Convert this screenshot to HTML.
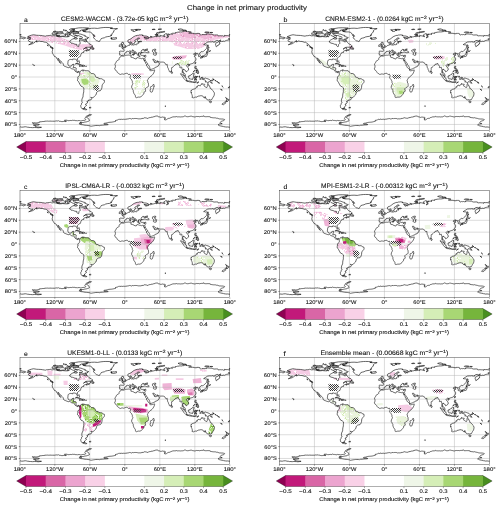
<!DOCTYPE html><html><head><meta charset="utf-8"><style>html,body{margin:0;padding:0;background:#fff;width:500px;height:507px;overflow:hidden}svg{display:block;will-change:transform}text{text-rendering:geometricPrecision;fill:#111;stroke:#111;stroke-width:0.1px}</style></head><body>
<svg width="500" height="507" viewBox="0 0 500 507" style="font-family:'Liberation Sans',sans-serif">
<defs><pattern id="pm" x="0" y="0" width="16" height="16" patternUnits="userSpaceOnUse"><rect width="16" height="16" fill="#f5cbe4"/><rect x="1" y="0" width="1" height="1" fill="#f9d8ea"/><rect x="2" y="0" width="1" height="1" fill="#f9d8ea"/><rect x="3" y="0" width="1" height="1" fill="#eeb2d4"/><rect x="4" y="0" width="1" height="1" fill="#ffffff"/><rect x="2" y="1" width="1" height="1" fill="#ffffff"/><rect x="3" y="1" width="1" height="1" fill="#f9d8ea"/><rect x="4" y="1" width="1" height="1" fill="#ffffff"/><rect x="5" y="2" width="1" height="1" fill="#f9d8ea"/><rect x="7" y="2" width="1" height="1" fill="#fbe3f0"/><rect x="6" y="3" width="1" height="1" fill="#ffffff"/><rect x="7" y="3" width="1" height="1" fill="#ffffff"/><rect x="8" y="3" width="1" height="1" fill="#f9d8ea"/><rect x="7" y="4" width="1" height="1" fill="#ffffff"/><rect x="8" y="4" width="1" height="1" fill="#eeb2d4"/><rect x="9" y="4" width="1" height="1" fill="#f9d8ea"/><rect x="0" y="5" width="1" height="1" fill="#fbe3f0"/><rect x="8" y="5" width="1" height="1" fill="#fbe3f0"/><rect x="9" y="5" width="1" height="1" fill="#f9d8ea"/><rect x="0" y="6" width="1" height="1" fill="#eeb2d4"/><rect x="1" y="6" width="1" height="1" fill="#ffffff"/><rect x="4" y="6" width="1" height="1" fill="#fbe3f0"/><rect x="0" y="7" width="1" height="1" fill="#eeb2d4"/><rect x="9" y="7" width="1" height="1" fill="#f9d8ea"/><rect x="14" y="7" width="1" height="1" fill="#fbe3f0"/><rect x="15" y="7" width="1" height="1" fill="#f9d8ea"/><rect x="1" y="8" width="1" height="1" fill="#ffffff"/><rect x="2" y="8" width="1" height="1" fill="#eeb2d4"/><rect x="8" y="8" width="1" height="1" fill="#f9d8ea"/><rect x="13" y="8" width="1" height="1" fill="#fbe3f0"/><rect x="14" y="8" width="1" height="1" fill="#eeb2d4"/><rect x="15" y="8" width="1" height="1" fill="#f9d8ea"/><rect x="2" y="9" width="1" height="1" fill="#ffffff"/><rect x="6" y="9" width="1" height="1" fill="#eeb2d4"/><rect x="7" y="9" width="1" height="1" fill="#ffffff"/><rect x="8" y="9" width="1" height="1" fill="#ffffff"/><rect x="10" y="9" width="1" height="1" fill="#f9d8ea"/><rect x="13" y="9" width="1" height="1" fill="#f9d8ea"/><rect x="14" y="9" width="1" height="1" fill="#fbe3f0"/><rect x="2" y="10" width="1" height="1" fill="#fbe3f0"/><rect x="4" y="10" width="1" height="1" fill="#eeb2d4"/><rect x="5" y="10" width="1" height="1" fill="#ffffff"/><rect x="6" y="10" width="1" height="1" fill="#ffffff"/><rect x="7" y="10" width="1" height="1" fill="#ffffff"/><rect x="9" y="10" width="1" height="1" fill="#ffffff"/><rect x="10" y="10" width="1" height="1" fill="#fbe3f0"/><rect x="11" y="10" width="1" height="1" fill="#f9d8ea"/><rect x="13" y="10" width="1" height="1" fill="#ffffff"/><rect x="14" y="10" width="1" height="1" fill="#ffffff"/><rect x="0" y="11" width="1" height="1" fill="#eeb2d4"/><rect x="1" y="11" width="1" height="1" fill="#fbe3f0"/><rect x="2" y="11" width="1" height="1" fill="#fbe3f0"/><rect x="6" y="11" width="1" height="1" fill="#ffffff"/><rect x="8" y="11" width="1" height="1" fill="#f9d8ea"/><rect x="9" y="11" width="1" height="1" fill="#fbe3f0"/><rect x="10" y="11" width="1" height="1" fill="#eeb2d4"/><rect x="1" y="12" width="1" height="1" fill="#fbe3f0"/><rect x="7" y="14" width="1" height="1" fill="#f9d8ea"/><rect x="8" y="14" width="1" height="1" fill="#f9d8ea"/><rect x="0" y="15" width="1" height="1" fill="#f9d8ea"/><rect x="1" y="15" width="1" height="1" fill="#f9d8ea"/><rect x="3" y="15" width="1" height="1" fill="#f9d8ea"/><rect x="8" y="15" width="1" height="1" fill="#f9d8ea"/><rect x="9" y="15" width="1" height="1" fill="#eeb2d4"/><rect x="11" y="15" width="1" height="1" fill="#ffffff"/></pattern><pattern id="p2m" x="0" y="0" width="16" height="16" patternUnits="userSpaceOnUse"><rect width="16" height="16" fill="#f0b8d8"/><rect x="1" y="0" width="1" height="1" fill="#f7d9ea"/><rect x="5" y="0" width="1" height="1" fill="#f5cbe4"/><rect x="13" y="0" width="1" height="1" fill="#e79ac6"/><rect x="1" y="1" width="1" height="1" fill="#e79ac6"/><rect x="5" y="1" width="1" height="1" fill="#f7d9ea"/><rect x="1" y="2" width="1" height="1" fill="#e79ac6"/><rect x="6" y="2" width="1" height="1" fill="#f5cbe4"/><rect x="3" y="3" width="1" height="1" fill="#f7d9ea"/><rect x="5" y="3" width="1" height="1" fill="#e79ac6"/><rect x="6" y="3" width="1" height="1" fill="#f7d9ea"/><rect x="7" y="3" width="1" height="1" fill="#e79ac6"/><rect x="4" y="4" width="1" height="1" fill="#f7d9ea"/><rect x="5" y="4" width="1" height="1" fill="#f7d9ea"/><rect x="6" y="4" width="1" height="1" fill="#e79ac6"/><rect x="7" y="4" width="1" height="1" fill="#e79ac6"/><rect x="14" y="4" width="1" height="1" fill="#f5cbe4"/><rect x="2" y="5" width="1" height="1" fill="#e79ac6"/><rect x="3" y="5" width="1" height="1" fill="#e79ac6"/><rect x="4" y="5" width="1" height="1" fill="#f7d9ea"/><rect x="5" y="5" width="1" height="1" fill="#f7d9ea"/><rect x="6" y="5" width="1" height="1" fill="#f5cbe4"/><rect x="7" y="5" width="1" height="1" fill="#f5cbe4"/><rect x="8" y="5" width="1" height="1" fill="#f5cbe4"/><rect x="6" y="6" width="1" height="1" fill="#f7d9ea"/><rect x="7" y="6" width="1" height="1" fill="#f7d9ea"/><rect x="8" y="6" width="1" height="1" fill="#f7d9ea"/><rect x="9" y="6" width="1" height="1" fill="#f7d9ea"/><rect x="10" y="6" width="1" height="1" fill="#f7d9ea"/><rect x="12" y="6" width="1" height="1" fill="#e79ac6"/><rect x="13" y="6" width="1" height="1" fill="#e79ac6"/><rect x="14" y="6" width="1" height="1" fill="#e79ac6"/><rect x="6" y="7" width="1" height="1" fill="#f5cbe4"/><rect x="8" y="7" width="1" height="1" fill="#f7d9ea"/><rect x="9" y="7" width="1" height="1" fill="#f7d9ea"/><rect x="10" y="7" width="1" height="1" fill="#f5cbe4"/><rect x="12" y="7" width="1" height="1" fill="#e79ac6"/><rect x="13" y="7" width="1" height="1" fill="#f7d9ea"/><rect x="14" y="7" width="1" height="1" fill="#e79ac6"/><rect x="9" y="8" width="1" height="1" fill="#f7d9ea"/><rect x="10" y="8" width="1" height="1" fill="#e79ac6"/><rect x="13" y="8" width="1" height="1" fill="#e79ac6"/><rect x="14" y="8" width="1" height="1" fill="#f7d9ea"/><rect x="15" y="8" width="1" height="1" fill="#f7d9ea"/><rect x="5" y="9" width="1" height="1" fill="#f5cbe4"/><rect x="6" y="9" width="1" height="1" fill="#f5cbe4"/><rect x="13" y="9" width="1" height="1" fill="#f7d9ea"/><rect x="14" y="9" width="1" height="1" fill="#f5cbe4"/><rect x="15" y="9" width="1" height="1" fill="#f7d9ea"/><rect x="0" y="10" width="1" height="1" fill="#e79ac6"/><rect x="5" y="10" width="1" height="1" fill="#f5cbe4"/><rect x="6" y="10" width="1" height="1" fill="#f5cbe4"/><rect x="7" y="10" width="1" height="1" fill="#f7d9ea"/><rect x="13" y="10" width="1" height="1" fill="#f5cbe4"/><rect x="14" y="10" width="1" height="1" fill="#f5cbe4"/><rect x="0" y="11" width="1" height="1" fill="#f7d9ea"/><rect x="1" y="11" width="1" height="1" fill="#e79ac6"/><rect x="5" y="11" width="1" height="1" fill="#e79ac6"/><rect x="6" y="11" width="1" height="1" fill="#e79ac6"/><rect x="7" y="11" width="1" height="1" fill="#f7d9ea"/><rect x="8" y="11" width="1" height="1" fill="#e79ac6"/><rect x="13" y="11" width="1" height="1" fill="#e79ac6"/><rect x="14" y="11" width="1" height="1" fill="#e79ac6"/><rect x="15" y="11" width="1" height="1" fill="#f7d9ea"/><rect x="4" y="12" width="1" height="1" fill="#e79ac6"/><rect x="5" y="12" width="1" height="1" fill="#f5cbe4"/><rect x="6" y="12" width="1" height="1" fill="#e79ac6"/><rect x="7" y="12" width="1" height="1" fill="#f7d9ea"/><rect x="8" y="12" width="1" height="1" fill="#e79ac6"/><rect x="12" y="12" width="1" height="1" fill="#f7d9ea"/><rect x="13" y="12" width="1" height="1" fill="#f5cbe4"/><rect x="14" y="12" width="1" height="1" fill="#f7d9ea"/><rect x="15" y="12" width="1" height="1" fill="#f5cbe4"/><rect x="3" y="13" width="1" height="1" fill="#e79ac6"/><rect x="7" y="13" width="1" height="1" fill="#e79ac6"/><rect x="8" y="13" width="1" height="1" fill="#f5cbe4"/><rect x="11" y="13" width="1" height="1" fill="#f7d9ea"/><rect x="12" y="13" width="1" height="1" fill="#f7d9ea"/><rect x="13" y="13" width="1" height="1" fill="#f7d9ea"/><rect x="14" y="13" width="1" height="1" fill="#e79ac6"/><rect x="1" y="14" width="1" height="1" fill="#f5cbe4"/><rect x="2" y="14" width="1" height="1" fill="#f7d9ea"/><rect x="10" y="14" width="1" height="1" fill="#f7d9ea"/><rect x="13" y="14" width="1" height="1" fill="#f7d9ea"/><rect x="14" y="14" width="1" height="1" fill="#f7d9ea"/><rect x="0" y="15" width="1" height="1" fill="#f5cbe4"/><rect x="1" y="15" width="1" height="1" fill="#f7d9ea"/><rect x="2" y="15" width="1" height="1" fill="#e79ac6"/><rect x="5" y="15" width="1" height="1" fill="#f5cbe4"/><rect x="9" y="15" width="1" height="1" fill="#e79ac6"/><rect x="10" y="15" width="1" height="1" fill="#e79ac6"/></pattern><pattern id="gm" x="0" y="0" width="16" height="16" patternUnits="userSpaceOnUse"><rect width="16" height="16" fill="#eaf4dc"/><rect x="7" y="0" width="1" height="1" fill="#ffffff"/><rect x="8" y="0" width="1" height="1" fill="#f6faf0"/><rect x="9" y="0" width="1" height="1" fill="#f6faf0"/><rect x="5" y="1" width="1" height="1" fill="#d2ecb2"/><rect x="6" y="1" width="1" height="1" fill="#f6faf0"/><rect x="7" y="1" width="1" height="1" fill="#f6faf0"/><rect x="8" y="1" width="1" height="1" fill="#ffffff"/><rect x="9" y="1" width="1" height="1" fill="#d2ecb2"/><rect x="10" y="1" width="1" height="1" fill="#f6faf0"/><rect x="9" y="2" width="1" height="1" fill="#d2ecb2"/><rect x="10" y="2" width="1" height="1" fill="#f6faf0"/><rect x="11" y="2" width="1" height="1" fill="#f6faf0"/><rect x="12" y="2" width="1" height="1" fill="#ffffff"/><rect x="8" y="3" width="1" height="1" fill="#f6faf0"/><rect x="9" y="3" width="1" height="1" fill="#ffffff"/><rect x="10" y="3" width="1" height="1" fill="#d2ecb2"/><rect x="9" y="4" width="1" height="1" fill="#d2ecb2"/><rect x="10" y="4" width="1" height="1" fill="#ffffff"/><rect x="0" y="5" width="1" height="1" fill="#d2ecb2"/><rect x="8" y="5" width="1" height="1" fill="#f6faf0"/><rect x="9" y="5" width="1" height="1" fill="#d2ecb2"/><rect x="10" y="5" width="1" height="1" fill="#f6faf0"/><rect x="9" y="6" width="1" height="1" fill="#f6faf0"/><rect x="10" y="6" width="1" height="1" fill="#d2ecb2"/><rect x="8" y="7" width="1" height="1" fill="#ffffff"/><rect x="9" y="7" width="1" height="1" fill="#f6faf0"/><rect x="10" y="7" width="1" height="1" fill="#f6faf0"/><rect x="8" y="8" width="1" height="1" fill="#f6faf0"/><rect x="9" y="8" width="1" height="1" fill="#d2ecb2"/><rect x="10" y="8" width="1" height="1" fill="#f6faf0"/><rect x="1" y="9" width="1" height="1" fill="#d2ecb2"/><rect x="2" y="9" width="1" height="1" fill="#f6faf0"/><rect x="7" y="9" width="1" height="1" fill="#ffffff"/><rect x="8" y="9" width="1" height="1" fill="#d2ecb2"/><rect x="9" y="9" width="1" height="1" fill="#d2ecb2"/><rect x="10" y="9" width="1" height="1" fill="#f6faf0"/><rect x="0" y="10" width="1" height="1" fill="#f6faf0"/><rect x="1" y="10" width="1" height="1" fill="#d2ecb2"/><rect x="2" y="10" width="1" height="1" fill="#ffffff"/><rect x="3" y="10" width="1" height="1" fill="#ffffff"/><rect x="4" y="10" width="1" height="1" fill="#ffffff"/><rect x="5" y="10" width="1" height="1" fill="#f6faf0"/><rect x="8" y="10" width="1" height="1" fill="#d2ecb2"/><rect x="9" y="10" width="1" height="1" fill="#f6faf0"/><rect x="10" y="10" width="1" height="1" fill="#f6faf0"/><rect x="2" y="11" width="1" height="1" fill="#ffffff"/><rect x="3" y="11" width="1" height="1" fill="#d2ecb2"/><rect x="4" y="11" width="1" height="1" fill="#d2ecb2"/><rect x="9" y="11" width="1" height="1" fill="#d2ecb2"/><rect x="4" y="12" width="1" height="1" fill="#d2ecb2"/><rect x="8" y="12" width="1" height="1" fill="#d2ecb2"/><rect x="10" y="12" width="1" height="1" fill="#ffffff"/><rect x="6" y="13" width="1" height="1" fill="#ffffff"/><rect x="7" y="13" width="1" height="1" fill="#d2ecb2"/><rect x="8" y="13" width="1" height="1" fill="#f6faf0"/><rect x="14" y="13" width="1" height="1" fill="#ffffff"/><rect x="0" y="14" width="1" height="1" fill="#f6faf0"/><rect x="6" y="14" width="1" height="1" fill="#d2ecb2"/><rect x="7" y="14" width="1" height="1" fill="#f6faf0"/><rect x="8" y="14" width="1" height="1" fill="#ffffff"/><rect x="14" y="14" width="1" height="1" fill="#f6faf0"/><rect x="15" y="14" width="1" height="1" fill="#ffffff"/><rect x="7" y="15" width="1" height="1" fill="#d2ecb2"/><rect x="8" y="15" width="1" height="1" fill="#f6faf0"/></pattern><pattern id="ps" x="0" y="0" width="16" height="16" patternUnits="userSpaceOnUse"><rect x="9" y="0" width="1" height="1" fill="#f9dcec"/><rect x="11" y="0" width="1" height="1" fill="#efb3d6"/><rect x="12" y="0" width="1" height="1" fill="#efb3d6"/><rect x="13" y="0" width="1" height="1" fill="#f5cbe4"/><rect x="2" y="1" width="1" height="1" fill="#f5cbe4"/><rect x="9" y="1" width="1" height="1" fill="#f9dcec"/><rect x="10" y="1" width="1" height="1" fill="#f5cbe4"/><rect x="11" y="1" width="1" height="1" fill="#f9dcec"/><rect x="12" y="1" width="1" height="1" fill="#f9dcec"/><rect x="2" y="2" width="1" height="1" fill="#efb3d6"/><rect x="8" y="2" width="1" height="1" fill="#f5cbe4"/><rect x="9" y="2" width="1" height="1" fill="#f5cbe4"/><rect x="10" y="2" width="1" height="1" fill="#f5cbe4"/><rect x="11" y="2" width="1" height="1" fill="#f9dcec"/><rect x="12" y="2" width="1" height="1" fill="#f5cbe4"/><rect x="13" y="2" width="1" height="1" fill="#f5cbe4"/><rect x="14" y="2" width="1" height="1" fill="#f5cbe4"/><rect x="0" y="3" width="1" height="1" fill="#f5cbe4"/><rect x="10" y="3" width="1" height="1" fill="#f5cbe4"/><rect x="11" y="3" width="1" height="1" fill="#f9dcec"/><rect x="12" y="3" width="1" height="1" fill="#f5cbe4"/><rect x="13" y="3" width="1" height="1" fill="#f9dcec"/><rect x="14" y="3" width="1" height="1" fill="#f9dcec"/><rect x="15" y="3" width="1" height="1" fill="#f5cbe4"/><rect x="0" y="4" width="1" height="1" fill="#efb3d6"/><rect x="1" y="4" width="1" height="1" fill="#f5cbe4"/><rect x="7" y="4" width="1" height="1" fill="#f5cbe4"/><rect x="8" y="4" width="1" height="1" fill="#f5cbe4"/><rect x="9" y="4" width="1" height="1" fill="#f5cbe4"/><rect x="10" y="4" width="1" height="1" fill="#efb3d6"/><rect x="11" y="4" width="1" height="1" fill="#f9dcec"/><rect x="12" y="4" width="1" height="1" fill="#efb3d6"/><rect x="13" y="4" width="1" height="1" fill="#f5cbe4"/><rect x="14" y="4" width="1" height="1" fill="#f5cbe4"/><rect x="15" y="4" width="1" height="1" fill="#efb3d6"/><rect x="0" y="5" width="1" height="1" fill="#f9dcec"/><rect x="1" y="5" width="1" height="1" fill="#f5cbe4"/><rect x="4" y="5" width="1" height="1" fill="#efb3d6"/><rect x="5" y="5" width="1" height="1" fill="#f5cbe4"/><rect x="6" y="5" width="1" height="1" fill="#f5cbe4"/><rect x="7" y="5" width="1" height="1" fill="#f9dcec"/><rect x="8" y="5" width="1" height="1" fill="#f5cbe4"/><rect x="9" y="5" width="1" height="1" fill="#f9dcec"/><rect x="10" y="5" width="1" height="1" fill="#f5cbe4"/><rect x="12" y="5" width="1" height="1" fill="#f5cbe4"/><rect x="15" y="5" width="1" height="1" fill="#f5cbe4"/><rect x="0" y="6" width="1" height="1" fill="#f5cbe4"/><rect x="1" y="6" width="1" height="1" fill="#f5cbe4"/><rect x="2" y="6" width="1" height="1" fill="#f9dcec"/><rect x="3" y="6" width="1" height="1" fill="#f9dcec"/><rect x="5" y="6" width="1" height="1" fill="#f9dcec"/><rect x="6" y="6" width="1" height="1" fill="#f9dcec"/><rect x="7" y="6" width="1" height="1" fill="#efb3d6"/><rect x="8" y="6" width="1" height="1" fill="#f5cbe4"/><rect x="9" y="6" width="1" height="1" fill="#f5cbe4"/><rect x="10" y="6" width="1" height="1" fill="#f9dcec"/><rect x="11" y="6" width="1" height="1" fill="#f5cbe4"/><rect x="0" y="7" width="1" height="1" fill="#f5cbe4"/><rect x="1" y="7" width="1" height="1" fill="#f9dcec"/><rect x="3" y="7" width="1" height="1" fill="#f5cbe4"/><rect x="4" y="7" width="1" height="1" fill="#f5cbe4"/><rect x="5" y="7" width="1" height="1" fill="#efb3d6"/><rect x="8" y="7" width="1" height="1" fill="#f5cbe4"/><rect x="9" y="7" width="1" height="1" fill="#f5cbe4"/><rect x="10" y="7" width="1" height="1" fill="#efb3d6"/><rect x="4" y="8" width="1" height="1" fill="#f5cbe4"/><rect x="5" y="8" width="1" height="1" fill="#f5cbe4"/><rect x="7" y="8" width="1" height="1" fill="#f5cbe4"/><rect x="8" y="8" width="1" height="1" fill="#f9dcec"/><rect x="9" y="8" width="1" height="1" fill="#f5cbe4"/><rect x="10" y="8" width="1" height="1" fill="#f5cbe4"/><rect x="2" y="9" width="1" height="1" fill="#f9dcec"/><rect x="4" y="9" width="1" height="1" fill="#f5cbe4"/><rect x="7" y="9" width="1" height="1" fill="#efb3d6"/><rect x="8" y="9" width="1" height="1" fill="#f5cbe4"/><rect x="9" y="9" width="1" height="1" fill="#f9dcec"/><rect x="12" y="9" width="1" height="1" fill="#f9dcec"/><rect x="2" y="10" width="1" height="1" fill="#f5cbe4"/><rect x="3" y="10" width="1" height="1" fill="#f5cbe4"/><rect x="4" y="10" width="1" height="1" fill="#f9dcec"/><rect x="8" y="10" width="1" height="1" fill="#f5cbe4"/><rect x="9" y="10" width="1" height="1" fill="#f5cbe4"/><rect x="11" y="10" width="1" height="1" fill="#f5cbe4"/><rect x="12" y="10" width="1" height="1" fill="#f9dcec"/><rect x="2" y="11" width="1" height="1" fill="#f9dcec"/><rect x="3" y="11" width="1" height="1" fill="#f5cbe4"/><rect x="4" y="11" width="1" height="1" fill="#f9dcec"/><rect x="9" y="11" width="1" height="1" fill="#f5cbe4"/><rect x="10" y="11" width="1" height="1" fill="#efb3d6"/><rect x="11" y="11" width="1" height="1" fill="#f9dcec"/><rect x="12" y="11" width="1" height="1" fill="#f5cbe4"/><rect x="2" y="12" width="1" height="1" fill="#efb3d6"/><rect x="3" y="12" width="1" height="1" fill="#f5cbe4"/><rect x="5" y="12" width="1" height="1" fill="#f5cbe4"/><rect x="6" y="12" width="1" height="1" fill="#f9dcec"/><rect x="9" y="12" width="1" height="1" fill="#f9dcec"/><rect x="10" y="12" width="1" height="1" fill="#f9dcec"/><rect x="11" y="12" width="1" height="1" fill="#f5cbe4"/><rect x="14" y="12" width="1" height="1" fill="#f5cbe4"/><rect x="1" y="13" width="1" height="1" fill="#efb3d6"/><rect x="2" y="13" width="1" height="1" fill="#efb3d6"/><rect x="3" y="13" width="1" height="1" fill="#f5cbe4"/><rect x="4" y="13" width="1" height="1" fill="#f5cbe4"/><rect x="5" y="13" width="1" height="1" fill="#f5cbe4"/><rect x="6" y="13" width="1" height="1" fill="#efb3d6"/><rect x="10" y="13" width="1" height="1" fill="#f5cbe4"/><rect x="11" y="13" width="1" height="1" fill="#f9dcec"/><rect x="12" y="13" width="1" height="1" fill="#efb3d6"/><rect x="13" y="13" width="1" height="1" fill="#f5cbe4"/><rect x="14" y="13" width="1" height="1" fill="#efb3d6"/><rect x="15" y="13" width="1" height="1" fill="#f5cbe4"/><rect x="0" y="14" width="1" height="1" fill="#f5cbe4"/><rect x="2" y="14" width="1" height="1" fill="#f5cbe4"/><rect x="3" y="14" width="1" height="1" fill="#f9dcec"/><rect x="4" y="14" width="1" height="1" fill="#f5cbe4"/><rect x="5" y="14" width="1" height="1" fill="#f5cbe4"/><rect x="6" y="14" width="1" height="1" fill="#f9dcec"/><rect x="11" y="14" width="1" height="1" fill="#efb3d6"/><rect x="12" y="14" width="1" height="1" fill="#f5cbe4"/><rect x="13" y="14" width="1" height="1" fill="#f9dcec"/><rect x="14" y="14" width="1" height="1" fill="#f5cbe4"/><rect x="15" y="14" width="1" height="1" fill="#efb3d6"/><rect x="5" y="15" width="1" height="1" fill="#f5cbe4"/><rect x="11" y="15" width="1" height="1" fill="#f5cbe4"/><rect x="12" y="15" width="1" height="1" fill="#efb3d6"/><rect x="13" y="15" width="1" height="1" fill="#f9dcec"/><rect x="14" y="15" width="1" height="1" fill="#efb3d6"/><rect x="15" y="15" width="1" height="1" fill="#f9dcec"/></pattern><pattern id="gs" x="0" y="0" width="16" height="16" patternUnits="userSpaceOnUse"><rect x="0" y="0" width="1" height="1" fill="#eaf4dc"/><rect x="1" y="0" width="1" height="1" fill="#eaf4dc"/><rect x="2" y="0" width="1" height="1" fill="#d5eeb7"/><rect x="3" y="0" width="1" height="1" fill="#d5eeb7"/><rect x="5" y="0" width="1" height="1" fill="#d5eeb7"/><rect x="6" y="0" width="1" height="1" fill="#eaf4dc"/><rect x="7" y="0" width="1" height="1" fill="#eaf4dc"/><rect x="8" y="0" width="1" height="1" fill="#d5eeb7"/><rect x="9" y="0" width="1" height="1" fill="#d5eeb7"/><rect x="10" y="0" width="1" height="1" fill="#eaf4dc"/><rect x="11" y="0" width="1" height="1" fill="#eaf4dc"/><rect x="12" y="0" width="1" height="1" fill="#eaf4dc"/><rect x="15" y="0" width="1" height="1" fill="#eaf4dc"/><rect x="3" y="1" width="1" height="1" fill="#eaf4dc"/><rect x="4" y="1" width="1" height="1" fill="#eaf4dc"/><rect x="5" y="1" width="1" height="1" fill="#eaf4dc"/><rect x="6" y="1" width="1" height="1" fill="#d5eeb7"/><rect x="7" y="1" width="1" height="1" fill="#d5eeb7"/><rect x="8" y="1" width="1" height="1" fill="#d5eeb7"/><rect x="9" y="1" width="1" height="1" fill="#d5eeb7"/><rect x="10" y="1" width="1" height="1" fill="#eaf4dc"/><rect x="11" y="1" width="1" height="1" fill="#d5eeb7"/><rect x="15" y="1" width="1" height="1" fill="#d5eeb7"/><rect x="0" y="2" width="1" height="1" fill="#d5eeb7"/><rect x="4" y="2" width="1" height="1" fill="#eaf4dc"/><rect x="5" y="2" width="1" height="1" fill="#d5eeb7"/><rect x="6" y="2" width="1" height="1" fill="#eaf4dc"/><rect x="7" y="2" width="1" height="1" fill="#eaf4dc"/><rect x="8" y="2" width="1" height="1" fill="#d5eeb7"/><rect x="9" y="2" width="1" height="1" fill="#eaf4dc"/><rect x="10" y="2" width="1" height="1" fill="#eaf4dc"/><rect x="11" y="2" width="1" height="1" fill="#d5eeb7"/><rect x="14" y="2" width="1" height="1" fill="#eaf4dc"/><rect x="15" y="2" width="1" height="1" fill="#eaf4dc"/><rect x="0" y="3" width="1" height="1" fill="#eaf4dc"/><rect x="1" y="3" width="1" height="1" fill="#eaf4dc"/><rect x="4" y="3" width="1" height="1" fill="#eaf4dc"/><rect x="5" y="3" width="1" height="1" fill="#eaf4dc"/><rect x="6" y="3" width="1" height="1" fill="#d5eeb7"/><rect x="7" y="3" width="1" height="1" fill="#d5eeb7"/><rect x="8" y="3" width="1" height="1" fill="#eaf4dc"/><rect x="9" y="3" width="1" height="1" fill="#eaf4dc"/><rect x="14" y="3" width="1" height="1" fill="#eaf4dc"/><rect x="15" y="3" width="1" height="1" fill="#d5eeb7"/><rect x="0" y="4" width="1" height="1" fill="#d5eeb7"/><rect x="4" y="4" width="1" height="1" fill="#eaf4dc"/><rect x="5" y="4" width="1" height="1" fill="#eaf4dc"/><rect x="7" y="4" width="1" height="1" fill="#eaf4dc"/><rect x="8" y="4" width="1" height="1" fill="#eaf4dc"/><rect x="9" y="4" width="1" height="1" fill="#eaf4dc"/><rect x="14" y="4" width="1" height="1" fill="#d5eeb7"/><rect x="15" y="4" width="1" height="1" fill="#eaf4dc"/><rect x="0" y="5" width="1" height="1" fill="#eaf4dc"/><rect x="4" y="5" width="1" height="1" fill="#eaf4dc"/><rect x="7" y="5" width="1" height="1" fill="#eaf4dc"/><rect x="8" y="5" width="1" height="1" fill="#eaf4dc"/><rect x="14" y="5" width="1" height="1" fill="#eaf4dc"/><rect x="15" y="5" width="1" height="1" fill="#eaf4dc"/><rect x="0" y="6" width="1" height="1" fill="#eaf4dc"/><rect x="8" y="6" width="1" height="1" fill="#eaf4dc"/><rect x="9" y="6" width="1" height="1" fill="#d5eeb7"/><rect x="14" y="6" width="1" height="1" fill="#eaf4dc"/><rect x="0" y="7" width="1" height="1" fill="#d5eeb7"/><rect x="6" y="7" width="1" height="1" fill="#d5eeb7"/><rect x="7" y="7" width="1" height="1" fill="#d5eeb7"/><rect x="8" y="7" width="1" height="1" fill="#eaf4dc"/><rect x="15" y="7" width="1" height="1" fill="#eaf4dc"/><rect x="5" y="8" width="1" height="1" fill="#eaf4dc"/><rect x="6" y="8" width="1" height="1" fill="#d5eeb7"/><rect x="7" y="8" width="1" height="1" fill="#d5eeb7"/><rect x="4" y="9" width="1" height="1" fill="#d5eeb7"/><rect x="5" y="9" width="1" height="1" fill="#d5eeb7"/><rect x="6" y="9" width="1" height="1" fill="#eaf4dc"/><rect x="7" y="9" width="1" height="1" fill="#eaf4dc"/><rect x="14" y="9" width="1" height="1" fill="#eaf4dc"/><rect x="15" y="9" width="1" height="1" fill="#eaf4dc"/><rect x="3" y="10" width="1" height="1" fill="#d5eeb7"/><rect x="4" y="10" width="1" height="1" fill="#eaf4dc"/><rect x="5" y="10" width="1" height="1" fill="#eaf4dc"/><rect x="6" y="10" width="1" height="1" fill="#eaf4dc"/><rect x="13" y="10" width="1" height="1" fill="#eaf4dc"/><rect x="14" y="10" width="1" height="1" fill="#eaf4dc"/><rect x="15" y="10" width="1" height="1" fill="#eaf4dc"/><rect x="3" y="11" width="1" height="1" fill="#d5eeb7"/><rect x="4" y="11" width="1" height="1" fill="#eaf4dc"/><rect x="5" y="11" width="1" height="1" fill="#d5eeb7"/><rect x="6" y="11" width="1" height="1" fill="#eaf4dc"/><rect x="10" y="11" width="1" height="1" fill="#eaf4dc"/><rect x="13" y="11" width="1" height="1" fill="#eaf4dc"/><rect x="14" y="11" width="1" height="1" fill="#eaf4dc"/><rect x="15" y="11" width="1" height="1" fill="#eaf4dc"/><rect x="4" y="12" width="1" height="1" fill="#eaf4dc"/><rect x="5" y="12" width="1" height="1" fill="#d5eeb7"/><rect x="6" y="12" width="1" height="1" fill="#eaf4dc"/><rect x="10" y="12" width="1" height="1" fill="#eaf4dc"/><rect x="12" y="12" width="1" height="1" fill="#eaf4dc"/><rect x="13" y="12" width="1" height="1" fill="#eaf4dc"/><rect x="14" y="12" width="1" height="1" fill="#eaf4dc"/><rect x="4" y="13" width="1" height="1" fill="#eaf4dc"/><rect x="5" y="13" width="1" height="1" fill="#eaf4dc"/><rect x="6" y="13" width="1" height="1" fill="#eaf4dc"/><rect x="7" y="13" width="1" height="1" fill="#d5eeb7"/><rect x="9" y="13" width="1" height="1" fill="#d5eeb7"/><rect x="10" y="13" width="1" height="1" fill="#eaf4dc"/><rect x="11" y="13" width="1" height="1" fill="#eaf4dc"/><rect x="12" y="13" width="1" height="1" fill="#eaf4dc"/><rect x="3" y="14" width="1" height="1" fill="#d5eeb7"/><rect x="4" y="14" width="1" height="1" fill="#d5eeb7"/><rect x="5" y="14" width="1" height="1" fill="#eaf4dc"/><rect x="6" y="14" width="1" height="1" fill="#eaf4dc"/><rect x="7" y="14" width="1" height="1" fill="#eaf4dc"/><rect x="8" y="14" width="1" height="1" fill="#eaf4dc"/><rect x="9" y="14" width="1" height="1" fill="#d5eeb7"/><rect x="10" y="14" width="1" height="1" fill="#eaf4dc"/><rect x="11" y="14" width="1" height="1" fill="#eaf4dc"/><rect x="12" y="14" width="1" height="1" fill="#eaf4dc"/><rect x="1" y="15" width="1" height="1" fill="#d5eeb7"/><rect x="2" y="15" width="1" height="1" fill="#eaf4dc"/><rect x="3" y="15" width="1" height="1" fill="#d5eeb7"/><rect x="4" y="15" width="1" height="1" fill="#eaf4dc"/><rect x="5" y="15" width="1" height="1" fill="#eaf4dc"/><rect x="6" y="15" width="1" height="1" fill="#d5eeb7"/><rect x="7" y="15" width="1" height="1" fill="#eaf4dc"/><rect x="8" y="15" width="1" height="1" fill="#eaf4dc"/><rect x="9" y="15" width="1" height="1" fill="#d5eeb7"/><rect x="10" y="15" width="1" height="1" fill="#eaf4dc"/><rect x="11" y="15" width="1" height="1" fill="#d5eeb7"/><rect x="12" y="15" width="1" height="1" fill="#eaf4dc"/></pattern><pattern id="g3m" x="0" y="0" width="16" height="16" patternUnits="userSpaceOnUse"><rect width="16" height="16" fill="#a8d774"/><rect x="1" y="0" width="1" height="1" fill="#76b53c"/><rect x="2" y="0" width="1" height="1" fill="#eaf4dc"/><rect x="3" y="0" width="1" height="1" fill="#8cc653"/><rect x="14" y="0" width="1" height="1" fill="#8cc653"/><rect x="2" y="1" width="1" height="1" fill="#eaf4dc"/><rect x="3" y="1" width="1" height="1" fill="#8cc653"/><rect x="4" y="1" width="1" height="1" fill="#d5eeb7"/><rect x="11" y="1" width="1" height="1" fill="#d5eeb7"/><rect x="13" y="1" width="1" height="1" fill="#8cc653"/><rect x="3" y="2" width="1" height="1" fill="#8cc653"/><rect x="9" y="2" width="1" height="1" fill="#eaf4dc"/><rect x="10" y="2" width="1" height="1" fill="#eaf4dc"/><rect x="11" y="2" width="1" height="1" fill="#eaf4dc"/><rect x="14" y="2" width="1" height="1" fill="#8cc653"/><rect x="15" y="2" width="1" height="1" fill="#76b53c"/><rect x="2" y="3" width="1" height="1" fill="#eaf4dc"/><rect x="5" y="3" width="1" height="1" fill="#76b53c"/><rect x="10" y="3" width="1" height="1" fill="#76b53c"/><rect x="11" y="3" width="1" height="1" fill="#76b53c"/><rect x="14" y="3" width="1" height="1" fill="#76b53c"/><rect x="15" y="3" width="1" height="1" fill="#76b53c"/><rect x="2" y="4" width="1" height="1" fill="#8cc653"/><rect x="3" y="4" width="1" height="1" fill="#eaf4dc"/><rect x="4" y="4" width="1" height="1" fill="#76b53c"/><rect x="5" y="4" width="1" height="1" fill="#8cc653"/><rect x="6" y="4" width="1" height="1" fill="#d5eeb7"/><rect x="7" y="4" width="1" height="1" fill="#eaf4dc"/><rect x="10" y="4" width="1" height="1" fill="#eaf4dc"/><rect x="11" y="4" width="1" height="1" fill="#d5eeb7"/><rect x="2" y="5" width="1" height="1" fill="#8cc653"/><rect x="3" y="5" width="1" height="1" fill="#8cc653"/><rect x="4" y="5" width="1" height="1" fill="#d5eeb7"/><rect x="5" y="5" width="1" height="1" fill="#d5eeb7"/><rect x="6" y="5" width="1" height="1" fill="#d5eeb7"/><rect x="7" y="5" width="1" height="1" fill="#76b53c"/><rect x="10" y="5" width="1" height="1" fill="#76b53c"/><rect x="11" y="5" width="1" height="1" fill="#76b53c"/><rect x="12" y="5" width="1" height="1" fill="#eaf4dc"/><rect x="0" y="6" width="1" height="1" fill="#d5eeb7"/><rect x="3" y="6" width="1" height="1" fill="#eaf4dc"/><rect x="4" y="6" width="1" height="1" fill="#d5eeb7"/><rect x="5" y="6" width="1" height="1" fill="#8cc653"/><rect x="6" y="6" width="1" height="1" fill="#eaf4dc"/><rect x="9" y="6" width="1" height="1" fill="#76b53c"/><rect x="10" y="6" width="1" height="1" fill="#8cc653"/><rect x="14" y="6" width="1" height="1" fill="#d5eeb7"/><rect x="15" y="6" width="1" height="1" fill="#8cc653"/><rect x="3" y="7" width="1" height="1" fill="#eaf4dc"/><rect x="4" y="7" width="1" height="1" fill="#eaf4dc"/><rect x="5" y="7" width="1" height="1" fill="#76b53c"/><rect x="8" y="7" width="1" height="1" fill="#d5eeb7"/><rect x="9" y="7" width="1" height="1" fill="#8cc653"/><rect x="10" y="7" width="1" height="1" fill="#eaf4dc"/><rect x="13" y="7" width="1" height="1" fill="#76b53c"/><rect x="14" y="7" width="1" height="1" fill="#76b53c"/><rect x="15" y="7" width="1" height="1" fill="#eaf4dc"/><rect x="4" y="8" width="1" height="1" fill="#eaf4dc"/><rect x="5" y="8" width="1" height="1" fill="#76b53c"/><rect x="8" y="8" width="1" height="1" fill="#d5eeb7"/><rect x="9" y="8" width="1" height="1" fill="#d5eeb7"/><rect x="10" y="8" width="1" height="1" fill="#d5eeb7"/><rect x="13" y="8" width="1" height="1" fill="#76b53c"/><rect x="14" y="8" width="1" height="1" fill="#eaf4dc"/><rect x="4" y="9" width="1" height="1" fill="#eaf4dc"/><rect x="5" y="9" width="1" height="1" fill="#d5eeb7"/><rect x="3" y="10" width="1" height="1" fill="#76b53c"/><rect x="4" y="10" width="1" height="1" fill="#76b53c"/><rect x="5" y="10" width="1" height="1" fill="#76b53c"/><rect x="2" y="11" width="1" height="1" fill="#8cc653"/><rect x="3" y="11" width="1" height="1" fill="#eaf4dc"/><rect x="4" y="11" width="1" height="1" fill="#8cc653"/><rect x="5" y="11" width="1" height="1" fill="#eaf4dc"/><rect x="10" y="11" width="1" height="1" fill="#8cc653"/><rect x="11" y="11" width="1" height="1" fill="#8cc653"/><rect x="1" y="12" width="1" height="1" fill="#8cc653"/><rect x="2" y="12" width="1" height="1" fill="#d5eeb7"/><rect x="9" y="12" width="1" height="1" fill="#d5eeb7"/><rect x="10" y="12" width="1" height="1" fill="#d5eeb7"/><rect x="11" y="12" width="1" height="1" fill="#eaf4dc"/><rect x="14" y="12" width="1" height="1" fill="#d5eeb7"/><rect x="8" y="13" width="1" height="1" fill="#eaf4dc"/><rect x="9" y="13" width="1" height="1" fill="#8cc653"/><rect x="10" y="13" width="1" height="1" fill="#8cc653"/><rect x="14" y="13" width="1" height="1" fill="#8cc653"/><rect x="15" y="13" width="1" height="1" fill="#d5eeb7"/><rect x="0" y="14" width="1" height="1" fill="#eaf4dc"/><rect x="1" y="14" width="1" height="1" fill="#d5eeb7"/><rect x="7" y="14" width="1" height="1" fill="#76b53c"/><rect x="8" y="14" width="1" height="1" fill="#8cc653"/><rect x="9" y="14" width="1" height="1" fill="#76b53c"/><rect x="10" y="14" width="1" height="1" fill="#eaf4dc"/><rect x="11" y="14" width="1" height="1" fill="#d5eeb7"/><rect x="12" y="14" width="1" height="1" fill="#d5eeb7"/><rect x="13" y="14" width="1" height="1" fill="#eaf4dc"/><rect x="14" y="14" width="1" height="1" fill="#8cc653"/><rect x="15" y="14" width="1" height="1" fill="#8cc653"/><rect x="0" y="15" width="1" height="1" fill="#76b53c"/><rect x="1" y="15" width="1" height="1" fill="#eaf4dc"/><rect x="2" y="15" width="1" height="1" fill="#eaf4dc"/><rect x="5" y="15" width="1" height="1" fill="#76b53c"/><rect x="6" y="15" width="1" height="1" fill="#d5eeb7"/><rect x="11" y="15" width="1" height="1" fill="#8cc653"/><rect x="12" y="15" width="1" height="1" fill="#eaf4dc"/></pattern><pattern id="hx" x="0" y="0" width="2" height="2" patternUnits="userSpaceOnUse"><rect x="0" y="0" width="1" height="1" fill="#333" shape-rendering="crispEdges"/><rect x="1" y="1" width="1" height="1" fill="#333" shape-rendering="crispEdges"/></pattern>
<path id="landpath" clip-rule="evenodd" d="M12 24.4L14 23.7L16.3 23.4L18 24L18.5 23.1L16.2 22.8L13.5 21.7L15.5 21.1L17 20.3L20 19.4L23.2 18.7L26 19.1L29 19.6L32 19.7L36 19.9L39 20.3L42 20.8L44 21.1L45.5 20.4L48 20.3L50.5 20L52 19.5L54 20.4L55.6 20.6L58 20.2L61 20.6L64 21.3L66 21.8L68 22.2L71 22.1L73.5 21.7L76 22L78.5 22.2L81.5 22.2L83 21.5L84 22L85 21.2L86 20L84.5 18.2L86.5 18L88 19.5L90 20.7L92 21.4L93.5 22L94.5 20.2L97.5 20.4L98.7 21.4L97.5 22.5L96 23.4L94.4 23.5L93.2 24.1L92.5 25.4L90.5 26L89.2 26.8L87.5 27.8L85.8 29.2L85.4 31L86.8 31.2L87.8 32.9L90 33L92 33.6L94.5 34.7L97.7 34.9L97.8 37L98.5 37.8L100 38.7L101 38.4L101.2 37L101 35.5L102.5 34.4L103.4 33.5L103.5 32L102.6 31L102.7 29.2L101.8 27.6L104.5 27.7L107 27.9L108.5 28.9L110.5 29L110.6 30L112 30.6L113.5 30.4L115.3 29.7L117 32L118.5 33.7L120.5 34.8L122.4 35.4L124 37L124.3 38L122.7 39.3L120 39.8L116.5 39.7L113.5 40L111 41.7L109 43.1L111.5 41.4L113.5 40.8L115.5 41.2L115 42.1L115.2 43L116.2 43.8L118.5 44.2L119.5 43.6L120 44.3L118.5 44.8L116.5 45.4L114.2 46.4L113.8 45.5L115.5 44.7L114 44.8L112.7 45.4L111.2 45.8L109.8 46.5L109.3 47.4L110 48L110 48.4L108.7 48.6L107.5 48.8L106 49.4L105.8 50.2L105.1 51.1L104.9 51.6L104.3 52.5L104 53.2L104.5 54.4L103.8 55.2L102.5 55.6L101.2 56.4L100.4 57.3L99.2 58.2L98.6 59.5L99 60.8L99.6 62.6L99.9 64L99.5 64.8L98.7 64.5L98.2 63.4L97.3 62L97.1 60.7L96 60L94.7 60.3L93.5 59.6L91.9 59.6L90.6 59.8L90.9 60.8L89.8 60.9L88.2 60.4L86.5 60.3L85.2 60.7L83.5 61.7L82.7 62.7L82.6 64.1L82.4 66L82.2 67.7L82.8 69.3L83.6 70.7L85 71.5L86 71.8L87.8 71.4L89 71L89.6 69.2L91 68.7L92.8 68.5L92.6 70.2L92.2 71.7L91.7 73.2L91.4 74.3L92.5 74.2L95 74.1L96.7 75L96.4 76.7L96.2 78.5L96.6 79.4L97.5 80.5L98.5 81.2L100 80.7L101 80.5L102.6 81.4L103.2 82L103.7 80.7L104.4 79.5L105.1 79L106.7 78.7L107.8 78.1L108.6 77.7L108.4 78.6L108.2 79.2L108.4 80.4L109 79.2L109.8 78.5L110.5 78.5L111.6 79.3L113.8 79.4L115.7 79.4L117.8 79.4L118.2 80L119.3 81.5L120.6 82.1L121.6 83L122.8 84.2L124.2 84.1L126 84.3L127.5 85.1L128.5 85.8L129.1 87.2L130 88.3L130 89.5L131.4 90.7L132.2 90.6L134 91.1L135.2 91.6L135.7 92.8L138 92.8L140 92.9L141.5 93.7L143 94.9L144.7 95.2L145.1 97.5L144.8 99L143.4 100.4L142.4 102L141.2 103.2L141 105L140.8 107.4L140.2 109.6L139.1 111.8L138.1 113L135.4 113.4L133.5 114.1L132 115.5L131.4 117L131.2 118.6L129.8 120.8L128.6 121.8L127 123.4L126 124.6L124.5 124.8L123.2 124.8L121.6 124L122.5 125.5L123.3 126.4L122.3 128.2L120.5 128.7L118.5 129L117.7 128.8L117.6 130.5L115 131L115.5 132.3L116.5 132.6L115.4 133.3L114.7 135L112.7 135.6L112.5 136.4L114 137.1L114.2 138L112.3 139.5L111.3 140.3L110.8 141.8L111.6 142.3L109.5 142.8L108.8 143.8L107.5 143.5L106 142.5L104.8 141.5L104.5 139.5L104.5 137.5L105.5 136.5L105.7 134.5L106.7 134L107.2 132.5L106.5 131.8L106.3 129.5L106.5 127.2L107.3 125.5L108.3 123.5L108.5 120.5L108.7 118.5L109.1 117L109.6 115L109.5 113.2L109.8 111L109.7 108.3L108.5 107.3L107.5 106.5L104.8 105.3L103.7 103.5L102.8 102L101.5 99.5L100.5 97.5L98.8 96.1L99 94.3L99.7 93.4L100.1 92.5L99.1 92.2L99.4 90.9L99.9 89.4L100.5 89L101.1 88.2L102.2 87.3L102.7 86.3L102.5 83.3L101.8 82.5L101.6 81.7L100.4 81.1L99.6 81.7L99.6 82.7L98.7 82.4L97.7 81.7L96.4 81.5L94.8 80.1L94.2 79.2L94.3 78.5L93 77.4L92.3 76.7L91.2 76.7L89.9 76.2L88.3 75.8L87.5 75.2L86.1 74L85.3 73.8L84 74.3L82.2 73.9L80.5 73.3L78.5 72.5L76.5 71.7L75.1 70.7L74.4 69.6L74.7 68.5L74.3 67.5L73.6 66.8L72.5 65.5L71.4 64.5L70.6 64L69.5 62.5L68.7 62L67.8 61L66.9 59.3L65.2 58.2L65.5 60L66.8 61.2L67.5 62.3L68.3 63.5L69.2 65.1L69.7 65.9L70.6 66.8L70 67.1L69 65.8L67.8 65.2L67.6 63.9L66.5 63.2L65.6 62.2L65.8 61.4L64.6 60.6L63.3 58.8L62.9 57.5L62.1 56.4L61.5 56L59.4 55.4L59 54.4L58 53.1L57.5 52.2L57 51.8L56.2 50.3L55.6 49.6L55.8 48L55.5 47L56 45.4L56.1 44L55.9 43L55.3 41.8L56.9 42L57.5 41.3L57 41L56.5 40.5L55.1 40L54.4 39.5L52.6 39L52.1 37.7L51.5 36.5L49.7 35.7L49.5 34.8L48.1 34.4L47.7 33.1L46.5 32.7L45.9 31.9L44.5 31.2L43.5 31.6L42 31.1L40.2 30.5L38.5 30L36.2 30L34.1 29.5L32.9 29.1L31.8 29.4L31.4 30.1L30.3 30.4L28.3 30.8L28.6 29.3L29.7 28.7L27.2 29.7L26.1 30.8L26 31.3L24 32.5L22.4 33.6L20.5 34.2L18.8 34.6L17.1 35.1L15.2 35.6L17 34.8L18.2 34L19.7 33.4L21.2 32.2L22.5 31.4L21.8 31.2L20.1 31.5L18.7 31.3L17.7 30.5L15.7 29.8L14.7 28.9L14.8 27.7L15.5 26.9L17.7 26.4L19 25.7L18.7 25.3L17.1 25.5L15.6 25.4L13.6 25.3L13.2 24.9L12 24.4ZM147.5 6.4L153 6.5L159 7.4L155 8L160 8.5L164.2 8.2L167.5 8.4L163.5 9.6L162 11.5L160.3 12.5L161.5 13.8L159.5 15L158.5 15.9L158 17.5L157.6 19L155.5 19.5L157.5 19.9L154 21.4L150 21.9L147 22.6L145 23.8L142 24.4L139.5 25.2L138.8 26.5L137.5 28.2L137 29.7L135.1 30L133.5 29.1L131.7 29.1L130.8 28.1L129.4 26.7L128.4 25.9L127.5 24.7L126.3 23.9L126.5 22.8L127 21.6L129 21.2L128.5 20.2L126.5 20.6L125.3 19.8L127.5 19L125 18.6L124.4 17.5L123.4 15.7L121.4 14.5L118.7 13.9L116 13.9L113 13.9L108.6 13L113.2 12.6L107 11.8L110.6 11.1L114.3 10.6L116 10L113 9.5L117 8.8L122.8 7.8L128 7.6L133.4 8L135.5 7.6L139 7L144 6.5L147.5 6.4ZM115.1 28.1L113.5 27.4L111.2 26.3L112.5 25.7L114.5 26L116 25.2L115 24.5L116.8 24.6L118.1 23.4L116 23L114.8 22.4L113 21.8L111.4 21.3L112.2 19.9L110 19.6L108.4 19.1L107 18.5L104.7 17.7L102.5 17.4L99.7 16.3L96.5 16.2L93.5 16.7L91 16.7L91.6 17.7L93.3 19L95 19.1L97.7 20L99.4 19.9L101.8 20.6L103.1 21.4L105 21.7L106.5 22.3L107.5 23.2L106.1 24.6L104.4 24.8L102.7 24.6L101.5 25.5L102.2 25.8L104.2 25.7L106.3 25.5L108.4 26.4L109.2 27L111.2 27.7L113.7 28.1L115.1 28.1ZM94 26L96.8 26L98.4 25.6L98.8 24.9L96.5 24.2L94.9 23.6L93 24.8L94 26ZM76 21L78.5 20.7L77.8 20L79.2 19.4L77.6 18.6L75.5 17L72.5 16.7L70 17.1L67.7 17.2L65.5 16.9L62.3 17.4L61.4 18.7L63.8 19.2L62.5 19.7L65.5 19.9L67.2 19.7L68.4 20.2L66.2 20.7L63.5 20.7L66.5 21.4L70.5 21.3L73.7 20.9L76 21ZM58.5 18.3L56.5 18.6L54.7 17.6L55.6 16.6L55.1 15.7L58.6 15.5L62.5 15.8L64.5 16.5L61 17.3L58.5 18.3ZM63.5 15L68 15.4L71 15.1L74.2 14.5L73.8 13.8L70.5 13.3L66.5 13.5L62.5 13.6L63.5 15ZM58.5 14.1L62.3 13.2L60.8 12.5L57.3 13.3L58.5 14.1ZM82.7 18.5L80.7 18.6L77.5 17.5L78.5 17.1L79.7 16.2L83 16.5L83.5 17.4L82.7 18.5ZM85.8 18L86.8 17.2L88.1 16.3L85.6 15.9L84.4 16.5L84.4 17.8L85.8 18ZM84 21.2L82.5 21L80.7 21.3L81.6 20.5L83.5 20.4L84 21.2ZM99.7 15.5L94 15.4L87.6 15.2L88.5 14.2L86.5 13.2L91 13.5L95 12.6L99.4 13.8L101.5 14.6L99.7 15.5ZM83.5 14.5L80.5 14.2L81.5 13.6L83 13.9L83.5 14.5ZM86.5 15L83.2 15L85 14.4L86.5 15ZM100 13.7L95.8 13.4L91 13.5L90.2 12.8L92.8 12.1L93.9 11L92.9 10.3L94.2 9.8L90 9.4L88.6 9L91.1 8.5L95.2 8.1L101 7.1L107.5 6.9L115 7.1L118 7.5L115 8.3L111 9.5L109 10.2L105.5 10.8L104 11.5L104.7 12L102.2 12.8L101.5 13.4L100 13.7ZM93 11.5L90 11.7L86.2 11L85 10L86 9L88.5 8.8L90.5 9.5L92.5 10.2L93 11.5ZM79.5 12.1L77 11.8L78.5 11.1L80.5 11.5L79.5 12.1ZM76.5 10.8L74 11L75.5 10.2L76.5 10.8ZM174.4 54L173.7 53.2L172.6 52.8L171.1 53L171.2 51.7L170.5 51.2L171 50.1L171.2 48.8L171.1 47.5L170.7 47L172 46.3L174 46.4L176 46.6L178.1 46.6L178.7 45.5L178.8 44.2L177.8 42.9L175.5 42.1L175.4 41.4L177 41.2L178.4 41.3L178.1 40.3L179 40.6L180.3 40.5L181.5 39.7L182.5 38.9L183.6 38.6L184 38.1L184.7 37.1L185.5 36.7L187 36.5L188.1 36.5L188.8 36L188.6 35.1L188.1 34.5L188.1 33.4L188.6 32.9L190.6 32.3L190.5 32.8L190.3 33.5L190.9 33.7L190.2 34.4L189.6 34.5L189.9 35.2L190.9 35.6L191.6 35.9L192.5 35.6L193.6 35.9L194.1 36.2L195.5 35.9L196.5 35.5L198.4 35.2L198.6 35.6L199.8 35.6L201.2 34.8L201.1 34L201 33.2L201.6 32.6L202.5 32.3L203.3 33L204.1 33L204.4 31.6L203.4 31.4L203.4 30.8L204.6 30.5L206 30.4L208 30.5L209.1 30L208.1 29.5L206.3 29.6L204.5 30L202.9 30.2L202.3 29.6L201.4 29.3L201.5 28.3L201.1 27.4L201.5 26.8L202.4 26.2L204.7 25.1L205.4 24.9L205.3 24.5L204.6 24.2L202.2 24.3L201.2 25L201.5 25.6L200 26.4L198.8 27L197.8 27.3L197.1 28.7L197.8 29.4L198.8 29.9L198.5 30.6L197.6 31.1L196.8 31.3L196.4 33L195.9 33.9L194.7 33.8L194.1 34.6L192.9 34.6L192.6 33.7L191.8 32.6L191 31.1L190.4 30.5L189.6 31L188.4 31.7L187 31.9L185.7 31.4L185.3 30.3L185 29L185.9 27.4L188.6 26.5L190.5 25.5L192.4 24.1L194.8 22.2L196.4 21.4L199.2 20.2L201.4 19.7L203 19.8L204.5 19L206.4 19.1L208.2 18.8L211.3 19.5L210 20L213.8 20.7L216.5 20.9L220.3 22.1L221.1 23.2L220 23.7L218.4 24L213.9 23.2L212.6 23L214.8 24.1L214.9 25.6L217 26.2L217.1 24.9L219.6 25.5L220.4 25.2L219.8 24.5L222.1 23.5L223.9 23.9L224.5 23.2L223.7 22.6L224.2 22L223.5 21.4L226.3 21.7L226.8 22.3L225.6 23L226.4 23.3L227.9 22.4L229 22.3L230.2 22L233.7 21.1L234.5 21.2L233.5 21.8L234.7 21.9L235.4 21.6L237.3 21.5L238.8 21.1L239.9 21.7L241.1 21.1L240 20.5L240.6 20.1L243.5 20.5L244.9 20.8L248.5 21.9L249.2 21.4L248.1 20.9L248.1 20.6L246.9 20.5L246.7 19.3L246.7 19L248.5 18.1L249.2 17.2L249.9 17L252.6 17.2L252.8 17.8L251.8 18.6L252.5 18.9L252.8 19.6L252.6 21L253.7 21.6L253.2 22.3L251.3 23.7L252.4 23.8L252.8 23.5L253.9 23.2L254.2 22.7L255.1 22.2L254.5 21.7L254.9 21L253.8 20.9L253.6 20.4L254.4 19.4L253.1 18.6L254.9 17.9L254.7 17.2L255.2 17.1L255.7 17.7L255.3 18.7L256.4 18.8L256.1 18.1L257.6 17.7L259.7 17.7L261.5 18.2L260.6 17.4L260.5 16.4L262.3 16.1L264.7 16.2L266.8 16.1L266 15.5L267.2 14.9L268.3 14.9L270.3 14.4L272.9 14.2L273.2 14L275.9 13.9L276.7 14.1L278.9 13.6L280.8 13.6L281 13.1L282 12.7L284.4 12.3L286.1 12.6L284.7 12.9L286.9 13L287.2 13.5L288.2 13.3L291.1 13.3L293.3 13.8L294.1 14.2L293.9 14.7L292.8 15L290.2 15.5L289.4 15.8L290.6 16L292.1 16.2L293 16L293.5 16.7L294 16.4L295.6 16.2L298.8 16.4L299 16.9L303.2 17L303.3 16.3L305.4 16.4L306.98 16.4L308.6 17L309.1 17.6L308.5 18L309.7 18.8L311.3 19.2L312.3 18.2L313.9 18.6L315.6 18.3L317.5 18.7L318.2 18.4L319.9 18.5L319.1 17.6L320.5 17.2L329.5 17.8L330.4 18.4L332.97 19.2L337 19L339 19.1L339.8 19.5L339.7 20.3L340.9 20.6L342.3 20.4L344.1 20.3L345.9 20.5L347.8 20.4L349.6 21.3L350.8 21L350 20.3L350.5 19.9L353.6 20.2L355.7 20.1L358.6 20.6L360 21L360 25L358.7 25.5L357.4 25.4L358.3 25.9L358.9 26.7L359.4 27.1L359.2 27.7L357.4 27.5L354.6 28.2L353.7 28.3L352.2 29L350.7 29.7L350.3 30.1L348.9 29.4L346.3 30.2L345.8 29.8L344.9 30.3L343.5 30.1L343.2 30.8L342 31.8L342.1 32.2L343.2 32.4L343.1 33.8L342.1 33.9L341.7 34.7L342.1 35.1L340.4 35.7L340 36.8L338.5 37.04L338.2 38.1L336.8 39L336.4 38.3L335.99 36.8L335.4 34.6L335.9 33.2L336.8 32.6L336.8 32.2L338.4 31.9L340.2 30.7L341.9 29.7L343.7 28.9L344.5 27.4L343.3 27.5L342.7 28.4L340.1 29.5L339.3 28.2L336.7 28.6L334.2 30.2L335 30.9L332.8 31.1L331.3 31.2L331.3 30.5L329.8 30.3L328.5 30.8L325.5 30.7L322.2 31L318.96 32.9L315.1 35.3L316.7 35.4L317.2 36.02L318.2 36.2L318.8 35.7L319.9 35.8L321.3 36.9L321.4 37.8L320.6 38.8L320.5 40L320.1 41.6L318.6 43L318.2 43.7L316.9 44.9L315.5 46.01L314.9 46.6L313.5 47.2L312.9 47.2L312.3 46.7L310.9 47.4L310.8 47.8L310.4 47.7L309.7 48.4L309.7 49.1L309.2 49.3L308.6 49.8L307.97 50L307.5 50.2L307.5 50.7L307.4 50.8L308.3 51.4L309.2 52.6L309.5 53.2L309.5 54.4L309.1 54.9L308.2 55.1L307.4 55.5L306.5 55.6L306.4 55.1L306.6 54.3L306.1 53.3L306.9 53.1L306.2 52.3L305.7 52.1L305.6 51.8L304.99 51.5L305.2 51.3L305.1 50.4L304.3 50.1L302.9 50.4L302.1 50.8L301.1 51.1L301.6 50.6L301.4 50.2L302.2 49.6L301.6 49.1L300.8 49.4L299.6 50.1L299 50.7L298 50.8L297.5 51.3L298.1 51.9L298.9 52.1L298.9 52.6L299.7 52.8L300.8 52.1L301.7 52.5L302.4 52.5L302.5 53.1L301.1 53.3L300.6 53.9L299.7 54.4L299.2 55.1L300.2 55.6L300.6 56.6L301.2 57.5L301.9 58.3L301.9 59.1L301.3 59.3L301.5 59.9L302.1 60.2L301.7 61.8L301.1 61.9L299.6 64.3L298.7 65.5L297.3 66.4L295.9 67.2L294.8 67.3L294.2 67.8L293.8 67.5L293.2 67.9L291.8 68.4L290.8 68.6L290.4 69.7L289.9 69.7L289.6 69L289.9 68.6L288.5 68.3L288.1 68.4L286.7 69.3L285.9 70.2L285.7 70.9L286.4 72L287.4 73.3L288.3 73.9L288.9 74.7L289.3 76.6L289.2 78.3L288.4 79L287.2 79.6L286.4 80.5L285.2 81.4L284.8 80.8L285.1 80.1L284.3 79.5L283.5 79.4L283.1 78.8L282.6 77.8L281.7 77.4L280.8 77.4L280.98 76.6L280.1 76.6L280 77.7L279.2 79.04L279.2 80.8L279.9 80.8L280.5 82.6L281 83.1L281.6 83.3L282.1 83.8L282.96 84.5L283.4 85.1L283.4 86.3L283.5 87.2L283.9 87.5L284.2 88.4L283.5 88.8L282.6 88.03L281.4 87.2L281.3 86.7L280.7 86.1L280.6 85.2L280.2 84.7L280.3 84L280.1 83.5L279.7 83.2L279.5 82.7L278.99 82.1L278.5 81.6L278.3 82.2L278.2 81.6L278.3 81L278.6 80.1L278.5 79.3L278.8 78.6L278.4 78L278.5 76.9L278.1 76.4L277.8 75.2L277.6 73.9L277.2 73.1L276.5 73.6L275.4 74.3L274.8 74.2L274.2 74L274.5 72.7L274.3 71.8L273.5 70.6L273.7 70.3L273.1 70.1L272.4 69.3L272.1 68.8L272 68.3L271.8 67.8L271.4 67.2L270.5 67.2L270.6 67.6L270.3 68.2L269.8 68L269.7 68.1L269.4 68.03L269 67.9L268.9 68.3L268.2 68.3L266.98 68.5L267 69.3L266.5 69.8L265.1 70.5L263.9 71.7L263.2 72.3L262.2 73L262.2 73.4L261.7 73.7L260.8 74.05L260.3 74.1L260 74.9L260.2 76.2L260.3 77L259.9 77.9L259.9 79.6L259.3 79.7L258.9 80.5L259.2 80.8L258.3 81.1L257.9 81.7L257.5 82L256.6 81.1L256.1 79.7L255.7 78.7L255.4 78.2L254.9 77.3L254.6 76L254.4 75.4L253.5 74L253.1 72.1L252.8 70.8L252.8 69.6L252.6 68.6L251.2 69.2L250.5 69.1L249.2 67.9L249.6 67.5L249.3 67.2L248.2 66.3L247.4 66.1L247.1 65.3L246.4 64.6L244.5 64.8L242.9 64.8L241.5 64.9L239.6 64.6L238.5 64.4L237.4 64.3L236.97 63.03L236.5 62.9L235.7 63.04L234.7 63.5L233.5 63.2L232.5 62.4L231.5 62.1L230.9 61.2L230.1 59.9L229.6 60L228.9 59.7L228.6 60.1L227.97 60.02L228.2 60.5L228.1 60.7L228.4 61.4L228.8 62.3L229.3 62.5L229.5 62.9L230.2 63.3L230.1 64.1L230.2 64.4L230.5 64.7L230.7 65.1L230.8 65.2L231.1 63.9L231.6 64.2L231.6 64.8L231.4 65.4L231.8 66L232.6 65.8L234 65.9L234.7 65.2L235.4 64.6L236.1 63.9L236.4 63.6L236.5 63.7L236.4 64.1L236.3 64.3L236.4 65.1L237.4 66.1L238.7 66.4L239.5 67.3L239.8 67.5L239.3 68.6L238.9 68.9L238.5 69.6L238 69.5L237.7 70.3L237.8 70.9L237.7 71.1L237.2 71.1L236.6 71.4L236.5 71.9L236.3 72.1L235.7 72.1L235.3 72.4L235.3 72.8L234.8 73.05L234.2 73L233.6 73.3L233.1 73.3L232.4 73.6L232.2 74.1L232.2 74.4L231.2 74.8L229.6 75.3L228.7 76L228.2 76.05L227.9 76L227.4 76.4L226.7 76.6L225.9 76.7L225.6 76.7L225.4 77L225.1 77.05L224.99 77.3L224.5 77.3L224.2 77.4L223.5 77.4L223.2 76.8L223.3 76.2L223.1 75.9L222.9 75.2L222.6 74.8L222.8 74.7L222.7 74.3L222.8 74.1L222.8 73.7L222.6 73.2L222.3 72.9L222.3 72.5L221.8 72.2L221.2 71.3L220.9 70.5L220.2 69.8L219.8 69.7L219.1 68.7L219 68.01L219.1 67.4L218.5 66.3L218 65.9L217.5 65.7L217.2 65.1L217.2 64.9L216.9 64.4L216.6 64.2L216.2 63.4L215.6 62.6L215.1 61.9L214.6 61.9L214.8 61.4L214.8 61L214.96 60.6L214.6 61.4L214.4 61.7L214.2 62.2L213.9 62.4L213.1 61.6L212.4 60.1L212.3 60.2L212.7 61.3L213.3 62.3L214.1 63.9L214.5 64.4L215.7 66.1L215.5 66.2L215.5 66.9L216.7 67.8L216.9 68L217.2 69L217.1 70.2L217.5 71.4L217.9 71.6L218.4 72L218.99 73.2L219.3 74.1L219.8 74.6L221.2 75.5L221.7 76.1L222.3 76.7L222.6 77.1L223.1 77.3L223.3 77.6L223.3 78.03L222.7 78.3L223.1 78.5L223.5 78.7L223.7 79.1L224.1 79.6L224.6 79.6L225.6 79.3L226.6 79.2L227.5 78.9L228 78.8L228.4 78.6L228.9 78.6L229.3 78.6L229.7 78.4L230.3 78.3L230.7 78L231.1 78L231.1 78.3L231 79L231 79.4L230.8 79.7L230.6 80.8L230.1 81.9L229.5 83.2L228.6 84.7L227.7 85.8L226.6 87.1L225.6 88L224.1 88.9L223.1 89.7L222 90.9L221.8 91.4L221.6 91.7L220.9 92.1L220.6 92.5L220.3 92.6L220.1 93.3L219.8 93.7L219.6 94.3L219.2 94.7L218.7 95.9L218.8 96.5L219.4 96.8L219.5 97.1L219.2 97.7L219.3 98L219.2 98.5L219.5 99.1L219.9 100.1L220.3 100.3L220.5 100.8L220.4 101.8L220.6 102.6L220.6 104.2L220.8 104.7L220.5 105.4L220.1 106.1L219.5 106.7L218.5 107.1L217.4 107.6L216.3 108.7L215.9 108.8L215.2 109.6L214.8 109.8L214.7 110.5L215.2 111.3L215.4 111.8L215.4 112.1L215.6 112.1L215.5 113.1L215.4 113.5L215.6 113.7L215.5 114.1L215 114.5L214.2 114.8L213 115.4L212.6 115.7L212.7 116.1L212.9 116.2L212.6 117.5L212.5 118.3L212.2 118.8L211.5 119.3L211.3 119.4L210.9 119.9L210.6 120.4L210.1 121.1L208.9 122.2L208.2 122.8L207.5 123.2L206.4 123.6L205.9 123.7L205.8 123.9L205.2 123.8L204.7 124L203.6 123.8L202.99 123.9L202.6 123.9L201.5 124.3L200.7 124.4L200.1 124.8L199.6 124.8L199.2 124.5L198.9 124.4L198.4 124L198.4 124.1L198.2 123.9L198.3 123.3L197.9 122.6L198.2 122.4L198.2 121.7L197.6 120.7L197.1 119.9L197.1 119.9L196.3 118.6L195.6 117.8L195.2 117.1L194.99 116.1L194.7 115.4L194.4 113.9L194.4 112.7L194.3 112.1L193.9 111.7L193.4 110.9L192.8 109.7L192.6 109L191.8 108.1L191.7 107.3L191.6 106.7L192.2 104.4L192.5 103.5L192.7 103.1L193.3 102.5L193.6 102L193.7 101.3L193.7 100.7L193.4 100.4L193.1 99.8L192.9 99.2L192.9 98.96L193.2 98.6L192.9 97.6L192.7 96.9L192.2 96.3L192.3 96.1L192.2 95.8L191.9 95L191.1 93.98L190.1 92.97L189.4 92.1L188.8 91.1L188.8 90.8L189 90.5L189.3 89.7L189.5 89L189.3 88.8L189.6 87.7L189.8 86.9L189.4 86.3L188.9 86.1L188.7 85.6L188.5 85.5L188.5 85.2L187.5 85.6L187.1 85.5L186.7 85.8L185.9 85.7L185.4 85.1L185 84.4L184.3 83.7L183.6 83.7L182.7 83.7L181.9 83.9L181.1 84.1L179.5 84.7L178.9 85L178 85.3L177.1 85L176.7 85.02L176 84.8L175.4 84.8L174.2 85L173.5 85.3L172.5 85.7L172.3 85.6L172.03 85.6L171 85.2L170.1 84.4L169.2 83.9L168.6 83.2L168.3 83.1L167.6 82.7L167.1 82.2L166.9 81.8L166.8 81.1L166.3 80.5L165.9 80.1L165.4 79.8L165.3 79.3L165.2 79.1L164.9 79L164.3 78.5L163.9 78.5L163.7 78.2L163.7 78.04L163.4 77.8L163.3 77.6L163.2 76.8L163.3 76.4L162.9 75.6L162.4 75.3L162.8 75.1L163.3 74.4L163.5 73.9L163.9 73.5L163.9 72.8L163.7 72.04L163.9 71.9L163.7 70.9L163.6 70.4L163.7 69.9L163.5 69.4L162.9 69.01L163 68.6L163.03 68.1L163.4 67.8L163.7 67.3L163.7 67L164.02 66.3L164.6 65.6L164.9 65.5L165.2 64.9L165.2 64.4L165.6 63.7L166.2 63.4L166.9 62.3L167.4 62L168.3 61.9L169.1 61.2L169.6 60.9L170.4 60.1L170.2 58.8L170.6 58L170.7 57.4L171.3 56.8L172.3 56.3L173.1 55.9L173.8 54.9L174.1 54.2L174.8 54.2L175.4 54.7L176.4 54.6L177.4 54.8L177.8 54.8L178.8 54.3L179.9 54.1L180.5 53.7L181.5 53.4L183.2 53.2L184.8 53.1L185.3 53.3L186.3 52.9L187.3 52.9L187.7 53.1L188.4 53.1L189.5 52.7L190.2 52.8L190.2 53.3L191 52.9L191.1 53.1L190.6 53.6L190.6 54.1L190.9 54.3L190.8 55.2L190.1 55.7L190.3 56.2L190.9 56.2L191.1 56.7L191.5 56.9L192.7 57.2L193.1 57.1L193.9 57.3L195.2 57.7L195.7 58.6L196.6 58.8L198 59.2L199.1 59.7L199.6 59.5L200.1 59L199.8 58.2L200.1 57.8L200.9 57.3L201.5 57.2L202.9 57.4L203.2 57.8L203.6 57.8L203.9 58L204.9 58.1L205.2 58.4L206.5 58.4L207.5 58.7L208.5 59L208.9 59.1L209.7 58.8L210.1 58.5L211 58.4L211.7 58.6L211.96 59.1L212.2 58.7L213 59L213.8 59L214.3 58.8L214.6 58.5L214.8 57.9L214.96 57.2L215.1 56.9L215.5 56.1L215.99 55.4L216 55.01L215.9 54.6L216.1 54.2L215.8 53.7L216.2 53.3L215.6 53.4L214.7 53.2L214 53.8L212.5 53.9L211.7 53.4L210.6 53.3L210.4 53.7L209.7 53.9L208.7 53.3L207.6 53.3L207 52.3L206.3 51.8L206.8 51.01L206.2 50.5L207.3 49.6L208.8 49.5L209.2 48.8L211.1 48.9L212.3 48.3L213.5 48L215.2 48L216.9 48.7L218.3 49.1L219.5 48.9L220.4 49L221.6 48.5L221.7 48.04L221.5 47.4L220.9 47L220.3 46.9L219.96 46.6L218.7 45.7L217.5 45.3L216.7 44.8L217.4 44.6L218.2 43.8L217.7 43.4L219.1 43L219.1 42.7L218.2 42.9L217.4 43L216.8 43.3L215.8 43.4L214.96 43.7L215 44.3L215.5 44.5L216.5 44.5L216.3 44.9L215.2 45.1L213.9 45.6L213.3 45.4L213.5 45L212.5 44.7L212.6 44.5L213.6 44.1L213.3 43.9L211.7 43.7L211.7 43.3L210.7 43.4L210.4 44L209.6 44.7L209.6 45L209.1 45.2L208.8 45.1L208.6 46.3L208 46.7L207.7 47.4L208 48L208.1 48.4L208.99 48.7L208.8 49.04L207.6 49L207.2 49.3L206.4 49.8L206 49.2L205.4 49.1L204.9 49.1L203.7 49.3L204.4 49.9L203.9 50.04L203.3 50.04L202.8 49.5L202.6 49.7L202.8 50.3L203.4 50.8L202.97 51.03L203.5 51.5L204 51.8L204 52.3L203.1 52.1L203.4 52.6L202.8 52.7L203.2 53.6L202.5 53.6L201.7 53.2L201.3 52.4L201.1 51.7L200.7 51.2L200.2 50.7L200.2 50.4L199.98 50.3L199.96 50L199.4 49.7L199.3 49.3L199.4 48.6L199.5 48.3L199.4 48.1L199 47.9L198.5 47.5L197.5 47.2L196.9 46.8L196 46.5L195.2 45.8L195.4 45.7L194.9 45.3L194.9 44.9L194.3 44.8L193.95 45.2L193.7 44.9L193.7 44.5L193.9 44.4L193.1 44.3L192.3 44.6L192.4 45.1L192.3 45.4L192.6 45.9L193.5 46.4L194 47.2L195.1 48L195.9 48.04L196.2 48.3L195.9 48.5L196.8 48.8L197.5 49.1L198.4 49.6L198.5 49.8L198.3 50.2L197.7 49.7L196.9 49.6L196.4 50.2L197.2 50.6L197.1 51.1L196.6 51.2L196.1 52L195.7 52.1L195.7 51.8L195.9 51.2L196.1 51L195.7 50.5L195.4 50L195 49.8L194.7 49.4L194.1 49.2L193.6 48.8L192.9 48.7L192.1 48.3L191.2 47.6L190.5 47.1L190.2 46.1L189.7 46L188.9 45.6L188.4 45.8L187.9 46.2L187.4 46.3L186.5 46.9L184.6 46.6L183.1 46.9L182.99 47.5L183 48.1L182.1 48.8L180.8 49L180.7 49.3L180.1 49.9L179.7 50.7L180.1 51.3L179.5 51.7L179.3 52.4L178.6 52.6L177.9 53.3L175.6 53.3L175 53.7L174.6 54.1L174.4 54ZM0 21L2.4 21.8L5.1 22.8L8.1 23.1L10.1 24L9.1 24.5L7.5 24.6L7.4 25.5L6.1 25.7L5 25.2L3.8 24.6L2.8 24.5L1.6 24.6L1.1 24.3L1.3 23.9L0.1 24.1L0 25ZM226.5 45.3L227.7 44.4L228.6 44.2L229.1 43.6L230 43.4L231.2 43L232 43.2L233 43.1L233 44L233.2 44.7L231.3 44.8L231 45.5L230.3 45.7L230.3 45.4L231.3 46.9L232.5 47.2L232.7 47.6L232.5 48.2L232.8 48.9L233.1 49.4L233.5 49.2L234.7 49.05L234 50L233.4 50.04L233.1 50.7L233.9 51.05L233.7 52.1L233.9 52.8L233 53.1L231.9 53.4L231.1 53.3L230.2 52.6L229.2 52.4L228.9 51.7L228.9 51.2L229.2 50.95L229.4 50.6L229.5 49.8L230.1 49.5L230.4 49.7L229.6 49.4L229.1 48.7L228.6 48.2L227.5 47L227.5 46.3L227.5 45.8L226.5 45.3ZM174.3 39.9L175.7 39.7L176.6 39.4L178.1 39.4L180 39.2L181.4 38.8L180.7 38.5L181.7 37.3L180.3 37L179.6 36L178.8 35.4L178.4 34.4L177.3 33.9L178 33L178.2 32.4L176.9 32.3L177 31.4L175 31.4L174.7 32.2L174.2 33.1L174.4 33.8L173.8 34L175 34.4L174.9 35.2L176.4 35.4L177 36.1L176.9 36.6L175.4 36.7L175.8 37.7L174.7 38.2L176.6 38.6L175.2 39L174.3 39.9ZM173.8 36.1L174 36.8L173.6 37.8L172.4 38L170.6 38.5L170 38.2L170.8 37.1L170.1 36.6L170.4 36L171.7 35.3L172.4 34.8L173.3 34.8L174.4 35.4L173.8 36.1ZM165.5 23.5L165.3 24.2L166.4 24.9L165.1 25.6L161.3 26.5L157.2 26.04L158.2 25.6L156 25.1L157.8 24.9L155.7 24.4L156.3 23.7L157.9 23.6L159.4 24.3L160.9 23.7L162.2 24.01L163.8 23.5L165.5 23.5ZM195.1 10.3L195.5 10L197 9.9L198.3 10.3L201.5 11.04L199 11.4L198.5 12.2L197.6 12.4L197.1 13.2L195.9 13.2L193.8 12.6L194.7 12.3L193.2 12L191.2 11.1L190.4 10.3L193.2 10L193.7 10.3L195.1 10.3ZM199.9 10.7L198 10.2L198.6 9.7L201 9.7L203 9.5L207.4 9.9L205.4 10.7L203 10.6L199.9 10.7ZM231.5 18.5L233.5 19.2L235.6 19.2L237.5 19.3L236.9 19.4L233.7 18.9L234.3 16.4L233.5 16.3L235.9 15.4L235.6 14.9L238.5 14.7L241.2 13.7L244.5 13.6L246.2 13.2L248.2 13.1L248.9 13.5L248 14L241.2 15L238.6 15.4L237 17L235.4 17.6L235.6 18.5L236.9 19.4L233.7 19.2L231.5 18.5ZM230 9.1L231.5 9.3L232 9.9L227.6 10L226.5 9.8L230 9.1ZM237 9.5L240 9L243 9.2L239 9.7L237 9.5ZM279.9 11.1L277.8 11.2L274.97 10.9L273.3 10.6L272.5 9.9L271.2 9.7L273.8 9L275.9 8.7L277.9 9.3L280.2 10.2L279.9 11.1ZM282.1 10.7L282.8 10.7L285.4 11.3L285.1 11.7L279.4 12.1L281.3 10.8L282.1 10.7ZM318.8 13.9L321.5 13.9L325.1 14.4L324.3 15.2L320.6 15.2L318.96 15.4L316.97 14.7L317.5 14.1L318.8 13.9ZM328.2 14.7L330.7 14.9L329.6 15.3L327.98 15.2L326.1 14.8L328.2 14.7ZM358.7 18.9L360 18.5L360 19.2L358.9 19.2L358.7 18.9ZM0 18.5L2.4 18.7L2.3 18.9L0.1 19.2L0 19.2ZM323.6 39.3L324.7 41.02L323.2 40.7L322.6 42.1L323.5 43.2L323.5 43.9L322.7 43.3L322.1 44.03L321.9 43.2L322 42.2L321.9 41.1L322.1 40.4L322.2 39L321.6 38.1L321.7 36.7L322.6 36.2L322.2 35.8L322.7 35.6L323.3 37.3L323.2 38.2L323.6 39.3ZM321.4 48.6L319.96 48.4L320.3 46.7L321.4 46.6L321.7 45.2L321.97 44.45L323.1 45.5L324.6 46.04L325.5 46.7L324.1 47.01L323.2 48.01L321.6 47.3L321.1 48.2L321.4 48.6ZM321.9 50.8L320.96 52.9L320.6 53.7L320.8 54.2L320.3 54.9L318.98 55.3L317.2 55.4L315.8 56.5L315.1 55.4L310.99 56L312 56.9L310.4 58.9L309.8 57.4L309.4 56.7L310.4 56.4L310.9 56.1L312.6 54.6L314.6 54.3L315.7 54.5L316.7 52.7L317.4 53.2L318.9 52.2L319.4 51.8L319.9 49.4L320.3 48.8L321.4 48.6L321.4 50L321.9 50.8ZM314.6 55.9L314.8 56.2L314.2 56.8L313.1 57.3L312.6 57L312.4 56.5L313.5 56L314.6 55.9ZM301.8 65.6L301.2 67.2L300.7 68.03L300.2 67L300.1 66.4L300.7 65.5L301.5 64.7L301.95 65L301.8 65.6ZM290.3 71.3L289.5 71.8L288.7 71.5L288.6 70.6L289.1 70.2L290.2 69.9L290.8 69.9L291 70.3L290.6 70.7L290.3 71.3ZM261.8 82.5L261.6 83.5L260.3 84.03L259.9 83.2L259.7 81.8L260.1 80.2L260.8 80.7L261.3 81.4L261.8 82.5ZM300.8 71.5L301.9 71.8L302.3 71.8L302.2 73.7L301.7 74.1L301.5 74.9L301.7 75.7L302.2 75.8L302.7 75.7L303.95 76.2L303.9 76.8L304.2 77.4L303.3 77L302.9 76.4L301.1 76.4L300.6 75.6L300.1 75.03L299.9 74.6L299.9 73.6L300.3 74L300.4 72.4L300.8 71.5ZM306.4 81.6L306.5 82.2L306.2 83.7L305.8 82.7L305.4 83.2L305.7 84L305.4 84.4L304.2 83.8L303.9 83.1L304.2 82.6L303.6 82.2L303.3 82.6L302.8 82.5L302.1 83.1L301.9 82.8L302.3 82L302.9 81.8L303.5 81.3L304.6 81.5L305 81L305.4 80.2L306.2 80.7L306.4 81.6ZM305.4 77.9L305.5 78.8L305 80L304.3 79.1L304.3 78.5L304.9 78.2L305.4 77.9ZM303.9 79.7L303 81L302.4 80.3L302.9 79.1L303.5 79.1L303.9 79.7ZM301.9 78.1L303.1 78.8L302.8 79.3L301.9 79.6L301.9 78.1ZM297.2 81.6L297.7 80.9L299.5 78.6L299.7 79.4L299 80L298.5 80.7L297.2 81.6ZM297.9 85.9L297.3 86.8L298 87.7L297.9 88.2L298.99 89.1L297.8 89.2L297.5 90.8L296.6 91.5L296.5 92.5L296.1 94L295 93.7L294.9 94.1L294.5 93.5L293.3 93.1L292.1 93.5L291.7 92.99L291 93L290.2 92.9L290.1 91.6L289.6 90.99L289.1 90.5L289 89.6L288.95 88.7L289.7 88L289.8 88.7L290.5 88.3L291.2 88.2L291.4 87.3L292.99 86.9L294.2 85.5L294.7 86L295.5 84.6L296.2 83.9L296.7 83.1L297.1 83.1L297.6 83.6L297.7 84.01L299.2 84.6L298.4 85.03L298.6 85.5L297.9 85.9ZM275.3 84.5L277.5 84.8L278.4 85.7L279.1 86.4L280.6 87.9L281.7 87.9L282.5 88.6L283.1 89.4L283.8 89.9L283.4 90.7L284 91.1L284.4 91.1L284.5 91.8L284.9 92.3L285.6 92.4L286.1 93.1L285.9 94.3L285.8 95.9L284.7 95.9L283.9 95L282.6 94.2L282.2 93.6L281.4 92.8L280.9 92.05L280.1 90.65L279.3 89.8L279 89L278.6 88.2L277.7 87.5L277.2 86.7L276.4 86.1L275.4 85.03L275.3 84.5ZM286.1 95.9L287.3 95.96L288.5 96.4L288.6 96.8L290.5 96.9L290.8 96.5L292.6 96.9L292.98 97.6L294.5 97.8L295.7 98.4L294.6 98.75L293.5 98.3L292.6 98.4L291.5 98.3L290.6 98.1L289.4 97.7L288.7 97.6L288.3 97.8L286.5 97.4L286.3 96.9L285.4 96.9L286.1 95.9ZM296 98.4L296.7 98.9L298.3 98.4L299.1 98.7L300.7 98.2L302.9 98.1L302.8 98.6L300.6 98.8L298.3 98.9L296 98.4ZM304.4 100.1L303.5 100.2L303.6 100.4L304 100.4L305.1 99.4L306.9 98.3L305.1 98.6L304.4 100.1ZM300.9 88.7L301.5 89L303.2 89.1L304.1 89.1L305.1 88.4L305.2 88.6L304.4 89.6L302.7 89.6L301.1 89.6L300.2 89.8L300.1 90.5L300.9 91.4L301.5 90.96L303.3 90.6L303.3 91.1L302.5 91.4L301.5 91.9L302.5 93.2L302.3 93.5L303.2 94.7L303.2 95.3L302.6 95.6L302.2 95.3L302.7 94.5L301.7 94.9L301.5 94.6L301.6 94.2L300.9 93.6L301 92.6L300.3 92.9L300.4 95.5L299.8 95.7L299.4 95.4L299.7 94.5L299.5 93.5L299.1 93.5L298.8 92.8L299.2 92.1L299.3 91.4L299.8 89.8L300 89.4L300.9 88.7ZM308.7 88.9L308 88.7L307.9 89.6L308.4 90.3L308 90.9L307.7 90.3L307.4 89L307.6 88.2L308.7 88.9ZM309.4 92.8L310.5 93.1L310.8 93.9L308.7 93.4L308.2 93.4L309.4 92.8ZM314.1 91.2L314.4 92.8L315.5 93.4L316.3 92.3L317.4 91.7L318.3 91.7L319.2 92.1L319.9 92.4L321 92.6L322.7 93.3L324.6 93.9L325.3 94.4L325.8 95L325.98 95.5L327.6 96.1L327.9 96.6L326.97 96.7L327.2 97.4L328.1 98L328.7 99.1L329.3 99.1L329.3 99.5L330.04 100.7L329.8 100.4L328.9 100.3L327.9 100.1L327.1 99.5L326.6 98.9L326 98.1L324.7 97.6L323.9 97.9L323.3 98.2L323.4 99L322.6 99.3L322.1 99.2L321 99.1L320.1 98.3L319.1 98.1L318.9 98.4L317.6 98.4L318 97.6L318.7 97.3L318.4 96.2L317.9 95.4L315.99 94.5L315.2 94.5L313.7 93.5L313.4 94L312.98 94.1L312.8 93.7L312 92.8L313.1 92.5L311.8 91.6L310.9 91.4L310.5 90.9L311.9 90.7L312.4 90.4L313.99 90.8L314.1 91.2ZM330 95L331.6 94.2L332.3 94.3L331 95.8L330 96.3L328.3 95.6L330 95ZM323.6 103.8L323.9 104.5L324.6 104.2L325.4 105L325.3 105.4L325.6 106.8L325.9 106.9L326.2 107.8L326.1 108.9L327.5 109.5L328.8 110.4L329.3 111.3L330.1 112.1L330.9 112.8L331.6 114.1L332.9 115.3L333.1 116.1L333.6 118.1L333.5 119L333.1 120.4L332.9 121.6L332.5 122.6L331.7 123L331.3 123.8L331 124.3L330.7 125.2L330.3 125.7L330.1 126.4L329.9 127.1L329.4 127.8L328.3 127.8L327.4 128.2L326.9 128.6L326.3 129L325.5 128.6L324.9 128.4L325 127.9L324.5 128.1L323.6 128.8L322.7 128.5L322.2 128.4L321.6 128.3L320.6 128L319.99 127.4L319.8 126.6L319.6 126.1L318.1 125.6L318.4 125.1L318.2 124.4L317.7 125.1L316.8 125.3L317.4 124.7L317.5 124.1L317.9 123.6L317.8 122.9L316.99 123.8L316.4 124.1L315.99 124.9L315.2 124.5L315.2 123.9L314.6 123.2L314.1 122.8L314.3 122.6L312.99 122L312.3 121.98L311.3 121.5L309.5 121.6L308.2 121.9L307.1 122.3L306.1 122.2L305.1 122.7L304.2 123L304 123.5L303.7 123.9L302.8 123.9L302.2 124L301.3 123.8L300.6 123.9L299.9 123.98L299.3 124.5L299 124.5L298.5 124.7L298 125.1L297.3 125L296.6 125L295.6 124.4L295 124.2L295 123.6L295.5 123.5L295.7 123.3L295.8 122.2L295.7 121.6L295.2 120.6L295 120L295 119.5L294.6 118.8L294.6 118.5L294.2 118.1L294 117.3L293.5 116.5L293.3 116.1L293.8 116.5L293.4 115.6L293.9 115.9L294.2 116.3L294.2 115.8L293.7 115L293.6 114.7L293.4 114.4L293.5 113.8L293.7 113.6L293.8 113.1L293.7 112.5L294.1 111.8L294.2 112.5L294.6 111.8L295.5 111.5L295.9 111.1L296.7 110.7L297.2 110.6L297.4 110.7L298.2 110.4L298.8 110.3L299.3 109.98L299.8 109.98L300.9 109.7L301.4 109.2L301.7 108.7L302.2 108.2L302.3 107.3L303 106.4L303.4 107.3L303.9 107.1L303.5 106.6L303.8 106.1L304.3 106.3L304.4 105.6L305.2 105L305.1 104.7L305.9 104.4L306.1 104.1L306.1 104.3L307.1 103.8L307.8 104.3L308.4 104.9L309 104.9L309.6 105L309.4 104.4L310 103.7L310.3 103.4L310.2 103.1L310.6 102.5L311.2 102.2L311.7 102.3L312.6 102.1L312.6 101.6L311.8 101.3L312.4 101.1L313 101.4L313.6 101.8L314.4 102L314.7 101.9L315.3 102.2L315.9 101.96L316.3 102L316.5 101.9L316.95 102.4L316.7 102.9L316.3 103.3L315.96 103.3L316.1 103.7L315.8 104.2L315.4 104.7L315.5 105L316.3 105.6L317.1 105.9L317.6 106.2L318.3 106.8L318.6 106.8L319.1 107.1L319.3 107.4L320.2 107.7L320.9 107.4L321.1 106.8L321.3 106.4L321.4 105.8L321.7 105L321.6 104.6L321.5 103.7L321.7 102.9L321.8 102.7L321.7 102.4L321.9 101.9L322.1 101.3L322.1 101L322.5 100.7L322.8 101.2L322.9 101.8L323.1 101.9L323.2 102.3L323.5 102.8L323.6 103.4L323.6 103.8ZM327.7 130.8L328.3 130.9L328.4 132.1L328 132.4L327.9 133.2L327.6 132.9L326.9 133.6L326.7 133.6L326 133.5L325.4 132.7L325.3 132L324.7 131.2L324.7 130.7L325.4 130.8L326.4 131.1L326.9 131L327.7 130.8ZM353 124.5L354.3 125.3L354.6 126.2L355.3 127.2L355.4 126.5L355.8 126.8L356 127.6L357.4 128L358 127.6L358.5 127.7L358.3 128.6L357.97 129.2L357.2 129.1L356.9 129.4L357 129.9L356 131.3L355.2 131.7L355.1 131.4L354.7 131.3L355.2 130.5L354.9 129.9L353.8 129.5L353.9 129.1L354.6 128.8L354.7 128L354.7 127.4L354.3 126.7L354.3 126.5L353.8 126.1L353.1 125.2L352.6 124.5L353 124.5ZM354.3 131.3L354.2 131.8L353.9 132.2L353.2 132.97L352.7 133.4L353.1 133.9L352.3 133.9L351.5 134.2L351.2 134.9L350.6 135.9L349.8 136.4L349.3 136.6L348.4 136.6L347.8 136.3L346.7 136.2L346.5 135.9L347 135.1L348.3 134.1L348.9 133.9L349.7 133.6L350.5 133L351.1 132.5L351.6 131.8L351.9 131.5L352.1 130.96L352.8 130.5L353.2 131.3L353.96 130.9L354.3 131.3ZM229.5 102.5L229.8 102.9L230.1 104L230.5 105.2L230.4 105.7L230.2 106L229.9 105.4L229.7 105.7L229.9 106.5L229.8 106.9L229.5 107.1L229.4 107.95L228.5 110.5L227.9 112.4L227.5 114L227.1 114.9L226.3 115.2L225.4 115.6L224.8 115.3L224 115L223.8 114.5L223.7 113.6L223.3 112.8L223.3 112.1L223.4 111.3L223.9 111.2L223.9 110.8L224.4 110.1L224.5 109.4L224.2 108.96L224 108.3L223.96 107.4L224.3 106.9L224.4 106.2L224.9 106.2L225.5 105.97L225.9 105.8L226.3 105.8L226.9 105.2L227.7 104.6L228 104.1L227.9 103.7L228.3 103.8L228.8 103.1L228.9 102.5L229.2 102L229.5 102.5ZM97.7 66.8L99.4 66.9L100.3 67.2L100.7 67.6L101.7 67.5L102.9 68.3L103.5 68.8L104.4 69L104.3 69.3L105.1 69.3L105.8 69.7L105.7 69.9L105.04 70.1L104.4 70.1L102.2 70.1L102.9 69.6L102.5 69.3L101.9 69.3L101.5 69L101.3 68.4L100.7 68.4L99.8 68.2L99.5 68L98.2 67.8L97.8 67.6L98.2 67.4L97.2 67.3L96.5 67.8L96.1 67.8L95.9 68.1L95.5 68.2L95.03 68.1L95.6 67.8L95.8 67.4L96.2 67.2L96.7 67.02L97.5 66.9L97.7 66.8ZM108.3 70.3L109.2 70.1L110.05 70.4L110.2 70.7L110.8 70.7L110.7 71L111.2 71.02L111.7 71.4L111.3 71.8L110.8 71.6L110.05 71.6L109.5 71.8L109 71.7L108.6 72.4L108.3 72.2L108.3 71.7L107.6 71.8L107.2 71.9L106.5 71.8L105.5 71.7L105.6 71.3L106.5 71.5L107.3 71.6L107.7 71.3L107.2 70.9L107.2 70.5L106.6 70.4L106.8 70.1L107.4 70.1L108.3 70.3ZM102.4 71.5L103.1 71.6L103.6 71.8L103.8 72.1L103.1 72.1L102.8 72.3L102.2 72.1L101.7 71.8L102.2 71.5L102.4 71.5ZM113.7 71.5L114.4 71.8L114.2 72.02L113.4 72.02L112.8 72.1L112.9 71.5L113.7 71.5ZM124.1 38.4L124.6 38.4L124 39.8L123.8 39.8L124.5 40.1L124.2 40.4L125.1 40.7L125.5 40.4L126.5 40.8L126.2 41.5L126.9 41.3L127.3 42.5L126.9 43.3L125.8 43.2L126.04 42.4L125.8 42.2L124.6 43.1L124 43L124.7 42.6L123.7 42.4L120.7 42.4L120.6 42.1L121.2 41.7L120.8 41.5L121.6 40.9L122.6 39.3L123.3 38.7L124.1 38.4ZM52.5 39.2L51.6 39.2L52.7 39.9L53.3 40.1L54.2 40.9L55.1 41.1L56.5 41.5L56 40.8L54.5 40L53.1 39.2L52.5 39.2ZM47.8 36L46.9 35.8L48 37.5L48.8 37.8L48.4 37L47.8 36ZM195.5 51.8L195.2 52.6L195.1 53.4L194.3 53L193 52.4L192.4 52L193.7 52L195.5 51.8ZM189.2 48.8L189.8 49.5L189.7 50.8L189.2 50.8L188.8 51.1L188.4 50.8L188.4 49.6L188.2 49L189.2 48.8ZM189.6 47.8L189.2 48.6L188.8 48.4L188.5 47.7L189.4 47L189.6 47.8ZM203.7 54.3L204.2 54.6L205 54.6L205.8 54.6L206.3 54.7L206.2 55L204.7 55.1L204.7 54.9L203.5 54.7L203.7 54.3ZM212.7 54.9L213 54.8L213.97 54.9L214.6 54.3L213.9 54.8L213.97 55.02L213.4 55.2L212.3 55.2L212.5 54.9L212.7 54.9ZM327.2 45.5L326 46.5L325.6 46.3L327.2 45.5ZM118.8 141.85L120.2 141.3L121.5 141.1L122.25 141.55L121.4 142.1L118.8 141.85ZM111.4 142.3L111.7 143.1L112.25 143.85L113.55 144.45L114.95 144.7L114.5 145.2L113.55 145.25L112.7 145.3L111.4 145L110 144.9L109 144.1L107.7 143.5L108.9 143.8L110.65 142.5L111.4 142.3ZM24.5 70.9L24.1 70.9L24 70.3L24.1 69.8L24.8 70.01L25.2 70.5L24.5 70.9ZM23.9 69.4L23.3 69.1L23.6 69.4L23.9 69.4ZM22.3 68.7L21.9 68.7L21.7 68.4L22.3 68.7ZM344 110.1L345.5 111.7L347.1 112.2L346.7 112.4L344.5 110.8L344 110.1ZM358.4 107.3L358.7 108.2L357.4 108.2L357.3 107.7L358.4 107.3ZM347.8 106.5L347.2 105.9L347 105.6L347.8 106.5ZM102.5 63.2L102.2 63.4L101.1 63.2L102.5 63.2ZM102.2 65.8L102 64.8L102.5 65.7L102.2 65.8ZM249 138.7L250.5 139.1L249.6 139.7L248.7 139.2L249 138.7ZM334.6 95L335.9 96.5L335.2 96.8L334.6 95ZM339.6 99.2L340.8 99.6L340.4 99.9L339.6 99.6L339.6 99.2ZM340.8 98.5L341.4 99.3L341 99.3L340.8 98.5ZM338.2 97.6L339.6 98.2L339.4 98.4L338.2 97.6ZM336.5 96.8L337.5 97.4L337.3 97.5L336.5 96.8ZM341.3 100.2L342.2 100.6L341.6 100.7L341.3 100.2ZM330.7 92.6L332 93.3L333 94.6L332.6 94.8L331.8 93.6L330.7 92.6ZM346.6 104.6L347.2 105.5L346.8 105.6L346.6 104.6ZM348.2 107.5L348.6 107.8L348.2 107.8L348.2 107.5ZM358.5 106.2L360 106.5L359.3 106.8L358.5 106.2Z"/>
<g id="coast"><path d="M12 24.4L14 23.7L16.3 23.4L18 24L18.5 23.1L16.2 22.8L13.5 21.7L15.5 21.1L17 20.3L20 19.4L23.2 18.7L26 19.1L29 19.6L32 19.7L36 19.9L39 20.3L42 20.8L44 21.1L45.5 20.4L48 20.3L50.5 20L52 19.5L54 20.4L55.6 20.6L58 20.2L61 20.6L64 21.3L66 21.8L68 22.2L71 22.1L73.5 21.7L76 22L78.5 22.2L81.5 22.2L83 21.5L84 22L85 21.2L86 20L84.5 18.2L86.5 18L88 19.5L90 20.7L92 21.4L93.5 22L94.5 20.2L97.5 20.4L98.7 21.4L97.5 22.5L96 23.4L94.4 23.5L93.2 24.1L92.5 25.4L90.5 26L89.2 26.8L87.5 27.8L85.8 29.2L85.4 31L86.8 31.2L87.8 32.9L90 33L92 33.6L94.5 34.7L97.7 34.9L97.8 37L98.5 37.8L100 38.7L101 38.4L101.2 37L101 35.5L102.5 34.4L103.4 33.5L103.5 32L102.6 31L102.7 29.2L101.8 27.6L104.5 27.7L107 27.9L108.5 28.9L110.5 29L110.6 30L112 30.6L113.5 30.4L115.3 29.7L117 32L118.5 33.7L120.5 34.8L122.4 35.4L124 37L124.3 38L122.7 39.3L120 39.8L116.5 39.7L113.5 40L111 41.7L109 43.1L111.5 41.4L113.5 40.8L115.5 41.2L115 42.1L115.2 43L116.2 43.8L118.5 44.2L119.5 43.6L120 44.3L118.5 44.8L116.5 45.4L114.2 46.4L113.8 45.5L115.5 44.7L114 44.8L112.7 45.4L111.2 45.8L109.8 46.5L109.3 47.4L110 48L110 48.4L108.7 48.6L107.5 48.8L106 49.4L105.8 50.2L105.1 51.1L104.9 51.6L104.3 52.5L104 53.2L104.5 54.4L103.8 55.2L102.5 55.6L101.2 56.4L100.4 57.3L99.2 58.2L98.6 59.5L99 60.8L99.6 62.6L99.9 64L99.5 64.8L98.7 64.5L98.2 63.4L97.3 62L97.1 60.7L96 60L94.7 60.3L93.5 59.6L91.9 59.6L90.6 59.8L90.9 60.8L89.8 60.9L88.2 60.4L86.5 60.3L85.2 60.7L83.5 61.7L82.7 62.7L82.6 64.1L82.4 66L82.2 67.7L82.8 69.3L83.6 70.7L85 71.5L86 71.8L87.8 71.4L89 71L89.6 69.2L91 68.7L92.8 68.5L92.6 70.2L92.2 71.7L91.7 73.2L91.4 74.3L92.5 74.2L95 74.1L96.7 75L96.4 76.7L96.2 78.5L96.6 79.4L97.5 80.5L98.5 81.2L100 80.7L101 80.5L102.6 81.4L103.2 82L103.7 80.7L104.4 79.5L105.1 79L106.7 78.7L107.8 78.1L108.6 77.7L108.4 78.6L108.2 79.2L108.4 80.4L109 79.2L109.8 78.5L110.5 78.5L111.6 79.3L113.8 79.4L115.7 79.4L117.8 79.4L118.2 80L119.3 81.5L120.6 82.1L121.6 83L122.8 84.2L124.2 84.1L126 84.3L127.5 85.1L128.5 85.8L129.1 87.2L130 88.3L130 89.5L131.4 90.7L132.2 90.6L134 91.1L135.2 91.6L135.7 92.8L138 92.8L140 92.9L141.5 93.7L143 94.9L144.7 95.2L145.1 97.5L144.8 99L143.4 100.4L142.4 102L141.2 103.2L141 105L140.8 107.4L140.2 109.6L139.1 111.8L138.1 113L135.4 113.4L133.5 114.1L132 115.5L131.4 117L131.2 118.6L129.8 120.8L128.6 121.8L127 123.4L126 124.6L124.5 124.8L123.2 124.8L121.6 124L122.5 125.5L123.3 126.4L122.3 128.2L120.5 128.7L118.5 129L117.7 128.8L117.6 130.5L115 131L115.5 132.3L116.5 132.6L115.4 133.3L114.7 135L112.7 135.6L112.5 136.4L114 137.1L114.2 138L112.3 139.5L111.3 140.3L110.8 141.8L111.6 142.3L109.5 142.8L108.8 143.8L107.5 143.5L106 142.5L104.8 141.5L104.5 139.5L104.5 137.5L105.5 136.5L105.7 134.5L106.7 134L107.2 132.5L106.5 131.8L106.3 129.5L106.5 127.2L107.3 125.5L108.3 123.5L108.5 120.5L108.7 118.5L109.1 117L109.6 115L109.5 113.2L109.8 111L109.7 108.3L108.5 107.3L107.5 106.5L104.8 105.3L103.7 103.5L102.8 102L101.5 99.5L100.5 97.5L98.8 96.1L99 94.3L99.7 93.4L100.1 92.5L99.1 92.2L99.4 90.9L99.9 89.4L100.5 89L101.1 88.2L102.2 87.3L102.7 86.3L102.5 83.3L101.8 82.5L101.6 81.7L100.4 81.1L99.6 81.7L99.6 82.7L98.7 82.4L97.7 81.7L96.4 81.5L94.8 80.1L94.2 79.2L94.3 78.5L93 77.4L92.3 76.7L91.2 76.7L89.9 76.2L88.3 75.8L87.5 75.2L86.1 74L85.3 73.8L84 74.3L82.2 73.9L80.5 73.3L78.5 72.5L76.5 71.7L75.1 70.7L74.4 69.6L74.7 68.5L74.3 67.5L73.6 66.8L72.5 65.5L71.4 64.5L70.6 64L69.5 62.5L68.7 62L67.8 61L66.9 59.3L65.2 58.2L65.5 60L66.8 61.2L67.5 62.3L68.3 63.5L69.2 65.1L69.7 65.9L70.6 66.8L70 67.1L69 65.8L67.8 65.2L67.6 63.9L66.5 63.2L65.6 62.2L65.8 61.4L64.6 60.6L63.3 58.8L62.9 57.5L62.1 56.4L61.5 56L59.4 55.4L59 54.4L58 53.1L57.5 52.2L57 51.8L56.2 50.3L55.6 49.6L55.8 48L55.5 47L56 45.4L56.1 44L55.9 43L55.3 41.8L56.9 42L57.5 41.3L57 41L56.5 40.5L55.1 40L54.4 39.5L52.6 39L52.1 37.7L51.5 36.5L49.7 35.7L49.5 34.8L48.1 34.4L47.7 33.1L46.5 32.7L45.9 31.9L44.5 31.2L43.5 31.6L42 31.1L40.2 30.5L38.5 30L36.2 30L34.1 29.5L32.9 29.1L31.8 29.4L31.4 30.1L30.3 30.4L28.3 30.8L28.6 29.3L29.7 28.7L27.2 29.7L26.1 30.8L26 31.3L24 32.5L22.4 33.6L20.5 34.2L18.8 34.6L17.1 35.1L15.2 35.6L17 34.8L18.2 34L19.7 33.4L21.2 32.2L22.5 31.4L21.8 31.2L20.1 31.5L18.7 31.3L17.7 30.5L15.7 29.8L14.7 28.9L14.8 27.7L15.5 26.9L17.7 26.4L19 25.7L18.7 25.3L17.1 25.5L15.6 25.4L13.6 25.3L13.2 24.9L12 24.4M147.5 6.4L153 6.5L159 7.4L155 8L160 8.5L164.2 8.2L167.5 8.4L163.5 9.6L162 11.5L160.3 12.5L161.5 13.8L159.5 15L158.5 15.9L158 17.5L157.6 19L155.5 19.5L157.5 19.9L154 21.4L150 21.9L147 22.6L145 23.8L142 24.4L139.5 25.2L138.8 26.5L137.5 28.2L137 29.7L135.1 30L133.5 29.1L131.7 29.1L130.8 28.1L129.4 26.7L128.4 25.9L127.5 24.7L126.3 23.9L126.5 22.8L127 21.6L129 21.2L128.5 20.2L126.5 20.6L125.3 19.8L127.5 19L125 18.6L124.4 17.5L123.4 15.7L121.4 14.5L118.7 13.9L116 13.9L113 13.9L108.6 13L113.2 12.6L107 11.8L110.6 11.1L114.3 10.6L116 10L113 9.5L117 8.8L122.8 7.8L128 7.6L133.4 8L135.5 7.6L139 7L144 6.5L147.5 6.4M115.1 28.1L113.5 27.4L111.2 26.3L112.5 25.7L114.5 26L116 25.2L115 24.5L116.8 24.6L118.1 23.4L116 23L114.8 22.4L113 21.8L111.4 21.3L112.2 19.9L110 19.6L108.4 19.1L107 18.5L104.7 17.7L102.5 17.4L99.7 16.3L96.5 16.2L93.5 16.7L91 16.7L91.6 17.7L93.3 19L95 19.1L97.7 20L99.4 19.9L101.8 20.6L103.1 21.4L105 21.7L106.5 22.3L107.5 23.2L106.1 24.6L104.4 24.8L102.7 24.6L101.5 25.5L102.2 25.8L104.2 25.7L106.3 25.5L108.4 26.4L109.2 27L111.2 27.7L113.7 28.1L115.1 28.1ZM94 26L96.8 26L98.4 25.6L98.8 24.9L96.5 24.2L94.9 23.6L93 24.8L94 26ZM76 21L78.5 20.7L77.8 20L79.2 19.4L77.6 18.6L75.5 17L72.5 16.7L70 17.1L67.7 17.2L65.5 16.9L62.3 17.4L61.4 18.7L63.8 19.2L62.5 19.7L65.5 19.9L67.2 19.7L68.4 20.2L66.2 20.7L63.5 20.7L66.5 21.4L70.5 21.3L73.7 20.9L76 21ZM58.5 18.3L56.5 18.6L54.7 17.6L55.6 16.6L55.1 15.7L58.6 15.5L62.5 15.8L64.5 16.5L61 17.3L58.5 18.3ZM63.5 15L68 15.4L71 15.1L74.2 14.5L73.8 13.8L70.5 13.3L66.5 13.5L62.5 13.6L63.5 15ZM58.5 14.1L62.3 13.2L60.8 12.5L57.3 13.3L58.5 14.1ZM82.7 18.5L80.7 18.6L77.5 17.5L78.5 17.1L79.7 16.2L83 16.5L83.5 17.4L82.7 18.5ZM85.8 18L86.8 17.2L88.1 16.3L85.6 15.9L84.4 16.5L84.4 17.8L85.8 18ZM84 21.2L82.5 21L80.7 21.3L81.6 20.5L83.5 20.4L84 21.2ZM99.7 15.5L94 15.4L87.6 15.2L88.5 14.2L86.5 13.2L91 13.5L95 12.6L99.4 13.8L101.5 14.6L99.7 15.5ZM83.5 14.5L80.5 14.2L81.5 13.6L83 13.9L83.5 14.5ZM86.5 15L83.2 15L85 14.4L86.5 15ZM100 13.7L95.8 13.4L91 13.5L90.2 12.8L92.8 12.1L93.9 11L92.9 10.3L94.2 9.8L90 9.4L88.6 9L91.1 8.5L95.2 8.1L101 7.1L107.5 6.9L115 7.1L118 7.5L115 8.3L111 9.5L109 10.2L105.5 10.8L104 11.5L104.7 12L102.2 12.8L101.5 13.4L100 13.7ZM93 11.5L90 11.7L86.2 11L85 10L86 9L88.5 8.8L90.5 9.5L92.5 10.2L93 11.5ZM79.5 12.1L77 11.8L78.5 11.1L80.5 11.5L79.5 12.1ZM76.5 10.8L74 11L75.5 10.2L76.5 10.8ZM174.4 54L173.7 53.2L172.6 52.8L171.1 53L171.2 51.7L170.5 51.2L171 50.1L171.2 48.8L171.1 47.5L170.7 47L172 46.3L174 46.4L176 46.6L178.1 46.6L178.7 45.5L178.8 44.2L177.8 42.9L175.5 42.1L175.4 41.4L177 41.2L178.4 41.3L178.1 40.3L179 40.6L180.3 40.5L181.5 39.7L182.5 38.9L183.6 38.6L184 38.1L184.7 37.1L185.5 36.7L187 36.5L188.1 36.5L188.8 36L188.6 35.1L188.1 34.5L188.1 33.4L188.6 32.9L190.6 32.3L190.5 32.8L190.3 33.5L190.9 33.7L190.2 34.4L189.6 34.5L189.9 35.2L190.9 35.6L191.6 35.9L192.5 35.6L193.6 35.9L194.1 36.2L195.5 35.9L196.5 35.5L198.4 35.2L198.6 35.6L199.8 35.6L201.2 34.8L201.1 34L201 33.2L201.6 32.6L202.5 32.3L203.3 33L204.1 33L204.4 31.6L203.4 31.4L203.4 30.8L204.6 30.5L206 30.4L208 30.5L209.1 30L208.1 29.5L206.3 29.6L204.5 30L202.9 30.2L202.3 29.6L201.4 29.3L201.5 28.3L201.1 27.4L201.5 26.8L202.4 26.2L204.7 25.1L205.4 24.9L205.3 24.5L204.6 24.2L202.2 24.3L201.2 25L201.5 25.6L200 26.4L198.8 27L197.8 27.3L197.1 28.7L197.8 29.4L198.8 29.9L198.5 30.6L197.6 31.1L196.8 31.3L196.4 33L195.9 33.9L194.7 33.8L194.1 34.6L192.9 34.6L192.6 33.7L191.8 32.6L191 31.1L190.4 30.5L189.6 31L188.4 31.7L187 31.9L185.7 31.4L185.3 30.3L185 29L185.9 27.4L188.6 26.5L190.5 25.5L192.4 24.1L194.8 22.2L196.4 21.4L199.2 20.2L201.4 19.7L203 19.8L204.5 19L206.4 19.1L208.2 18.8L211.3 19.5L210 20L213.8 20.7L216.5 20.9L220.3 22.1L221.1 23.2L220 23.7L218.4 24L213.9 23.2L212.6 23L214.8 24.1L214.9 25.6L217 26.2L217.1 24.9L219.6 25.5L220.4 25.2L219.8 24.5L222.1 23.5L223.9 23.9L224.5 23.2L223.7 22.6L224.2 22L223.5 21.4L226.3 21.7L226.8 22.3L225.6 23L226.4 23.3L227.9 22.4L229 22.3L230.2 22L233.7 21.1L234.5 21.2L233.5 21.8L234.7 21.9L235.4 21.6L237.3 21.5L238.8 21.1L239.9 21.7L241.1 21.1L240 20.5L240.6 20.1L243.5 20.5L244.9 20.8L248.5 21.9L249.2 21.4L248.1 20.9L248.1 20.6L246.9 20.5L246.7 19.3L246.7 19L248.5 18.1L249.2 17.2L249.9 17L252.6 17.2L252.8 17.8L251.8 18.6L252.5 18.9L252.8 19.6L252.6 21L253.7 21.6L253.2 22.3L251.3 23.7L252.4 23.8L252.8 23.5L253.9 23.2L254.2 22.7L255.1 22.2L254.5 21.7L254.9 21L253.8 20.9L253.6 20.4L254.4 19.4L253.1 18.6L254.9 17.9L254.7 17.2L255.2 17.1L255.7 17.7L255.3 18.7L256.4 18.8L256.1 18.1L257.6 17.7L259.7 17.7L261.5 18.2L260.6 17.4L260.5 16.4L262.3 16.1L264.7 16.2L266.8 16.1L266 15.5L267.2 14.9L268.3 14.9L270.3 14.4L272.9 14.2L273.2 14L275.9 13.9L276.7 14.1L278.9 13.6L280.8 13.6L281 13.1L282 12.7L284.4 12.3L286.1 12.6L284.7 12.9L286.9 13L287.2 13.5L288.2 13.3L291.1 13.3L293.3 13.8L294.1 14.2L293.9 14.7L292.8 15L290.2 15.5L289.4 15.8L290.6 16L292.1 16.2L293 16L293.5 16.7L294 16.4L295.6 16.2L298.8 16.4L299 16.9L303.2 17L303.3 16.3L305.4 16.4L306.98 16.4L308.6 17L309.1 17.6L308.5 18L309.7 18.8L311.3 19.2L312.3 18.2L313.9 18.6L315.6 18.3L317.5 18.7L318.2 18.4L319.9 18.5L319.1 17.6L320.5 17.2L329.5 17.8L330.4 18.4L332.97 19.2L337 19L339 19.1L339.8 19.5L339.7 20.3L340.9 20.6L342.3 20.4L344.1 20.3L345.9 20.5L347.8 20.4L349.6 21.3L350.8 21L350 20.3L350.5 19.9L353.6 20.2L355.7 20.1L358.6 20.6L360 21M0 21L2.4 21.8L5.1 22.8L8.1 23.1L10.1 24L9.1 24.5L7.5 24.6L7.4 25.5L6.1 25.7L5 25.2L3.8 24.6L2.8 24.5L1.6 24.6L1.1 24.3L1.3 23.9L0.1 24.1L0 25M360 25L358.7 25.5L357.4 25.4L358.3 25.9L358.9 26.7L359.4 27.1L359.2 27.7L357.4 27.5L354.6 28.2L353.7 28.3L352.2 29L350.7 29.7L350.3 30.1L348.9 29.4L346.3 30.2L345.8 29.8L344.9 30.3L343.5 30.1L343.2 30.8L342 31.8L342.1 32.2L343.2 32.4L343.1 33.8L342.1 33.9L341.7 34.7L342.1 35.1L340.4 35.7L340 36.8L338.5 37.04L338.2 38.1L336.8 39L336.4 38.3L335.99 36.8L335.4 34.6L335.9 33.2L336.8 32.6L336.8 32.2L338.4 31.9L340.2 30.7L341.9 29.7L343.7 28.9L344.5 27.4L343.3 27.5L342.7 28.4L340.1 29.5L339.3 28.2L336.7 28.6L334.2 30.2L335 30.9L332.8 31.1L331.3 31.2L331.3 30.5L329.8 30.3L328.5 30.8L325.5 30.7L322.2 31L318.96 32.9L315.1 35.3L316.7 35.4L317.2 36.02L318.2 36.2L318.8 35.7L319.9 35.8L321.3 36.9L321.4 37.8L320.6 38.8L320.5 40L320.1 41.6L318.6 43L318.2 43.7L316.9 44.9L315.5 46.01L314.9 46.6L313.5 47.2L312.9 47.2L312.3 46.7L310.9 47.4L310.8 47.8L310.4 47.7L309.7 48.4L309.7 49.1L309.2 49.3L308.6 49.8L307.97 50L307.5 50.2L307.5 50.7L307.4 50.8L308.3 51.4L309.2 52.6L309.5 53.2L309.5 54.4L309.1 54.9L308.2 55.1L307.4 55.5L306.5 55.6L306.4 55.1L306.6 54.3L306.1 53.3L306.9 53.1L306.2 52.3L305.7 52.1L305.6 51.8L304.99 51.5L305.2 51.3L305.1 50.4L304.3 50.1L302.9 50.4L302.1 50.8L301.1 51.1L301.6 50.6L301.4 50.2L302.2 49.6L301.6 49.1L300.8 49.4L299.6 50.1L299 50.7L298 50.8L297.5 51.3L298.1 51.9L298.9 52.1L298.9 52.6L299.7 52.8L300.8 52.1L301.7 52.5L302.4 52.5L302.5 53.1L301.1 53.3L300.6 53.9L299.7 54.4L299.2 55.1L300.2 55.6L300.6 56.6L301.2 57.5L301.9 58.3L301.9 59.1L301.3 59.3L301.5 59.9L302.1 60.2L301.7 61.8L301.1 61.9L299.6 64.3L298.7 65.5L297.3 66.4L295.9 67.2L294.8 67.3L294.2 67.8L293.8 67.5L293.2 67.9L291.8 68.4L290.8 68.6L290.4 69.7L289.9 69.7L289.6 69L289.9 68.6L288.5 68.3L288.1 68.4L286.7 69.3L285.9 70.2L285.7 70.9L286.4 72L287.4 73.3L288.3 73.9L288.9 74.7L289.3 76.6L289.2 78.3L288.4 79L287.2 79.6L286.4 80.5L285.2 81.4L284.8 80.8L285.1 80.1L284.3 79.5L283.5 79.4L283.1 78.8L282.6 77.8L281.7 77.4L280.8 77.4L280.98 76.6L280.1 76.6L280 77.7L279.2 79.04L279.2 80.8L279.9 80.8L280.5 82.6L281 83.1L281.6 83.3L282.1 83.8L282.96 84.5L283.4 85.1L283.4 86.3L283.5 87.2L283.9 87.5L284.2 88.4L283.5 88.8L282.6 88.03L281.4 87.2L281.3 86.7L280.7 86.1L280.6 85.2L280.2 84.7L280.3 84L280.1 83.5L279.7 83.2L279.5 82.7L278.99 82.1L278.5 81.6L278.3 82.2L278.2 81.6L278.3 81L278.6 80.1L278.5 79.3L278.8 78.6L278.4 78L278.5 76.9L278.1 76.4L277.8 75.2L277.6 73.9L277.2 73.1L276.5 73.6L275.4 74.3L274.8 74.2L274.2 74L274.5 72.7L274.3 71.8L273.5 70.6L273.7 70.3L273.1 70.1L272.4 69.3L272.1 68.8L272 68.3L271.8 67.8L271.4 67.2L270.5 67.2L270.6 67.6L270.3 68.2L269.8 68L269.7 68.1L269.4 68.03L269 67.9L268.9 68.3L268.2 68.3L266.98 68.5L267 69.3L266.5 69.8L265.1 70.5L263.9 71.7L263.2 72.3L262.2 73L262.2 73.4L261.7 73.7L260.8 74.05L260.3 74.1L260 74.9L260.2 76.2L260.3 77L259.9 77.9L259.9 79.6L259.3 79.7L258.9 80.5L259.2 80.8L258.3 81.1L257.9 81.7L257.5 82L256.6 81.1L256.1 79.7L255.7 78.7L255.4 78.2L254.9 77.3L254.6 76L254.4 75.4L253.5 74L253.1 72.1L252.8 70.8L252.8 69.6L252.6 68.6L251.2 69.2L250.5 69.1L249.2 67.9L249.6 67.5L249.3 67.2L248.2 66.3L247.4 66.1L247.1 65.3L246.4 64.6L244.5 64.8L242.9 64.8L241.5 64.9L239.6 64.6L238.5 64.4L237.4 64.3L236.97 63.03L236.5 62.9L235.7 63.04L234.7 63.5L233.5 63.2L232.5 62.4L231.5 62.1L230.9 61.2L230.1 59.9L229.6 60L228.9 59.7L228.6 60.1L227.97 60.02L228.2 60.5L228.1 60.7L228.4 61.4L228.8 62.3L229.3 62.5L229.5 62.9L230.2 63.3L230.1 64.1L230.2 64.4L230.5 64.7L230.7 65.1L230.8 65.2L231.1 63.9L231.6 64.2L231.6 64.8L231.4 65.4L231.8 66L232.6 65.8L234 65.9L234.7 65.2L235.4 64.6L236.1 63.9L236.4 63.6L236.5 63.7L236.4 64.1L236.3 64.3L236.4 65.1L237.4 66.1L238.7 66.4L239.5 67.3L239.8 67.5L239.3 68.6L238.9 68.9L238.5 69.6L238 69.5L237.7 70.3L237.8 70.9L237.7 71.1L237.2 71.1L236.6 71.4L236.5 71.9L236.3 72.1L235.7 72.1L235.3 72.4L235.3 72.8L234.8 73.05L234.2 73L233.6 73.3L233.1 73.3L232.4 73.6L232.2 74.1L232.2 74.4L231.2 74.8L229.6 75.3L228.7 76L228.2 76.05L227.9 76L227.4 76.4L226.7 76.6L225.9 76.7L225.6 76.7L225.4 77L225.1 77.05L224.99 77.3L224.5 77.3L224.2 77.4L223.5 77.4L223.2 76.8L223.3 76.2L223.1 75.9L222.9 75.2L222.6 74.8L222.8 74.7L222.7 74.3L222.8 74.1L222.8 73.7L222.6 73.2L222.3 72.9L222.3 72.5L221.8 72.2L221.2 71.3L220.9 70.5L220.2 69.8L219.8 69.7L219.1 68.7L219 68.01L219.1 67.4L218.5 66.3L218 65.9L217.5 65.7L217.2 65.1L217.2 64.9L216.9 64.4L216.6 64.2L216.2 63.4L215.6 62.6L215.1 61.9L214.6 61.9L214.8 61.4L214.8 61L214.96 60.6L214.6 61.4L214.4 61.7L214.2 62.2L213.9 62.4L213.1 61.6L212.4 60.1L212.3 60.2L212.7 61.3L213.3 62.3L214.1 63.9L214.5 64.4L215.7 66.1L215.5 66.2L215.5 66.9L216.7 67.8L216.9 68L217.2 69L217.1 70.2L217.5 71.4L217.9 71.6L218.4 72L218.99 73.2L219.3 74.1L219.8 74.6L221.2 75.5L221.7 76.1L222.3 76.7L222.6 77.1L223.1 77.3L223.3 77.6L223.3 78.03L222.7 78.3L223.1 78.5L223.5 78.7L223.7 79.1L224.1 79.6L224.6 79.6L225.6 79.3L226.6 79.2L227.5 78.9L228 78.8L228.4 78.6L228.9 78.6L229.3 78.6L229.7 78.4L230.3 78.3L230.7 78L231.1 78L231.1 78.3L231 79L231 79.4L230.8 79.7L230.6 80.8L230.1 81.9L229.5 83.2L228.6 84.7L227.7 85.8L226.6 87.1L225.6 88L224.1 88.9L223.1 89.7L222 90.9L221.8 91.4L221.6 91.7L220.9 92.1L220.6 92.5L220.3 92.6L220.1 93.3L219.8 93.7L219.6 94.3L219.2 94.7L218.7 95.9L218.8 96.5L219.4 96.8L219.5 97.1L219.2 97.7L219.3 98L219.2 98.5L219.5 99.1L219.9 100.1L220.3 100.3L220.5 100.8L220.4 101.8L220.6 102.6L220.6 104.2L220.8 104.7L220.5 105.4L220.1 106.1L219.5 106.7L218.5 107.1L217.4 107.6L216.3 108.7L215.9 108.8L215.2 109.6L214.8 109.8L214.7 110.5L215.2 111.3L215.4 111.8L215.4 112.1L215.6 112.1L215.5 113.1L215.4 113.5L215.6 113.7L215.5 114.1L215 114.5L214.2 114.8L213 115.4L212.6 115.7L212.7 116.1L212.9 116.2L212.6 117.5L212.5 118.3L212.2 118.8L211.5 119.3L211.3 119.4L210.9 119.9L210.6 120.4L210.1 121.1L208.9 122.2L208.2 122.8L207.5 123.2L206.4 123.6L205.9 123.7L205.8 123.9L205.2 123.8L204.7 124L203.6 123.8L202.99 123.9L202.6 123.9L201.5 124.3L200.7 124.4L200.1 124.8L199.6 124.8L199.2 124.5L198.9 124.4L198.4 124L198.4 124.1L198.2 123.9L198.3 123.3L197.9 122.6L198.2 122.4L198.2 121.7L197.6 120.7L197.1 119.9L197.1 119.9L196.3 118.6L195.6 117.8L195.2 117.1L194.99 116.1L194.7 115.4L194.4 113.9L194.4 112.7L194.3 112.1L193.9 111.7L193.4 110.9L192.8 109.7L192.6 109L191.8 108.1L191.7 107.3L191.6 106.7L192.2 104.4L192.5 103.5L192.7 103.1L193.3 102.5L193.6 102L193.7 101.3L193.7 100.7L193.4 100.4L193.1 99.8L192.9 99.2L192.9 98.96L193.2 98.6L192.9 97.6L192.7 96.9L192.2 96.3L192.3 96.1L192.2 95.8L191.9 95L191.1 93.98L190.1 92.97L189.4 92.1L188.8 91.1L188.8 90.8L189 90.5L189.3 89.7L189.5 89L189.3 88.8L189.6 87.7L189.8 86.9L189.4 86.3L188.9 86.1L188.7 85.6L188.5 85.5L188.5 85.2L187.5 85.6L187.1 85.5L186.7 85.8L185.9 85.7L185.4 85.1L185 84.4L184.3 83.7L183.6 83.7L182.7 83.7L181.9 83.9L181.1 84.1L179.5 84.7L178.9 85L178 85.3L177.1 85L176.7 85.02L176 84.8L175.4 84.8L174.2 85L173.5 85.3L172.5 85.7L172.3 85.6L172.03 85.6L171 85.2L170.1 84.4L169.2 83.9L168.6 83.2L168.3 83.1L167.6 82.7L167.1 82.2L166.9 81.8L166.8 81.1L166.3 80.5L165.9 80.1L165.4 79.8L165.3 79.3L165.2 79.1L164.9 79L164.3 78.5L163.9 78.5L163.7 78.2L163.7 78.04L163.4 77.8L163.3 77.6L163.2 76.8L163.3 76.4L162.9 75.6L162.4 75.3L162.8 75.1L163.3 74.4L163.5 73.9L163.9 73.5L163.9 72.8L163.7 72.04L163.9 71.9L163.7 70.9L163.6 70.4L163.7 69.9L163.5 69.4L162.9 69.01L163 68.6L163.03 68.1L163.4 67.8L163.7 67.3L163.7 67L164.02 66.3L164.6 65.6L164.9 65.5L165.2 64.9L165.2 64.4L165.6 63.7L166.2 63.4L166.9 62.3L167.4 62L168.3 61.9L169.1 61.2L169.6 60.9L170.4 60.1L170.2 58.8L170.6 58L170.7 57.4L171.3 56.8L172.3 56.3L173.1 55.9L173.8 54.9L174.1 54.2L174.8 54.2L175.4 54.7L176.4 54.6L177.4 54.8L177.8 54.8L178.8 54.3L179.9 54.1L180.5 53.7L181.5 53.4L183.2 53.2L184.8 53.1L185.3 53.3L186.3 52.9L187.3 52.9L187.7 53.1L188.4 53.1L189.5 52.7L190.2 52.8L190.2 53.3L191 52.9L191.1 53.1L190.6 53.6L190.6 54.1L190.9 54.3L190.8 55.2L190.1 55.7L190.3 56.2L190.9 56.2L191.1 56.7L191.5 56.9L192.7 57.2L193.1 57.1L193.9 57.3L195.2 57.7L195.7 58.6L196.6 58.8L198 59.2L199.1 59.7L199.6 59.5L200.1 59L199.8 58.2L200.1 57.8L200.9 57.3L201.5 57.2L202.9 57.4L203.2 57.8L203.6 57.8L203.9 58L204.9 58.1L205.2 58.4L206.5 58.4L207.5 58.7L208.5 59L208.9 59.1L209.7 58.8L210.1 58.5L211 58.4L211.7 58.6L211.96 59.1L212.2 58.7L213 59L213.8 59L214.3 58.8L214.6 58.5L214.8 57.9L214.96 57.2L215.1 56.9L215.5 56.1L215.99 55.4L216 55.01L215.9 54.6L216.1 54.2L215.8 53.7L216.2 53.3L215.6 53.4L214.7 53.2L214 53.8L212.5 53.9L211.7 53.4L210.6 53.3L210.4 53.7L209.7 53.9L208.7 53.3L207.6 53.3L207 52.3L206.3 51.8L206.8 51.01L206.2 50.5L207.3 49.6L208.8 49.5L209.2 48.8L211.1 48.9L212.3 48.3L213.5 48L215.2 48L216.9 48.7L218.3 49.1L219.5 48.9L220.4 49L221.6 48.5L221.7 48.04L221.5 47.4L220.9 47L220.3 46.9L219.96 46.6L218.7 45.7L217.5 45.3L216.7 44.8L217.4 44.6L218.2 43.8L217.7 43.4L219.1 43L219.1 42.7L218.2 42.9L217.4 43L216.8 43.3L215.8 43.4L214.96 43.7L215 44.3L215.5 44.5L216.5 44.5L216.3 44.9L215.2 45.1L213.9 45.6L213.3 45.4L213.5 45L212.5 44.7L212.6 44.5L213.6 44.1L213.3 43.9L211.7 43.7L211.7 43.3L210.7 43.4L210.4 44L209.6 44.7L209.6 45L209.1 45.2L208.8 45.1L208.6 46.3L208 46.7L207.7 47.4L208 48L208.1 48.4L208.99 48.7L208.8 49.04L207.6 49L207.2 49.3L206.4 49.8L206 49.2L205.4 49.1L204.9 49.1L203.7 49.3L204.4 49.9L203.9 50.04L203.3 50.04L202.8 49.5L202.6 49.7L202.8 50.3L203.4 50.8L202.97 51.03L203.5 51.5L204 51.8L204 52.3L203.1 52.1L203.4 52.6L202.8 52.7L203.2 53.6L202.5 53.6L201.7 53.2L201.3 52.4L201.1 51.7L200.7 51.2L200.2 50.7L200.2 50.4L199.98 50.3L199.96 50L199.4 49.7L199.3 49.3L199.4 48.6L199.5 48.3L199.4 48.1L199 47.9L198.5 47.5L197.5 47.2L196.9 46.8L196 46.5L195.2 45.8L195.4 45.7L194.9 45.3L194.9 44.9L194.3 44.8L193.95 45.2L193.7 44.9L193.7 44.5L193.9 44.4L193.1 44.3L192.3 44.6L192.4 45.1L192.3 45.4L192.6 45.9L193.5 46.4L194 47.2L195.1 48L195.9 48.04L196.2 48.3L195.9 48.5L196.8 48.8L197.5 49.1L198.4 49.6L198.5 49.8L198.3 50.2L197.7 49.7L196.9 49.6L196.4 50.2L197.2 50.6L197.1 51.1L196.6 51.2L196.1 52L195.7 52.1L195.7 51.8L195.9 51.2L196.1 51L195.7 50.5L195.4 50L195 49.8L194.7 49.4L194.1 49.2L193.6 48.8L192.9 48.7L192.1 48.3L191.2 47.6L190.5 47.1L190.2 46.1L189.7 46L188.9 45.6L188.4 45.8L187.9 46.2L187.4 46.3L186.5 46.9L184.6 46.6L183.1 46.9L182.99 47.5L183 48.1L182.1 48.8L180.8 49L180.7 49.3L180.1 49.9L179.7 50.7L180.1 51.3L179.5 51.7L179.3 52.4L178.6 52.6L177.9 53.3L175.6 53.3L175 53.7L174.6 54.1L174.4 54M226.5 45.3L227.7 44.4L228.6 44.2L229.1 43.6L230 43.4L231.2 43L232 43.2L233 43.1L233 44L233.2 44.7L231.3 44.8L231 45.5L230.3 45.7L230.3 45.4L231.3 46.9L232.5 47.2L232.7 47.6L232.5 48.2L232.8 48.9L233.1 49.4L233.5 49.2L234.7 49.05L234 50L233.4 50.04L233.1 50.7L233.9 51.05L233.7 52.1L233.9 52.8L233 53.1L231.9 53.4L231.1 53.3L230.2 52.6L229.2 52.4L228.9 51.7L228.9 51.2L229.2 50.95L229.4 50.6L229.5 49.8L230.1 49.5L230.4 49.7L229.6 49.4L229.1 48.7L228.6 48.2L227.5 47L227.5 46.3L227.5 45.8L226.5 45.3ZM174.3 39.9L175.7 39.7L176.6 39.4L178.1 39.4L180 39.2L181.4 38.8L180.7 38.5L181.7 37.3L180.3 37L179.6 36L178.8 35.4L178.4 34.4L177.3 33.9L178 33L178.2 32.4L176.9 32.3L177 31.4L175 31.4L174.7 32.2L174.2 33.1L174.4 33.8L173.8 34L175 34.4L174.9 35.2L176.4 35.4L177 36.1L176.9 36.6L175.4 36.7L175.8 37.7L174.7 38.2L176.6 38.6L175.2 39L174.3 39.9ZM173.8 36.1L174 36.8L173.6 37.8L172.4 38L170.6 38.5L170 38.2L170.8 37.1L170.1 36.6L170.4 36L171.7 35.3L172.4 34.8L173.3 34.8L174.4 35.4L173.8 36.1ZM165.5 23.5L165.3 24.2L166.4 24.9L165.1 25.6L161.3 26.5L157.2 26.04L158.2 25.6L156 25.1L157.8 24.9L155.7 24.4L156.3 23.7L157.9 23.6L159.4 24.3L160.9 23.7L162.2 24.01L163.8 23.5L165.5 23.5ZM195.1 10.3L195.5 10L197 9.9L198.3 10.3L201.5 11.04L199 11.4L198.5 12.2L197.6 12.4L197.1 13.2L195.9 13.2L193.8 12.6L194.7 12.3L193.2 12L191.2 11.1L190.4 10.3L193.2 10L193.7 10.3L195.1 10.3ZM199.9 10.7L198 10.2L198.6 9.7L201 9.7L203 9.5L207.4 9.9L205.4 10.7L203 10.6L199.9 10.7ZM231.5 18.5L233.5 19.2L235.6 19.2L237.5 19.3L236.9 19.4L233.7 18.9L234.3 16.4L233.5 16.3L235.9 15.4L235.6 14.9L238.5 14.7L241.2 13.7L244.5 13.6L246.2 13.2L248.2 13.1L248.9 13.5L248 14L241.2 15L238.6 15.4L237 17L235.4 17.6L235.6 18.5L236.9 19.4L233.7 19.2L231.5 18.5ZM230 9.1L231.5 9.3L232 9.9L227.6 10L226.5 9.8L230 9.1ZM237 9.5L240 9L243 9.2L239 9.7L237 9.5ZM279.9 11.1L277.8 11.2L274.97 10.9L273.3 10.6L272.5 9.9L271.2 9.7L273.8 9L275.9 8.7L277.9 9.3L280.2 10.2L279.9 11.1ZM282.1 10.7L282.8 10.7L285.4 11.3L285.1 11.7L279.4 12.1L281.3 10.8L282.1 10.7ZM318.8 13.9L321.5 13.9L325.1 14.4L324.3 15.2L320.6 15.2L318.96 15.4L316.97 14.7L317.5 14.1L318.8 13.9ZM328.2 14.7L330.7 14.9L329.6 15.3L327.98 15.2L326.1 14.8L328.2 14.7ZM358.7 18.9L360 18.5L360 19.2L358.9 19.2L358.7 18.9ZM0 18.5L2.4 18.7L2.3 18.9L0.1 19.2L0 19.2ZM323.6 39.3L324.7 41.02L323.2 40.7L322.6 42.1L323.5 43.2L323.5 43.9L322.7 43.3L322.1 44.03L321.9 43.2L322 42.2L321.9 41.1L322.1 40.4L322.2 39L321.6 38.1L321.7 36.7L322.6 36.2L322.2 35.8L322.7 35.6L323.3 37.3L323.2 38.2L323.6 39.3ZM321.4 48.6L319.96 48.4L320.3 46.7L321.4 46.6L321.7 45.2L321.97 44.45L323.1 45.5L324.6 46.04L325.5 46.7L324.1 47.01L323.2 48.01L321.6 47.3L321.1 48.2L321.4 48.6ZM321.9 50.8L320.96 52.9L320.6 53.7L320.8 54.2L320.3 54.9L318.98 55.3L317.2 55.4L315.8 56.5L315.1 55.4L310.99 56L312 56.9L310.4 58.9L309.8 57.4L309.4 56.7L310.4 56.4L310.9 56.1L312.6 54.6L314.6 54.3L315.7 54.5L316.7 52.7L317.4 53.2L318.9 52.2L319.4 51.8L319.9 49.4L320.3 48.8L321.4 48.6L321.4 50L321.9 50.8ZM314.6 55.9L314.8 56.2L314.2 56.8L313.1 57.3L312.6 57L312.4 56.5L313.5 56L314.6 55.9ZM301.8 65.6L301.2 67.2L300.7 68.03L300.2 67L300.1 66.4L300.7 65.5L301.5 64.7L301.95 65L301.8 65.6ZM290.3 71.3L289.5 71.8L288.7 71.5L288.6 70.6L289.1 70.2L290.2 69.9L290.8 69.9L291 70.3L290.6 70.7L290.3 71.3ZM261.8 82.5L261.6 83.5L260.3 84.03L259.9 83.2L259.7 81.8L260.1 80.2L260.8 80.7L261.3 81.4L261.8 82.5ZM300.8 71.5L301.9 71.8L302.3 71.8L302.2 73.7L301.7 74.1L301.5 74.9L301.7 75.7L302.2 75.8L302.7 75.7L303.95 76.2L303.9 76.8L304.2 77.4L303.3 77L302.9 76.4L301.1 76.4L300.6 75.6L300.1 75.03L299.9 74.6L299.9 73.6L300.3 74L300.4 72.4L300.8 71.5ZM306.4 81.6L306.5 82.2L306.2 83.7L305.8 82.7L305.4 83.2L305.7 84L305.4 84.4L304.2 83.8L303.9 83.1L304.2 82.6L303.6 82.2L303.3 82.6L302.8 82.5L302.1 83.1L301.9 82.8L302.3 82L302.9 81.8L303.5 81.3L304.6 81.5L305 81L305.4 80.2L306.2 80.7L306.4 81.6ZM305.4 77.9L305.5 78.8L305 80L304.3 79.1L304.3 78.5L304.9 78.2L305.4 77.9ZM303.9 79.7L303 81L302.4 80.3L302.9 79.1L303.5 79.1L303.9 79.7ZM301.9 78.1L303.1 78.8L302.8 79.3L301.9 79.6L301.9 78.1ZM297.2 81.6L297.7 80.9L299.5 78.6L299.7 79.4L299 80L298.5 80.7L297.2 81.6ZM297.9 85.9L297.3 86.8L298 87.7L297.9 88.2L298.99 89.1L297.8 89.2L297.5 90.8L296.6 91.5L296.5 92.5L296.1 94L295 93.7L294.9 94.1L294.5 93.5L293.3 93.1L292.1 93.5L291.7 92.99L291 93L290.2 92.9L290.1 91.6L289.6 90.99L289.1 90.5L289 89.6L288.95 88.7L289.7 88L289.8 88.7L290.5 88.3L291.2 88.2L291.4 87.3L292.99 86.9L294.2 85.5L294.7 86L295.5 84.6L296.2 83.9L296.7 83.1L297.1 83.1L297.6 83.6L297.7 84.01L299.2 84.6L298.4 85.03L298.6 85.5L297.9 85.9ZM275.3 84.5L277.5 84.8L278.4 85.7L279.1 86.4L280.6 87.9L281.7 87.9L282.5 88.6L283.1 89.4L283.8 89.9L283.4 90.7L284 91.1L284.4 91.1L284.5 91.8L284.9 92.3L285.6 92.4L286.1 93.1L285.9 94.3L285.8 95.9L284.7 95.9L283.9 95L282.6 94.2L282.2 93.6L281.4 92.8L280.9 92.05L280.1 90.65L279.3 89.8L279 89L278.6 88.2L277.7 87.5L277.2 86.7L276.4 86.1L275.4 85.03L275.3 84.5ZM286.1 95.9L287.3 95.96L288.5 96.4L288.6 96.8L290.5 96.9L290.8 96.5L292.6 96.9L292.98 97.6L294.5 97.8L295.7 98.4L294.6 98.75L293.5 98.3L292.6 98.4L291.5 98.3L290.6 98.1L289.4 97.7L288.7 97.6L288.3 97.8L286.5 97.4L286.3 96.9L285.4 96.9L286.1 95.9ZM296 98.4L296.7 98.9L298.3 98.4L299.1 98.7L300.7 98.2L302.9 98.1L302.8 98.6L300.6 98.8L298.3 98.9L296 98.4ZM304.4 100.1L303.5 100.2L303.6 100.4L304 100.4L305.1 99.4L306.9 98.3L305.1 98.6L304.4 100.1ZM300.9 88.7L301.5 89L303.2 89.1L304.1 89.1L305.1 88.4L305.2 88.6L304.4 89.6L302.7 89.6L301.1 89.6L300.2 89.8L300.1 90.5L300.9 91.4L301.5 90.96L303.3 90.6L303.3 91.1L302.5 91.4L301.5 91.9L302.5 93.2L302.3 93.5L303.2 94.7L303.2 95.3L302.6 95.6L302.2 95.3L302.7 94.5L301.7 94.9L301.5 94.6L301.6 94.2L300.9 93.6L301 92.6L300.3 92.9L300.4 95.5L299.8 95.7L299.4 95.4L299.7 94.5L299.5 93.5L299.1 93.5L298.8 92.8L299.2 92.1L299.3 91.4L299.8 89.8L300 89.4L300.9 88.7ZM308.7 88.9L308 88.7L307.9 89.6L308.4 90.3L308 90.9L307.7 90.3L307.4 89L307.6 88.2L308.7 88.9ZM309.4 92.8L310.5 93.1L310.8 93.9L308.7 93.4L308.2 93.4L309.4 92.8ZM314.1 91.2L314.4 92.8L315.5 93.4L316.3 92.3L317.4 91.7L318.3 91.7L319.2 92.1L319.9 92.4L321 92.6L322.7 93.3L324.6 93.9L325.3 94.4L325.8 95L325.98 95.5L327.6 96.1L327.9 96.6L326.97 96.7L327.2 97.4L328.1 98L328.7 99.1L329.3 99.1L329.3 99.5L330.04 100.7L329.8 100.4L328.9 100.3L327.9 100.1L327.1 99.5L326.6 98.9L326 98.1L324.7 97.6L323.9 97.9L323.3 98.2L323.4 99L322.6 99.3L322.1 99.2L321 99.1L320.1 98.3L319.1 98.1L318.9 98.4L317.6 98.4L318 97.6L318.7 97.3L318.4 96.2L317.9 95.4L315.99 94.5L315.2 94.5L313.7 93.5L313.4 94L312.98 94.1L312.8 93.7L312 92.8L313.1 92.5L311.8 91.6L310.9 91.4L310.5 90.9L311.9 90.7L312.4 90.4L313.99 90.8L314.1 91.2ZM330 95L331.6 94.2L332.3 94.3L331 95.8L330 96.3L328.3 95.6L330 95ZM323.6 103.8L323.9 104.5L324.6 104.2L325.4 105L325.3 105.4L325.6 106.8L325.9 106.9L326.2 107.8L326.1 108.9L327.5 109.5L328.8 110.4L329.3 111.3L330.1 112.1L330.9 112.8L331.6 114.1L332.9 115.3L333.1 116.1L333.6 118.1L333.5 119L333.1 120.4L332.9 121.6L332.5 122.6L331.7 123L331.3 123.8L331 124.3L330.7 125.2L330.3 125.7L330.1 126.4L329.9 127.1L329.4 127.8L328.3 127.8L327.4 128.2L326.9 128.6L326.3 129L325.5 128.6L324.9 128.4L325 127.9L324.5 128.1L323.6 128.8L322.7 128.5L322.2 128.4L321.6 128.3L320.6 128L319.99 127.4L319.8 126.6L319.6 126.1L318.1 125.6L318.4 125.1L318.2 124.4L317.7 125.1L316.8 125.3L317.4 124.7L317.5 124.1L317.9 123.6L317.8 122.9L316.99 123.8L316.4 124.1L315.99 124.9L315.2 124.5L315.2 123.9L314.6 123.2L314.1 122.8L314.3 122.6L312.99 122L312.3 121.98L311.3 121.5L309.5 121.6L308.2 121.9L307.1 122.3L306.1 122.2L305.1 122.7L304.2 123L304 123.5L303.7 123.9L302.8 123.9L302.2 124L301.3 123.8L300.6 123.9L299.9 123.98L299.3 124.5L299 124.5L298.5 124.7L298 125.1L297.3 125L296.6 125L295.6 124.4L295 124.2L295 123.6L295.5 123.5L295.7 123.3L295.8 122.2L295.7 121.6L295.2 120.6L295 120L295 119.5L294.6 118.8L294.6 118.5L294.2 118.1L294 117.3L293.5 116.5L293.3 116.1L293.8 116.5L293.4 115.6L293.9 115.9L294.2 116.3L294.2 115.8L293.7 115L293.6 114.7L293.4 114.4L293.5 113.8L293.7 113.6L293.8 113.1L293.7 112.5L294.1 111.8L294.2 112.5L294.6 111.8L295.5 111.5L295.9 111.1L296.7 110.7L297.2 110.6L297.4 110.7L298.2 110.4L298.8 110.3L299.3 109.98L299.8 109.98L300.9 109.7L301.4 109.2L301.7 108.7L302.2 108.2L302.3 107.3L303 106.4L303.4 107.3L303.9 107.1L303.5 106.6L303.8 106.1L304.3 106.3L304.4 105.6L305.2 105L305.1 104.7L305.9 104.4L306.1 104.1L306.1 104.3L307.1 103.8L307.8 104.3L308.4 104.9L309 104.9L309.6 105L309.4 104.4L310 103.7L310.3 103.4L310.2 103.1L310.6 102.5L311.2 102.2L311.7 102.3L312.6 102.1L312.6 101.6L311.8 101.3L312.4 101.1L313 101.4L313.6 101.8L314.4 102L314.7 101.9L315.3 102.2L315.9 101.96L316.3 102L316.5 101.9L316.95 102.4L316.7 102.9L316.3 103.3L315.96 103.3L316.1 103.7L315.8 104.2L315.4 104.7L315.5 105L316.3 105.6L317.1 105.9L317.6 106.2L318.3 106.8L318.6 106.8L319.1 107.1L319.3 107.4L320.2 107.7L320.9 107.4L321.1 106.8L321.3 106.4L321.4 105.8L321.7 105L321.6 104.6L321.5 103.7L321.7 102.9L321.8 102.7L321.7 102.4L321.9 101.9L322.1 101.3L322.1 101L322.5 100.7L322.8 101.2L322.9 101.8L323.1 101.9L323.2 102.3L323.5 102.8L323.6 103.4L323.6 103.8ZM327.7 130.8L328.3 130.9L328.4 132.1L328 132.4L327.9 133.2L327.6 132.9L326.9 133.6L326.7 133.6L326 133.5L325.4 132.7L325.3 132L324.7 131.2L324.7 130.7L325.4 130.8L326.4 131.1L326.9 131L327.7 130.8ZM353 124.5L354.3 125.3L354.6 126.2L355.3 127.2L355.4 126.5L355.8 126.8L356 127.6L357.4 128L358 127.6L358.5 127.7L358.3 128.6L357.97 129.2L357.2 129.1L356.9 129.4L357 129.9L356 131.3L355.2 131.7L355.1 131.4L354.7 131.3L355.2 130.5L354.9 129.9L353.8 129.5L353.9 129.1L354.6 128.8L354.7 128L354.7 127.4L354.3 126.7L354.3 126.5L353.8 126.1L353.1 125.2L352.6 124.5L353 124.5ZM354.3 131.3L354.2 131.8L353.9 132.2L353.2 132.97L352.7 133.4L353.1 133.9L352.3 133.9L351.5 134.2L351.2 134.9L350.6 135.9L349.8 136.4L349.3 136.6L348.4 136.6L347.8 136.3L346.7 136.2L346.5 135.9L347 135.1L348.3 134.1L348.9 133.9L349.7 133.6L350.5 133L351.1 132.5L351.6 131.8L351.9 131.5L352.1 130.96L352.8 130.5L353.2 131.3L353.96 130.9L354.3 131.3ZM229.5 102.5L229.8 102.9L230.1 104L230.5 105.2L230.4 105.7L230.2 106L229.9 105.4L229.7 105.7L229.9 106.5L229.8 106.9L229.5 107.1L229.4 107.95L228.5 110.5L227.9 112.4L227.5 114L227.1 114.9L226.3 115.2L225.4 115.6L224.8 115.3L224 115L223.8 114.5L223.7 113.6L223.3 112.8L223.3 112.1L223.4 111.3L223.9 111.2L223.9 110.8L224.4 110.1L224.5 109.4L224.2 108.96L224 108.3L223.96 107.4L224.3 106.9L224.4 106.2L224.9 106.2L225.5 105.97L225.9 105.8L226.3 105.8L226.9 105.2L227.7 104.6L228 104.1L227.9 103.7L228.3 103.8L228.8 103.1L228.9 102.5L229.2 102L229.5 102.5ZM97.7 66.8L99.4 66.9L100.3 67.2L100.7 67.6L101.7 67.5L102.9 68.3L103.5 68.8L104.4 69L104.3 69.3L105.1 69.3L105.8 69.7L105.7 69.9L105.04 70.1L104.4 70.1L102.2 70.1L102.9 69.6L102.5 69.3L101.9 69.3L101.5 69L101.3 68.4L100.7 68.4L99.8 68.2L99.5 68L98.2 67.8L97.8 67.6L98.2 67.4L97.2 67.3L96.5 67.8L96.1 67.8L95.9 68.1L95.5 68.2L95.03 68.1L95.6 67.8L95.8 67.4L96.2 67.2L96.7 67.02L97.5 66.9L97.7 66.8ZM108.3 70.3L109.2 70.1L110.05 70.4L110.2 70.7L110.8 70.7L110.7 71L111.2 71.02L111.7 71.4L111.3 71.8L110.8 71.6L110.05 71.6L109.5 71.8L109 71.7L108.6 72.4L108.3 72.2L108.3 71.7L107.6 71.8L107.2 71.9L106.5 71.8L105.5 71.7L105.6 71.3L106.5 71.5L107.3 71.6L107.7 71.3L107.2 70.9L107.2 70.5L106.6 70.4L106.8 70.1L107.4 70.1L108.3 70.3ZM102.4 71.5L103.1 71.6L103.6 71.8L103.8 72.1L103.1 72.1L102.8 72.3L102.2 72.1L101.7 71.8L102.2 71.5L102.4 71.5ZM113.7 71.5L114.4 71.8L114.2 72.02L113.4 72.02L112.8 72.1L112.9 71.5L113.7 71.5ZM124.1 38.4L124.6 38.4L124 39.8L123.8 39.8L124.5 40.1L124.2 40.4L125.1 40.7L125.5 40.4L126.5 40.8L126.2 41.5L126.9 41.3L127.3 42.5L126.9 43.3L125.8 43.2L126.04 42.4L125.8 42.2L124.6 43.1L124 43L124.7 42.6L123.7 42.4L120.7 42.4L120.6 42.1L121.2 41.7L120.8 41.5L121.6 40.9L122.6 39.3L123.3 38.7L124.1 38.4ZM52.5 39.2L51.6 39.2L52.7 39.9L53.3 40.1L54.2 40.9L55.1 41.1L56.5 41.5L56 40.8L54.5 40L53.1 39.2L52.5 39.2ZM47.8 36L46.9 35.8L48 37.5L48.8 37.8L48.4 37L47.8 36ZM195.5 51.8L195.2 52.6L195.1 53.4L194.3 53L193 52.4L192.4 52L193.7 52L195.5 51.8ZM189.2 48.8L189.8 49.5L189.7 50.8L189.2 50.8L188.8 51.1L188.4 50.8L188.4 49.6L188.2 49L189.2 48.8ZM189.6 47.8L189.2 48.6L188.8 48.4L188.5 47.7L189.4 47L189.6 47.8ZM203.7 54.3L204.2 54.6L205 54.6L205.8 54.6L206.3 54.7L206.2 55L204.7 55.1L204.7 54.9L203.5 54.7L203.7 54.3ZM212.7 54.9L213 54.8L213.97 54.9L214.6 54.3L213.9 54.8L213.97 55.02L213.4 55.2L212.3 55.2L212.5 54.9L212.7 54.9ZM327.2 45.5L326 46.5L325.6 46.3L327.2 45.5ZM118.8 141.85L120.2 141.3L121.5 141.1L122.25 141.55L121.4 142.1L118.8 141.85ZM111.4 142.3L111.7 143.1L112.25 143.85L113.55 144.45L114.95 144.7L114.5 145.2L113.55 145.25L112.7 145.3L111.4 145L110 144.9L109 144.1L107.7 143.5L108.9 143.8L110.65 142.5L111.4 142.3ZM24.5 70.9L24.1 70.9L24 70.3L24.1 69.8L24.8 70.01L25.2 70.5L24.5 70.9ZM23.9 69.4L23.3 69.1L23.6 69.4L23.9 69.4ZM22.3 68.7L21.9 68.7L21.7 68.4L22.3 68.7ZM344 110.1L345.5 111.7L347.1 112.2L346.7 112.4L344.5 110.8L344 110.1ZM358.4 107.3L358.7 108.2L357.4 108.2L357.3 107.7L358.4 107.3ZM347.8 106.5L347.2 105.9L347 105.6L347.8 106.5ZM102.5 63.2L102.2 63.4L101.1 63.2L102.5 63.2ZM102.2 65.8L102 64.8L102.5 65.7L102.2 65.8ZM249 138.7L250.5 139.1L249.6 139.7L248.7 139.2L249 138.7ZM334.6 95L335.9 96.5L335.2 96.8L334.6 95ZM339.6 99.2L340.8 99.6L340.4 99.9L339.6 99.6L339.6 99.2ZM340.8 98.5L341.4 99.3L341 99.3L340.8 98.5ZM338.2 97.6L339.6 98.2L339.4 98.4L338.2 97.6ZM336.5 96.8L337.5 97.4L337.3 97.5L336.5 96.8ZM341.3 100.2L342.2 100.6L341.6 100.7L341.3 100.2ZM330.7 92.6L332 93.3L333 94.6L332.6 94.8L331.8 93.6L330.7 92.6ZM346.6 104.6L347.2 105.5L346.8 105.6L346.6 104.6ZM348.2 107.5L348.6 107.8L348.2 107.8L348.2 107.5ZM358.5 106.2L360 106.5L359.3 106.8L358.5 106.2ZM0 174.7L0.9 174.1L2.7 174.5L5.6 174.5L7.1 174.1L10.05 173.9L11.5 174.2L13 174.6L15.8 174.8L17.4 175.3L18.1 175.1L21.9 175.4L24.8 175.1L29.1 175.3L31.5 175.6L34.1 175.3L36.9 175L37.1 174.6L33.2 174.5L29.9 174.3L29.1 173.9L26.4 173.7L26.6 173.2L27.3 172.5L27.1 172L25.5 171.8L24.7 171.4L23.2 171.1L25.6 171.2L27.9 171L29.4 171.3L31.1 171L32.8 170.7L33.6 170.3L33.2 169.9L30.5 169.4L28.4 169.3L26.6 169.2L24.7 169.1L24.02 168.7L22.7 168.4L21.9 168L21.6 166.9L22.1 166.99L23.03 167.3L24.7 167.2L26.3 167.1L27.1 167.5L28.7 167.4L30 167.2L31.3 166.9L32.4 166.6L33.9 166.5L33.9 166.1L33.5 165.7L33.8 165.4L35.1 165.2L35.7 165.5L37.2 165.3L38.4 165.1L39.8 165.1L41.1 164.97L44.8 164.3L45.6 164.4L46.3 164.4L47.7 164.3L49.1 164.5L50.4 164.5L51.8 164.3L54.6 164.5L56 164.5L58.9 164.5L60.3 164.5L61.3 164.2L62.5 164L63.8 164.2L65 164.1L66.1 163.7L66.7 164L67.1 164.4L67.7 164.7L68.7 164.4L69.9 164.8L71 165.1L72.4 165.2L73.9 165.1L75.1 164.9L76.6 165L79 165.1L79.4 164.9L79.9 164.6L79.2 164.4L78.7 164.2L77.5 164.1L76.9 163.7L76.7 162.6L77.1 162.8L78.4 162.8L79.7 162.8L80.9 162.9L81.9 163.2L82.3 163.6L83.7 163.6L85 163.5L86.3 163.3L87.6 163.2L88.6 163.4L89.9 163.3L90.8 162.6L91.6 163L92.7 163.2L94 163.1L94.8 163.5L96.1 163.5L97.3 163.6L98.5 163.9L99.3 163.5L99.7 163.1L100.7 163.5L102.1 163.4L103.1 163.6L103.8 163.97L105.1 163.9L106.1 163.7L107.2 163.4L108.4 163.3L109.8 163.1L111.1 163L112.04 162.8L112.6 162.5L112.9 162.1L112.7 161.6L111.5 160.1L111.5 159.7L111.6 159.3L112.02 159L112.4 158.5L112.6 157.98L112.4 157.6L112.7 157.3L113.3 156.6L114.6 155.9L115.4 155.6L115.8 155.2L116.4 154.9L117.4 154.5L118.6 154.1L119.3 153.7L120.1 153.96L120.8 153.7L121.4 153.4L122.2 153.3L122.8 153.5L122.4 153.9L121.4 154.2L121 154.4L120.2 154.2L119.4 154.3L118.7 154.5L118 154.6L117.5 155.1L117.4 155.5L117.9 156.2L117.2 156.4L116.3 156.5L115.7 156.8L115.1 157.2L114.5 157.6L114.3 158L114.7 158.4L115.2 158.7L116.04 158.9L116.8 159.2L117.2 159.6L117.4 159.99L117.7 160.4L118.2 160.7L118.5 161.1L118.6 162L118.9 162.4L119 162.8L119.3 163.2L119.2 163.7L118.6 164.1L118.1 164.4L116.7 164.6L116.3 164.9L115.6 165.3L114.1 165.6L112.8 165.8L111.6 166L110.2 166.2L109.4 166.6L107.8 166.7L106.03 166.6L104.4 166.7L102.8 166.7L103.1 167.1L104.6 167.3L105.7 167.6L106.3 167.9L105.2 168.2L103.5 168.1L102.1 168.4L102 169.2L103.2 169.5L103.4 169.9L104.6 170.3L106.8 170.4L108.6 170.7L110 171L111.8 171.3L114.3 171.5L116.7 171.7L118.4 172L120.3 172.4L121.3 172.8L121.8 173.2L123 172.9L124.6 172.6L126.4 172.3L128.5 172L130.2 171.7L132.7 171.7L135.2 171.8L137.2 172.1L137.8 171.7L139.2 171.4L141.8 171.3L143.7 171.1L145.6 170.9L147.7 170.8L149.9 170.6L151.5 170.3L150.7 169.99L150.3 169.6L148.4 169.3L146.3 169.5L144.4 169.5L144.2 169.1L144.2 168.3L144.7 168.1L146.1 167.9L147.8 167.7L150.2 167.1L151.1 166.7L152.5 166.5L154.5 166.3L156.1 166.2L157.5 166.1L158.8 165.9L160 165.7L161.1 165.4L162.5 165.1L163.4 164.8L164.3 164.5L164.6 164.1L163.5 163.9L163.9 163.5L164.6 163.1L165.6 162.95L166.7 162.7L167.7 162.4L168.5 162L169 161.5L169.7 161.3L170.9 161.3L171.4 161.7L172.6 161.7L172.6 161.3L173.1 160.9L174.2 161L174.5 161.4L175.7 161.5L177 161.3L178.2 161.2L179.3 161.2L179.8 161.6L180.9 161.3L181.9 161.1L184.1 160.9L185.2 160.6L186.3 160.5L187.1 160.2L187.7 159.9L188.5 160.1L189.5 160L190.2 160.5L190.8 160.8L191.95 160.6L192.4 160.2L193.4 159.97L194.7 160L195.1 160.4L195.9 160L197 159.9L198.2 159.9L199.3 159.9L200.4 160L201.5 160.1L201.9 160.4L202.6 160.7L203.7 160.5L204.8 160.5L205.98 160.6L207.1 160.5L208.1 160.3L209.2 160.2L209.2 159.8L211 159.8L211.99 159.7L213.3 158.8L214.9 158.7L216.2 159.2L217.2 159.2L217.9 159.5L218.6 159.8L219.7 159.5L220 159.1L221 158.96L221.96 158.6L224.1 158.3L226.5 157.6L227.4 157.7L228.3 157.4L228.99 157.1L230.8 156.9L230.9 156.5L232.6 156.05L233.6 155.9L234.5 155.8L236.4 155.97L237.2 156.7L237.3 157L238.1 157L239.9 157.4L241.4 158L242.4 158L243.2 157.8L244.1 157.4L245 157.6L246.9 157.9L247.9 157.9L248.9 157.9L249.7 158.97L249.7 159.2L249.6 159.7L248.6 159.9L247.8 160.3L247.9 160.7L249.1 160.7L248.9 161.1L248.4 161.4L247.95 161.9L248.7 162.2L249.9 162.3L251 162.1L251.6 161.7L251.9 161.3L252.5 161L253.1 160.7L253.3 160.4L253.9 159.9L254.5 159.8L255.6 159.7L256.6 159.6L257.6 159.5L258.1 159.1L258.4 158.7L259.1 158.3L260.1 158.1L260.9 157.9L261.5 157.5L262.1 157.4L262.8 157.2L264.7 157.2L265.7 157.1L266.8 157.2L267.5 156.9L267.99 156.2L268.4 156.5L268.8 156.96L269.7 157.2L270.6 157.2L271.6 157.1L272.6 157.2L273.5 157.2L274.2 157.1L275 157.2L275.8 157.4L276.7 157.2L277.8 157.2L278.7 157.1L279.7 157.2L280.4 156.9L280.9 156.6L281.6 156.3L282.8 155.6L283.5 155.7L284.2 155.97L285.3 156.5L286.2 156.9L287.2 156.95L288.1 156.95L289.2 156.8L290.2 156.7L290.8 156.5L291.1 156.2L291.7 155.9L292.9 156.1L293.6 155.9L294.4 156.1L294.9 156.4L295.6 156.7L296.7 156.7L297.4 156.9L298.6 157.2L299.8 157.3L300.9 157.2L302.3 156.6L303.2 156.5L304.1 156.6L305.2 156.7L306.1 156.6L307 156.6L307.9 156.95L308.8 156.8L309.7 156.6L310.8 156.4L311.8 156.4L312.9 156.4L314 156.2L314.8 156.2L315 155.7L315.1 155.3L315.7 155.6L315.9 156L316.6 156.8L317.5 156.96L318.6 156.9L319.9 156.9L320.8 156.8L322.1 156.8L323.1 156.8L324.4 156.8L325.5 156.9L326.2 157.2L325.99 157.6L326.6 157.9L328.8 158.4L330.1 158.6L331.5 158.7L332.5 158.9L333.6 158.9L334.3 158.6L335.2 158.8L335.9 159.1L336.8 159.4L337.7 159.5L339.2 159.6L339.7 159.99L340.8 160.2L341.6 160.6L342.7 160.7L343.8 160.7L344.9 160.8L346.1 160.8L347.3 160.8L348.4 160.97L349.5 161.2L350.5 161.4L351.2 161.7L351.1 162.1L350.6 162.4L350.1 162.9L349.8 163.2L349.3 163.7L347.97 163.8L347.4 164.2L346.1 164.4L345.6 164.8L344.96 165.1L344.2 165.5L343.8 165.9L343.6 166.2L343.5 167.1L344.1 167.5L344.3 167.8L344.7 168.2L346.6 168.3L347 168.75L345.2 168.9L343.7 169.1L341.8 169.2L340.9 169.7L340.7 170.2L340.3 170.6L339.8 170.95L341.1 171.3L341.6 171.7L342.5 172.1L343.7 172.4L346.6 173L348.9 173.3L349.4 173.8L352.3 174.04L353.2 174.4L355.99 174.2L358.3 174.5L360 174.7" fill="none" stroke="#000" stroke-width="0.6" vector-effect="non-scaling-stroke" stroke-linejoin="round"/></g></defs>
<text x="247" y="10.1" font-size="7.18" text-anchor="middle" textLength="120" lengthAdjust="spacingAndGlyphs">Change in net primary productivity</text>
<clipPath id="cp0"><use href="#landpath" transform="translate(19.84 23.67) scale(0.583333 0.592889)"/></clipPath>
<g clip-path="url(#cp0)"><path d="M27.7 35.88L34 34.9L45.2 35.32L53.6 35.6L59.2 37L66.2 39.52L73.2 41.9L80.2 44L85.8 44.28L90 44L95.6 44L98.4 46.1L97 48.9L92.8 49.6L85.8 50.3L81.6 50.3L76 48.9L70.4 47.5L64.8 45.4L59.2 44L55 43.3L50.1 42.6L45.2 41.2L39.6 40.5L34 40.08L29.8 39.8L27.7 38.4Z" fill="url(#pm)"/><path d="M68.84 49.67L73.34 50.27L78.34 50.07L79.84 52.87L76.84 57.07L69.34 57.07Z" fill="url(#hx)"/><path d="M93.62 35.32L95.3 35.88L95.3 37.28L93.9 37Z" fill="#f5cbe4"/><path d="M127.5 40.5L131 37L136.6 35.32L142.2 34.9L145 36.3L149.2 37L154.8 36.3L159 36.72L159 41.2L153.4 41.48L147.8 41.2L143.6 40.5L139.4 39.8L136.6 40.5L133.8 42.6L131 43.3L128.2 42.6Z" fill="url(#pm)"/><path d="M143.6 36.3L147.8 36.72L148.5 38.12L144.3 37.84Z" fill="#efb3d6"/><path d="M159 37L167.4 35.6L180 31.4L194 30.7L208 31.4L217.8 32.8L226.2 33.5L231.8 33.5L231.8 36.58L222 38.4L215 39.8L206.6 44L203.8 46.8L198.2 48.9L187 48.9L180 46.8L174.4 45.4L173 42.6L167.4 41.2L159 41.62Z" fill="url(#pm)"/><path d="M180 32.8L194 32.1L208 32.8L222 34.2L222 37L212.2 38.4L201 38.4L187 37.7L180 36.3Z" fill="url(#p2m)"/><path d="M171.6 57.3L175.8 55.9L187 55.2L185.6 58L180 59.68L173 59.4Z" fill="#efb3d6"/><path d="M172.3 57.3L175.8 56.6L182.1 56.6L181.4 58.7L174.4 59.12Z" fill="url(#hx)"/><path d="M171.6 62.9L177.2 62.2L187 61.5L191.2 63.6L184.2 65L174.4 65Z" fill="url(#gs)"/><path d="M78.4 75.8L84 71.6L91 72.3L98 74.4L99.4 81.4L96.6 87L91 89.8L85.4 88.4L81.2 84.2L79.1 80Z" fill="url(#gm)"/><path d="M81.2 79.3L85.4 78.6L88.9 80.7L88.2 84.2L84 84.9L81.9 82.8Z" fill="#a8d774"/><path d="M89.6 75.8L93.8 76.5L95.9 80L92.4 82.8L89.6 80Z" fill="#d5eeb7"/><path d="M86.8 72.3L91 73L90.3 75.1L87.5 74.4Z" fill="#d5eeb7"/><path d="M79.8 73L84 72.72L84 74.12L80.08 74.4Z" fill="#f5cbe4"/><path d="M93.1 85.6L98 84.9L99.4 88.4L96.6 90.92L93.52 89.8Z" fill="url(#hx)"/><path d="M131.2 73.3L138.2 72.88L143.8 73.58L143.8 74.84L131.2 74.84Z" fill="#f5cbe4"/><path d="M132.6 74.84L141 74.84L141 78.2L133.3 78.9Z" fill="url(#hx)"/><path d="M135.4 80.3L142.4 79.6L147.3 81L148 88L144.5 93.6L139.6 95L136.1 92.2L134 86.6Z" fill="url(#gs)"/><path d="M171.8 61.4L180.2 60L190 60L190 64.2L181.6 64.9L173.2 64.2Z" fill="url(#gs)"/></g>
<path d="M54.84 23.67V130.39M89.84 23.67V130.39M124.84 23.67V130.39M159.84 23.67V130.39M194.84 23.67V130.39M19.84 41.46H229.84M19.84 53.31H229.84M19.84 65.17H229.84M19.84 77.03H229.84M19.84 88.89H229.84M19.84 100.75H229.84M19.84 112.6H229.84M19.84 124.46H229.84" stroke="#b0b0b0" stroke-width="0.45" fill="none"/>
<use href="#coast" transform="translate(19.84 23.67) scale(0.583333 0.592889)"/>
<path d="M19.84 130.5V131.7M54.84 130.5V131.7M89.84 130.5V131.7M124.84 130.5V131.7M159.84 130.5V131.7M194.84 130.5V131.7M229.84 130.5V131.7M18.8 41.46H20M18.8 53.31H20M18.8 65.17H20M18.8 77.03H20M18.8 88.89H20M18.8 100.75H20M18.8 112.6H20M18.8 124.46H20" stroke="#000" stroke-width="0.4"/>
<rect x="20" y="23.5" width="209.55" height="107" fill="none" stroke="#000" stroke-width="0.36"/>
<text x="17.14" y="43.36" font-size="5.4" text-anchor="end" textLength="12.96" lengthAdjust="spacingAndGlyphs">60°N</text>
<text x="17.14" y="55.21" font-size="5.4" text-anchor="end" textLength="12.96" lengthAdjust="spacingAndGlyphs">40°N</text>
<text x="17.14" y="67.07" font-size="5.4" text-anchor="end" textLength="12.96" lengthAdjust="spacingAndGlyphs">20°N</text>
<text x="17.14" y="78.93" font-size="5.4" text-anchor="end" textLength="5.84" lengthAdjust="spacingAndGlyphs">0°</text>
<text x="17.14" y="90.79" font-size="5.4" text-anchor="end" textLength="12.37" lengthAdjust="spacingAndGlyphs">20°S</text>
<text x="17.14" y="102.65" font-size="5.4" text-anchor="end" textLength="12.37" lengthAdjust="spacingAndGlyphs">40°S</text>
<text x="17.14" y="114.5" font-size="5.4" text-anchor="end" textLength="12.37" lengthAdjust="spacingAndGlyphs">60°S</text>
<text x="17.14" y="126.36" font-size="5.4" text-anchor="end" textLength="12.37" lengthAdjust="spacingAndGlyphs">80°S</text>
<text x="19.84" y="137.3" font-size="5.4" text-anchor="middle" textLength="12.38" lengthAdjust="spacingAndGlyphs">180°</text>
<text x="54.84" y="137.3" font-size="5.4" text-anchor="middle" textLength="17.46" lengthAdjust="spacingAndGlyphs">120°W</text>
<text x="89.84" y="137.3" font-size="5.4" text-anchor="middle" textLength="14.19" lengthAdjust="spacingAndGlyphs">60°W</text>
<text x="124.84" y="137.3" font-size="5.4" text-anchor="middle" textLength="5.84" lengthAdjust="spacingAndGlyphs">0°</text>
<text x="159.84" y="137.3" font-size="5.4" text-anchor="middle" textLength="12.36" lengthAdjust="spacingAndGlyphs">60°E</text>
<text x="194.84" y="137.3" font-size="5.4" text-anchor="middle" textLength="15.63" lengthAdjust="spacingAndGlyphs">120°E</text>
<text x="229.84" y="137.3" font-size="5.4" text-anchor="middle" textLength="12.38" lengthAdjust="spacingAndGlyphs">180°</text>
<text x="61.08" y="20.9" font-size="6.44" textLength="104.38" lengthAdjust="spacingAndGlyphs">CESM2-WACCM - (3.72e-05 kgC m</text><text x="165.46" y="18.88" font-size="4.51" textLength="6.33" lengthAdjust="spacingAndGlyphs">−2</text><text x="173.74" y="20.9" font-size="6.44" textLength="6.15" lengthAdjust="spacingAndGlyphs">yr</text><text x="179.88" y="18.88" font-size="4.51" textLength="6.33" lengthAdjust="spacingAndGlyphs">−1</text><text x="186.21" y="20.9" font-size="6.44" textLength="2.39" lengthAdjust="spacingAndGlyphs">)</text>
<text x="23.94" y="21.6" font-size="6.44" text-anchor="start" textLength="3.76" lengthAdjust="spacingAndGlyphs">a</text>
<path d="M16.65 147L25.95 141.5L26.55 141.5L26.55 152.5L25.95 152.5Z" fill="#8e0152"/>
<path d="M232.55 147L223.25 141.5L222.65 141.5L222.65 152.5L223.25 152.5Z" fill="#498e20"/>
<rect x="25.95" y="141.5" width="20.33" height="11" fill="#c2197a"/>
<rect x="45.68" y="141.5" width="20.33" height="11" fill="#d966a6"/>
<rect x="65.41" y="141.5" width="20.33" height="11" fill="#eca4cf"/>
<rect x="85.14" y="141.5" width="20.33" height="11" fill="#f9d1e7"/>
<rect x="104.87" y="141.5" width="40.06" height="11" fill="#ffffff"/>
<rect x="144.33" y="141.5" width="20.33" height="11" fill="#eff6e8"/>
<rect x="164.06" y="141.5" width="20.33" height="11" fill="#d5eeb7"/>
<rect x="183.79" y="141.5" width="20.33" height="11" fill="#a8d774"/>
<rect x="203.52" y="141.5" width="19.73" height="11" fill="#76b53c"/>
<path d="M25.95 141.5L223.25 141.5L232.55 147L223.25 152.5L25.95 152.5L16.65 147Z" fill="none" stroke="#000" stroke-width="0.32"/>
<path d="M25.95 152.5V154.1M45.68 152.5V154.1M65.41 152.5V154.1M85.14 152.5V154.1M104.87 152.5V154.1M144.33 152.5V154.1M164.06 152.5V154.1M183.79 152.5V154.1M203.52 152.5V154.1M223.25 152.5V154.1" stroke="#555" stroke-width="0.5"/>
<text x="25.95" y="159.1" font-size="5.4" text-anchor="middle" textLength="12.48" lengthAdjust="spacingAndGlyphs">−0.5</text>
<text x="45.68" y="159.1" font-size="5.4" text-anchor="middle" textLength="12.48" lengthAdjust="spacingAndGlyphs">−0.4</text>
<text x="65.41" y="159.1" font-size="5.4" text-anchor="middle" textLength="12.48" lengthAdjust="spacingAndGlyphs">−0.3</text>
<text x="85.14" y="159.1" font-size="5.4" text-anchor="middle" textLength="12.48" lengthAdjust="spacingAndGlyphs">−0.2</text>
<text x="104.87" y="159.1" font-size="5.4" text-anchor="middle" textLength="12.48" lengthAdjust="spacingAndGlyphs">−0.1</text>
<text x="144.33" y="159.1" font-size="5.4" text-anchor="middle" textLength="8.17" lengthAdjust="spacingAndGlyphs">0.1</text>
<text x="164.06" y="159.1" font-size="5.4" text-anchor="middle" textLength="8.17" lengthAdjust="spacingAndGlyphs">0.2</text>
<text x="183.79" y="159.1" font-size="5.4" text-anchor="middle" textLength="8.17" lengthAdjust="spacingAndGlyphs">0.3</text>
<text x="203.52" y="159.1" font-size="5.4" text-anchor="middle" textLength="8.17" lengthAdjust="spacingAndGlyphs">0.4</text>
<text x="223.25" y="159.1" font-size="5.4" text-anchor="middle" textLength="8.17" lengthAdjust="spacingAndGlyphs">0.5</text>
<text x="59.76" y="167.3" font-size="5.4" textLength="110.28" lengthAdjust="spacingAndGlyphs">Change in net primary productivity (kgC m</text><text x="170.04" y="165.6" font-size="3.78" textLength="5.3" lengthAdjust="spacingAndGlyphs">−2</text><text x="176.98" y="167.3" font-size="5.4" textLength="5.16" lengthAdjust="spacingAndGlyphs">yr</text><text x="182.13" y="165.6" font-size="3.78" textLength="5.3" lengthAdjust="spacingAndGlyphs">−1</text><text x="187.44" y="167.3" font-size="5.4" textLength="2.01" lengthAdjust="spacingAndGlyphs">)</text>
<clipPath id="cp1"><use href="#landpath" transform="translate(279.44 23.67) scale(0.583333 0.592889)"/></clipPath>
<g clip-path="url(#cp1)"><path d="M328.44 49.67L332.94 50.27L337.94 50.07L339.44 52.87L336.44 57.07L328.94 57.07Z" fill="url(#hx)"/><path d="M317.8 58.7L322 59.4L326.2 62.2L327.6 65L324.1 65L320.6 62.2Z" fill="#eef6e4"/><path d="M326.2 65.7L331.8 66.4L336 69.2L333.2 70.6L328.3 68.5Z" fill="#eef6e4"/><path d="M407.8 40.08L411.3 39.52L413.68 40.5L413.12 42.6L409.2 42.88Z" fill="#f5cbe4"/><path d="M349 45.4L352.5 46.1L353.48 48.2L350.4 49.32L349 48.9Z" fill="#f5cbe4"/><path d="M423.2 43.3L430.2 42.32L435.8 42.88L435.1 45.12L427.4 45.4Z" fill="url(#gs)"/><path d="M432.3 56.6L440 55.48L444.9 56.6L444.2 59.12L435.8 59.68Z" fill="#f5cbe4"/><path d="M432.3 57.3L435.8 56.04L442.1 56.04L442.8 58.28L434.4 58.84Z" fill="url(#hx)"/><path d="M440 58L447 56.6L455.4 57.3L456.8 62.9L452.6 66.4L445.6 65.7L441.4 62.9Z" fill="url(#gs)"/><path d="M338.4 75.8L342.6 72.3L349.6 72.3L358 76.5L362.2 81.4L359.4 88.4L353.8 95.4L349.6 99.6L345.4 100.3L344 94L343.3 87L340.5 82.8L338.4 79.3Z" fill="url(#gm)"/><path d="M341.2 77.2L348.2 75.8L351 78.6L349.6 84.2L344 84.2L341.9 81.4Z" fill="#d5eeb7"/><path d="M345.4 93.3L349.6 91.9L351 95.4L347.5 97.5Z" fill="#d5eeb7"/><path d="M352.4 84.9L358 84.2L359.68 88.4L357.3 92.6L353.1 91.2Z" fill="url(#hx)"/><path d="M391.9 74.7L401 74.7L401 78.2L393.3 78.9Z" fill="url(#hx)"/><path d="M392.6 83.1L399.6 81.7L406.6 83.8L407.3 88L404.5 93.6L401 96.68L396.1 97.1L393.3 92.2L391.9 86.6Z" fill="url(#gm)"/><path d="M396.8 87.3L404.5 87.3L404.92 90.1L403.1 94.3L398.2 94.72L396.52 90.8Z" fill="#d5eeb7"/><path d="M398.9 91.08L402.4 90.52L403.1 93.32L399.6 94.3Z" fill="#a8d774"/><path d="M467.1 88L472 88.7L474.8 92.9L473.4 97.1L469.2 98.08L467.52 93.6Z" fill="#eef6e4"/><path d="M441.2 60.7L449.6 60L451 65.6L446.8 68.4L442.6 66.3Z" fill="url(#gs)"/></g>
<path d="M314.44 23.67V130.39M349.44 23.67V130.39M384.44 23.67V130.39M419.44 23.67V130.39M454.44 23.67V130.39M279.44 41.46H489.44M279.44 53.31H489.44M279.44 65.17H489.44M279.44 77.03H489.44M279.44 88.89H489.44M279.44 100.75H489.44M279.44 112.6H489.44M279.44 124.46H489.44" stroke="#b0b0b0" stroke-width="0.45" fill="none"/>
<use href="#coast" transform="translate(279.44 23.67) scale(0.583333 0.592889)"/>
<path d="M279.44 130.5V131.7M314.44 130.5V131.7M349.44 130.5V131.7M384.44 130.5V131.7M419.44 130.5V131.7M454.44 130.5V131.7M489.44 130.5V131.7M278.3 41.46H279.5M278.3 53.31H279.5M278.3 65.17H279.5M278.3 77.03H279.5M278.3 88.89H279.5M278.3 100.75H279.5M278.3 112.6H279.5M278.3 124.46H279.5" stroke="#000" stroke-width="0.4"/>
<rect x="279.5" y="23.5" width="210" height="107" fill="none" stroke="#000" stroke-width="0.36"/>
<text x="276.74" y="43.36" font-size="5.4" text-anchor="end" textLength="12.96" lengthAdjust="spacingAndGlyphs">60°N</text>
<text x="276.74" y="55.21" font-size="5.4" text-anchor="end" textLength="12.96" lengthAdjust="spacingAndGlyphs">40°N</text>
<text x="276.74" y="67.07" font-size="5.4" text-anchor="end" textLength="12.96" lengthAdjust="spacingAndGlyphs">20°N</text>
<text x="276.74" y="78.93" font-size="5.4" text-anchor="end" textLength="5.84" lengthAdjust="spacingAndGlyphs">0°</text>
<text x="276.74" y="90.79" font-size="5.4" text-anchor="end" textLength="12.37" lengthAdjust="spacingAndGlyphs">20°S</text>
<text x="276.74" y="102.65" font-size="5.4" text-anchor="end" textLength="12.37" lengthAdjust="spacingAndGlyphs">40°S</text>
<text x="276.74" y="114.5" font-size="5.4" text-anchor="end" textLength="12.37" lengthAdjust="spacingAndGlyphs">60°S</text>
<text x="276.74" y="126.36" font-size="5.4" text-anchor="end" textLength="12.37" lengthAdjust="spacingAndGlyphs">80°S</text>
<text x="279.44" y="137.3" font-size="5.4" text-anchor="middle" textLength="12.38" lengthAdjust="spacingAndGlyphs">180°</text>
<text x="314.44" y="137.3" font-size="5.4" text-anchor="middle" textLength="17.46" lengthAdjust="spacingAndGlyphs">120°W</text>
<text x="349.44" y="137.3" font-size="5.4" text-anchor="middle" textLength="14.19" lengthAdjust="spacingAndGlyphs">60°W</text>
<text x="384.44" y="137.3" font-size="5.4" text-anchor="middle" textLength="5.84" lengthAdjust="spacingAndGlyphs">0°</text>
<text x="419.44" y="137.3" font-size="5.4" text-anchor="middle" textLength="12.36" lengthAdjust="spacingAndGlyphs">60°E</text>
<text x="454.44" y="137.3" font-size="5.4" text-anchor="middle" textLength="15.63" lengthAdjust="spacingAndGlyphs">120°E</text>
<text x="489.44" y="137.3" font-size="5.4" text-anchor="middle" textLength="12.38" lengthAdjust="spacingAndGlyphs">180°</text>
<text x="325.25" y="20.9" font-size="6.44" textLength="95.23" lengthAdjust="spacingAndGlyphs">CNRM-ESM2-1 - (0.0264 kgC m</text><text x="420.49" y="18.88" font-size="4.51" textLength="6.33" lengthAdjust="spacingAndGlyphs">−2</text><text x="428.76" y="20.9" font-size="6.44" textLength="6.15" lengthAdjust="spacingAndGlyphs">yr</text><text x="434.91" y="18.88" font-size="4.51" textLength="6.33" lengthAdjust="spacingAndGlyphs">−1</text><text x="441.23" y="20.9" font-size="6.44" textLength="2.39" lengthAdjust="spacingAndGlyphs">)</text>
<text x="283.54" y="21.6" font-size="6.44" text-anchor="start" textLength="3.89" lengthAdjust="spacingAndGlyphs">b</text>
<path d="M276.25 147L285.55 141.5L286.15 141.5L286.15 152.5L285.55 152.5Z" fill="#8e0152"/>
<path d="M492.15 147L482.85 141.5L482.25 141.5L482.25 152.5L482.85 152.5Z" fill="#498e20"/>
<rect x="285.55" y="141.5" width="20.33" height="11" fill="#c2197a"/>
<rect x="305.28" y="141.5" width="20.33" height="11" fill="#d966a6"/>
<rect x="325.01" y="141.5" width="20.33" height="11" fill="#eca4cf"/>
<rect x="344.74" y="141.5" width="20.33" height="11" fill="#f9d1e7"/>
<rect x="364.47" y="141.5" width="40.06" height="11" fill="#ffffff"/>
<rect x="403.93" y="141.5" width="20.33" height="11" fill="#eff6e8"/>
<rect x="423.66" y="141.5" width="20.33" height="11" fill="#d5eeb7"/>
<rect x="443.39" y="141.5" width="20.33" height="11" fill="#a8d774"/>
<rect x="463.12" y="141.5" width="19.73" height="11" fill="#76b53c"/>
<path d="M285.55 141.5L482.85 141.5L492.15 147L482.85 152.5L285.55 152.5L276.25 147Z" fill="none" stroke="#000" stroke-width="0.32"/>
<path d="M285.55 152.5V154.1M305.28 152.5V154.1M325.01 152.5V154.1M344.74 152.5V154.1M364.47 152.5V154.1M403.93 152.5V154.1M423.66 152.5V154.1M443.39 152.5V154.1M463.12 152.5V154.1M482.85 152.5V154.1" stroke="#555" stroke-width="0.5"/>
<text x="285.55" y="159.1" font-size="5.4" text-anchor="middle" textLength="12.48" lengthAdjust="spacingAndGlyphs">−0.5</text>
<text x="305.28" y="159.1" font-size="5.4" text-anchor="middle" textLength="12.48" lengthAdjust="spacingAndGlyphs">−0.4</text>
<text x="325.01" y="159.1" font-size="5.4" text-anchor="middle" textLength="12.48" lengthAdjust="spacingAndGlyphs">−0.3</text>
<text x="344.74" y="159.1" font-size="5.4" text-anchor="middle" textLength="12.48" lengthAdjust="spacingAndGlyphs">−0.2</text>
<text x="364.47" y="159.1" font-size="5.4" text-anchor="middle" textLength="12.48" lengthAdjust="spacingAndGlyphs">−0.1</text>
<text x="403.93" y="159.1" font-size="5.4" text-anchor="middle" textLength="8.17" lengthAdjust="spacingAndGlyphs">0.1</text>
<text x="423.66" y="159.1" font-size="5.4" text-anchor="middle" textLength="8.17" lengthAdjust="spacingAndGlyphs">0.2</text>
<text x="443.39" y="159.1" font-size="5.4" text-anchor="middle" textLength="8.17" lengthAdjust="spacingAndGlyphs">0.3</text>
<text x="463.12" y="159.1" font-size="5.4" text-anchor="middle" textLength="8.17" lengthAdjust="spacingAndGlyphs">0.4</text>
<text x="482.85" y="159.1" font-size="5.4" text-anchor="middle" textLength="8.17" lengthAdjust="spacingAndGlyphs">0.5</text>
<text x="319.36" y="167.3" font-size="5.4" textLength="110.28" lengthAdjust="spacingAndGlyphs">Change in net primary productivity (kgC m</text><text x="429.64" y="165.6" font-size="3.78" textLength="5.3" lengthAdjust="spacingAndGlyphs">−2</text><text x="436.58" y="167.3" font-size="5.4" textLength="5.16" lengthAdjust="spacingAndGlyphs">yr</text><text x="441.73" y="165.6" font-size="3.78" textLength="5.3" lengthAdjust="spacingAndGlyphs">−1</text><text x="447.04" y="167.3" font-size="5.4" textLength="2.01" lengthAdjust="spacingAndGlyphs">)</text>
<clipPath id="cp2"><use href="#landpath" transform="translate(19.84 190.67) scale(0.583333 0.592889)"/></clipPath>
<g clip-path="url(#cp2)"><path d="M28.4 201.2L36.8 201.2L45.2 202.32L51.5 204.56L53.32 207.92L57.52 210.44L56.68 213.38L52.2 212.4L49.4 210.44L43.8 208.76L38.2 208.2L33.3 208.76L28.68 206.8Z" fill="url(#pm)"/><path d="M52.2 199.52L62 199.24L62 201.48L53.6 201.48Z" fill="#f5cbe4"/><path d="M81.6 208.9L88.6 208.48L90 211L83 211.28Z" fill="#f5cbe4"/><path d="M68.84 216.67L73.34 217.27L78.34 217.07L79.84 219.87L76.84 224.07L69.34 224.07Z" fill="#efb3d6"/><path d="M68.84 216.67L73.34 217.27L78.34 217.07L79.84 219.87L76.84 224.07L69.34 224.07Z" fill="url(#hx)"/><path d="M64.1 224.72L66.9 224.02L68.72 226.12L67.32 228.08L64.52 227.1Z" fill="#a8d774"/><path d="M71.8 232L74.88 232.28L75.72 235.08L73.2 235.64Z" fill="#a8d774"/><path d="M80.2 237.6L85.8 236.9L90 237.6L90 243.2L84.4 242.92L80.9 240.4Z" fill="#a8d774"/><path d="M131 202.32L138 201.48L142.9 202.32L139.4 204.28L132.4 205.4Z" fill="#f5cbe4"/><path d="M139.4 235.08L145 234.24L148.5 235.5L147.8 237.6L140.8 237.6Z" fill="#f5cbe4"/><path d="M140.8 237.6L147.8 236.2L153.4 238.3L153.68 243.2L149.2 244.6L143.6 243.9L141.5 241.1Z" fill="#efb3d6"/><path d="M144.3 239L149.2 238.3L151.3 241.1L149.2 243.9L145.7 242.92Z" fill="#de77ae"/><path d="M146.4 240.12L149.2 239.84L149.9 242.5L147.1 242.92Z" fill="#c2197a"/><path d="M131 241.1L140.8 241.1L140.8 245.02L131 245.02Z" fill="url(#hx)"/><path d="M174.4 201.9L184.2 200.92L194 201.9L192.6 205.4L182.8 206.1L175.8 205.12Z" fill="url(#ps)"/><path d="M196.8 201.9L205.2 202.32L212.2 204L210.8 206.8L202.4 206.52L198.2 204.7Z" fill="url(#ps)"/><path d="M159 202.32L163.2 202.6L163.2 204.28L159 204.28Z" fill="#f5cbe4"/><path d="M217.8 205.12L226.2 205.68L225.92 207.5L218.5 207.5Z" fill="#f5cbe4"/><path d="M185.6 220.1L192.6 219.4L195.68 221.5L196.1 227.1L192.6 228.92L187.7 227.8L186.3 223.6Z" fill="#f5cbe4"/><path d="M187 224.72L194 224.3L194.7 227.8L189.1 228.08Z" fill="#efb3d6"/><path d="M172.3 223.32L180 222.48L185.6 224.3L184.9 228.08L177.2 228.5L173 226.68Z" fill="url(#ps)"/><path d="M172.3 223.6L176.5 222.62L182.8 223.04L183.08 225.28L174.4 225.84Z" fill="url(#hx)"/><path d="M165.3 227.1L171.6 226.68L174.4 228.08L173 230.18L166 230.18Z" fill="#f5cbe4"/><path d="M85.4 241.4L92.4 240.7L100.8 246.3L102.2 252.6L98 261L92.4 264.5L86.8 263.1L85.4 255.4L84.7 248.4Z" fill="url(#gm)"/><path d="M81.2 237.2L86.8 236.5L93.8 239.3L98 243.5L95.9 244.9L91 242.1L85.4 240.7L81.9 240Z" fill="#a8d774"/><path d="M94.5 251.9L101.5 251.2L102.48 256.1L98.7 257.08L95.2 256.1Z" fill="#a8d774"/><path d="M93.8 251.2L98.7 250.92L99.4 255.4L95.2 256.1Z" fill="url(#hx)"/><path d="M86.8 256.1L91.7 255.68L92.4 260.3L88.2 260.72Z" fill="#a8d774"/><path d="M88.2 244.2L93.8 244.9L94.5 250.5L89.6 251.2Z" fill="#d5eeb7"/><path d="M134 238.2L141 237.5L153.6 238.2L153.6 245.2L148 249.4L139.6 249.4L134 246.6Z" fill="#f5cbe4"/><path d="M141 238.2L152.2 238.2L153.6 241L150.1 245.2L144.5 245.2L141 243.1Z" fill="#efb3d6"/><path d="M143.8 238.9L150.8 238.9L151.5 241.7L148.7 244.08L144.92 243.52Z" fill="#de77ae"/><path d="M146.32 240.02L149.68 239.88L149.82 243.1L146.88 243.24Z" fill="#c2197a"/><path d="M145.9 245.2L148 244.92L148.28 248.7L146.32 248.84Z" fill="#de77ae"/><path d="M139.6 234.7L146.6 234.28L146.88 237.08L139.88 237.5Z" fill="#f5cbe4"/><path d="M132.6 241.7L141 241.7L141 245.48L133.3 245.9Z" fill="url(#hx)"/><path d="M136.1 250.8L143.8 250.52L144.92 258.92L138.9 258.92L136.52 255Z" fill="url(#gs)"/><path d="M134 256.68L137.08 256.68L137.08 259.48L134 259.2Z" fill="#f5cbe4"/><path d="M164.8 227.7L171.8 227.7L171.8 230.5L165.08 230.5Z" fill="#f5cbe4"/><path d="M193.1 256.4L203.6 255.7L212 256.12L214.1 260.6L212 265.5L206.4 265.5L198 264.1L193.1 262Z" fill="url(#gm)"/><path d="M206.68 259.48L212 258.92L212.7 263.68L207.8 264.8Z" fill="#d5eeb7"/></g>
<path d="M54.84 190.67V297.39M89.84 190.67V297.39M124.84 190.67V297.39M159.84 190.67V297.39M194.84 190.67V297.39M19.84 208.46H229.84M19.84 220.31H229.84M19.84 232.17H229.84M19.84 244.03H229.84M19.84 255.89H229.84M19.84 267.75H229.84M19.84 279.6H229.84M19.84 291.46H229.84" stroke="#b0b0b0" stroke-width="0.45" fill="none"/>
<use href="#coast" transform="translate(19.84 190.67) scale(0.583333 0.592889)"/>
<path d="M19.84 297.5V298.7M54.84 297.5V298.7M89.84 297.5V298.7M124.84 297.5V298.7M159.84 297.5V298.7M194.84 297.5V298.7M229.84 297.5V298.7M18.8 208.46H20M18.8 220.31H20M18.8 232.17H20M18.8 244.03H20M18.8 255.89H20M18.8 267.75H20M18.8 279.6H20M18.8 291.46H20" stroke="#000" stroke-width="0.4"/>
<rect x="20" y="190.5" width="209.55" height="107" fill="none" stroke="#000" stroke-width="0.36"/>
<text x="17.14" y="210.36" font-size="5.4" text-anchor="end" textLength="12.96" lengthAdjust="spacingAndGlyphs">60°N</text>
<text x="17.14" y="222.21" font-size="5.4" text-anchor="end" textLength="12.96" lengthAdjust="spacingAndGlyphs">40°N</text>
<text x="17.14" y="234.07" font-size="5.4" text-anchor="end" textLength="12.96" lengthAdjust="spacingAndGlyphs">20°N</text>
<text x="17.14" y="245.93" font-size="5.4" text-anchor="end" textLength="5.84" lengthAdjust="spacingAndGlyphs">0°</text>
<text x="17.14" y="257.79" font-size="5.4" text-anchor="end" textLength="12.37" lengthAdjust="spacingAndGlyphs">20°S</text>
<text x="17.14" y="269.65" font-size="5.4" text-anchor="end" textLength="12.37" lengthAdjust="spacingAndGlyphs">40°S</text>
<text x="17.14" y="281.5" font-size="5.4" text-anchor="end" textLength="12.37" lengthAdjust="spacingAndGlyphs">60°S</text>
<text x="17.14" y="293.36" font-size="5.4" text-anchor="end" textLength="12.37" lengthAdjust="spacingAndGlyphs">80°S</text>
<text x="19.84" y="304.3" font-size="5.4" text-anchor="middle" textLength="12.38" lengthAdjust="spacingAndGlyphs">180°</text>
<text x="54.84" y="304.3" font-size="5.4" text-anchor="middle" textLength="17.46" lengthAdjust="spacingAndGlyphs">120°W</text>
<text x="89.84" y="304.3" font-size="5.4" text-anchor="middle" textLength="14.19" lengthAdjust="spacingAndGlyphs">60°W</text>
<text x="124.84" y="304.3" font-size="5.4" text-anchor="middle" textLength="5.84" lengthAdjust="spacingAndGlyphs">0°</text>
<text x="159.84" y="304.3" font-size="5.4" text-anchor="middle" textLength="12.36" lengthAdjust="spacingAndGlyphs">60°E</text>
<text x="194.84" y="304.3" font-size="5.4" text-anchor="middle" textLength="15.63" lengthAdjust="spacingAndGlyphs">120°E</text>
<text x="229.84" y="304.3" font-size="5.4" text-anchor="middle" textLength="12.38" lengthAdjust="spacingAndGlyphs">180°</text>
<text x="65.23" y="187.9" font-size="6.44" textLength="96.08" lengthAdjust="spacingAndGlyphs">IPSL-CM6A-LR - (-0.0032 kgC m</text><text x="161.31" y="185.88" font-size="4.51" textLength="6.33" lengthAdjust="spacingAndGlyphs">−2</text><text x="169.59" y="187.9" font-size="6.44" textLength="6.15" lengthAdjust="spacingAndGlyphs">yr</text><text x="175.73" y="185.88" font-size="4.51" textLength="6.33" lengthAdjust="spacingAndGlyphs">−1</text><text x="182.06" y="187.9" font-size="6.44" textLength="2.39" lengthAdjust="spacingAndGlyphs">)</text>
<text x="23.94" y="188.6" font-size="6.44" text-anchor="start" textLength="3.37" lengthAdjust="spacingAndGlyphs">c</text>
<path d="M16.65 314L25.95 308.5L26.55 308.5L26.55 319.5L25.95 319.5Z" fill="#8e0152"/>
<path d="M232.55 314L223.25 308.5L222.65 308.5L222.65 319.5L223.25 319.5Z" fill="#498e20"/>
<rect x="25.95" y="308.5" width="20.33" height="11" fill="#c2197a"/>
<rect x="45.68" y="308.5" width="20.33" height="11" fill="#d966a6"/>
<rect x="65.41" y="308.5" width="20.33" height="11" fill="#eca4cf"/>
<rect x="85.14" y="308.5" width="20.33" height="11" fill="#f9d1e7"/>
<rect x="104.87" y="308.5" width="40.06" height="11" fill="#ffffff"/>
<rect x="144.33" y="308.5" width="20.33" height="11" fill="#eff6e8"/>
<rect x="164.06" y="308.5" width="20.33" height="11" fill="#d5eeb7"/>
<rect x="183.79" y="308.5" width="20.33" height="11" fill="#a8d774"/>
<rect x="203.52" y="308.5" width="19.73" height="11" fill="#76b53c"/>
<path d="M25.95 308.5L223.25 308.5L232.55 314L223.25 319.5L25.95 319.5L16.65 314Z" fill="none" stroke="#000" stroke-width="0.32"/>
<path d="M25.95 319.5V321.1M45.68 319.5V321.1M65.41 319.5V321.1M85.14 319.5V321.1M104.87 319.5V321.1M144.33 319.5V321.1M164.06 319.5V321.1M183.79 319.5V321.1M203.52 319.5V321.1M223.25 319.5V321.1" stroke="#555" stroke-width="0.5"/>
<text x="25.95" y="326.1" font-size="5.4" text-anchor="middle" textLength="12.48" lengthAdjust="spacingAndGlyphs">−0.5</text>
<text x="45.68" y="326.1" font-size="5.4" text-anchor="middle" textLength="12.48" lengthAdjust="spacingAndGlyphs">−0.4</text>
<text x="65.41" y="326.1" font-size="5.4" text-anchor="middle" textLength="12.48" lengthAdjust="spacingAndGlyphs">−0.3</text>
<text x="85.14" y="326.1" font-size="5.4" text-anchor="middle" textLength="12.48" lengthAdjust="spacingAndGlyphs">−0.2</text>
<text x="104.87" y="326.1" font-size="5.4" text-anchor="middle" textLength="12.48" lengthAdjust="spacingAndGlyphs">−0.1</text>
<text x="144.33" y="326.1" font-size="5.4" text-anchor="middle" textLength="8.17" lengthAdjust="spacingAndGlyphs">0.1</text>
<text x="164.06" y="326.1" font-size="5.4" text-anchor="middle" textLength="8.17" lengthAdjust="spacingAndGlyphs">0.2</text>
<text x="183.79" y="326.1" font-size="5.4" text-anchor="middle" textLength="8.17" lengthAdjust="spacingAndGlyphs">0.3</text>
<text x="203.52" y="326.1" font-size="5.4" text-anchor="middle" textLength="8.17" lengthAdjust="spacingAndGlyphs">0.4</text>
<text x="223.25" y="326.1" font-size="5.4" text-anchor="middle" textLength="8.17" lengthAdjust="spacingAndGlyphs">0.5</text>
<text x="59.76" y="334.3" font-size="5.4" textLength="110.28" lengthAdjust="spacingAndGlyphs">Change in net primary productivity (kgC m</text><text x="170.04" y="332.6" font-size="3.78" textLength="5.3" lengthAdjust="spacingAndGlyphs">−2</text><text x="176.98" y="334.3" font-size="5.4" textLength="5.16" lengthAdjust="spacingAndGlyphs">yr</text><text x="182.13" y="332.6" font-size="3.78" textLength="5.3" lengthAdjust="spacingAndGlyphs">−1</text><text x="187.44" y="334.3" font-size="5.4" textLength="2.01" lengthAdjust="spacingAndGlyphs">)</text>
<clipPath id="cp3"><use href="#landpath" transform="translate(279.44 190.67) scale(0.583333 0.592889)"/></clipPath>
<g clip-path="url(#cp3)"><path d="M288.4 201.9L299.6 201.76L313.6 202.88L320.6 205.12L322 208.48L310.8 208.9L303.8 207.92L296.8 207.92L289.1 207.08Z" fill="url(#ps)"/><path d="M313.6 211.7L322 211.7L327.6 214.5L326.9 219.4L320.6 219.4L314.3 217.3Z" fill="url(#ps)"/><path d="M333.2 204L341.6 204L342.3 213.8L333.9 213.8Z" fill="url(#ps)"/><path d="M323.4 219.4L327.6 218.7L330.12 222.2L329 226.68L324.8 225.7Z" fill="#efb3d6"/><path d="M328.44 216.67L332.94 217.27L337.94 217.07L339.44 219.87L336.44 224.07L328.94 224.07Z" fill="url(#hx)"/><path d="M386.8 235.5L395.2 235.08L395.48 238.3L387.08 238.3Z" fill="#eef6e4"/><path d="M391 241.1L400.8 241.1L400.8 245.02L391 245.02Z" fill="url(#hx)"/><path d="M431.6 223.32L440 222.48L446.3 223.6L445.6 227.1L435.8 227.52Z" fill="url(#ps)"/><path d="M432.3 223.88L436.5 222.76L442.8 223.04L443.08 225.28L434.4 225.7Z" fill="url(#hx)"/><path d="M424.6 225.28L430.2 224.72L430.48 228.92L425.3 229.2Z" fill="#eef6e4"/><path d="M447 215.2L450.08 214.92L450.08 218L447 218Z" fill="#eef6e4"/><path d="M337 242.52L346.8 243.08L355.2 246.58L355.9 251.2L353.1 256.1L348.9 256.52L345.4 253.3L341.9 249.1L337.7 247.7Z" fill="url(#pm)"/><path d="M346.8 247L354.08 247.7L354.64 250.92L352.4 254L349.32 253.44L347.08 250.5Z" fill="url(#p2m)"/><path d="M353.1 250.78L358 250.5L359.68 254L357.3 257.92L353.52 256.8Z" fill="url(#hx)"/><path d="M341.2 237.9L348.2 236.92L353.8 240.28L356.88 244.2L354.5 246.58L349.6 245.88L346.52 243.08L342.88 241.4Z" fill="#a8d774"/><path d="M344.7 238.6L349.6 238.32L353.1 241.4L352.4 244.48L348.2 243.92L345.4 241.4Z" fill="#76b53c"/><path d="M342.88 241.4L346.1 241.12L346.52 243.64L343.3 243.92Z" fill="#c2197a"/><path d="M346.1 253.72L349.88 253.72L349.88 257.08L346.52 257.08Z" fill="#eef6e4"/><path d="M393.3 237.92L402.4 236.8L409.4 238.9L409.4 245.2L405.2 249.4L398.2 250.1L394 246.6Z" fill="url(#ps)"/><path d="M395.4 238.48L401 237.92L405.48 239.88L404.92 242.68L401 243.52L396.52 241.7Z" fill="#de77ae"/><path d="M398.2 239.18L402.68 239.04L403.52 241.84L399.32 242.4Z" fill="#c2197a"/><path d="M398.9 245.62L403.52 245.62L403.52 248.98L399.32 248.98Z" fill="#efb3d6"/><path d="M391.9 241L401 241L401 245.48L393.3 245.9Z" fill="url(#hx)"/><path d="M388.4 235.4L392.32 235.4L392.32 237.92L388.4 237.92Z" fill="#d5eeb7"/><path d="M392.32 243.52L397.08 243.52L397.08 246.32L392.6 246.32Z" fill="#d5eeb7"/><path d="M407.72 240.72L410.52 240.72L410.52 242.68L407.72 242.68Z" fill="#efb3d6"/><path d="M452.4 254.3L463.6 253.32L472 255.7L473.68 260.6L472 265.5L466.4 265.5L458 264.1L452.68 262Z" fill="url(#gm)"/><path d="M468.92 258.92L472.7 258.92L472.7 264.1L469.2 264.52Z" fill="#d5eeb7"/></g>
<path d="M314.44 190.67V297.39M349.44 190.67V297.39M384.44 190.67V297.39M419.44 190.67V297.39M454.44 190.67V297.39M279.44 208.46H489.44M279.44 220.31H489.44M279.44 232.17H489.44M279.44 244.03H489.44M279.44 255.89H489.44M279.44 267.75H489.44M279.44 279.6H489.44M279.44 291.46H489.44" stroke="#b0b0b0" stroke-width="0.45" fill="none"/>
<use href="#coast" transform="translate(279.44 190.67) scale(0.583333 0.592889)"/>
<path d="M279.44 297.5V298.7M314.44 297.5V298.7M349.44 297.5V298.7M384.44 297.5V298.7M419.44 297.5V298.7M454.44 297.5V298.7M489.44 297.5V298.7M278.3 208.46H279.5M278.3 220.31H279.5M278.3 232.17H279.5M278.3 244.03H279.5M278.3 255.89H279.5M278.3 267.75H279.5M278.3 279.6H279.5M278.3 291.46H279.5" stroke="#000" stroke-width="0.4"/>
<rect x="279.5" y="190.5" width="210" height="107" fill="none" stroke="#000" stroke-width="0.36"/>
<text x="276.74" y="210.36" font-size="5.4" text-anchor="end" textLength="12.96" lengthAdjust="spacingAndGlyphs">60°N</text>
<text x="276.74" y="222.21" font-size="5.4" text-anchor="end" textLength="12.96" lengthAdjust="spacingAndGlyphs">40°N</text>
<text x="276.74" y="234.07" font-size="5.4" text-anchor="end" textLength="12.96" lengthAdjust="spacingAndGlyphs">20°N</text>
<text x="276.74" y="245.93" font-size="5.4" text-anchor="end" textLength="5.84" lengthAdjust="spacingAndGlyphs">0°</text>
<text x="276.74" y="257.79" font-size="5.4" text-anchor="end" textLength="12.37" lengthAdjust="spacingAndGlyphs">20°S</text>
<text x="276.74" y="269.65" font-size="5.4" text-anchor="end" textLength="12.37" lengthAdjust="spacingAndGlyphs">40°S</text>
<text x="276.74" y="281.5" font-size="5.4" text-anchor="end" textLength="12.37" lengthAdjust="spacingAndGlyphs">60°S</text>
<text x="276.74" y="293.36" font-size="5.4" text-anchor="end" textLength="12.37" lengthAdjust="spacingAndGlyphs">80°S</text>
<text x="279.44" y="304.3" font-size="5.4" text-anchor="middle" textLength="12.38" lengthAdjust="spacingAndGlyphs">180°</text>
<text x="314.44" y="304.3" font-size="5.4" text-anchor="middle" textLength="17.46" lengthAdjust="spacingAndGlyphs">120°W</text>
<text x="349.44" y="304.3" font-size="5.4" text-anchor="middle" textLength="14.19" lengthAdjust="spacingAndGlyphs">60°W</text>
<text x="384.44" y="304.3" font-size="5.4" text-anchor="middle" textLength="5.84" lengthAdjust="spacingAndGlyphs">0°</text>
<text x="419.44" y="304.3" font-size="5.4" text-anchor="middle" textLength="12.36" lengthAdjust="spacingAndGlyphs">60°E</text>
<text x="454.44" y="304.3" font-size="5.4" text-anchor="middle" textLength="15.63" lengthAdjust="spacingAndGlyphs">120°E</text>
<text x="489.44" y="304.3" font-size="5.4" text-anchor="middle" textLength="12.38" lengthAdjust="spacingAndGlyphs">180°</text>
<text x="321.07" y="187.9" font-size="6.44" textLength="103.61" lengthAdjust="spacingAndGlyphs">MPI-ESM1-2-LR - (-0.00312 kgC m</text><text x="424.67" y="185.88" font-size="4.51" textLength="6.33" lengthAdjust="spacingAndGlyphs">−2</text><text x="432.95" y="187.9" font-size="6.44" textLength="6.15" lengthAdjust="spacingAndGlyphs">yr</text><text x="439.1" y="185.88" font-size="4.51" textLength="6.33" lengthAdjust="spacingAndGlyphs">−1</text><text x="445.42" y="187.9" font-size="6.44" textLength="2.39" lengthAdjust="spacingAndGlyphs">)</text>
<text x="283.54" y="188.6" font-size="6.44" text-anchor="start" textLength="3.89" lengthAdjust="spacingAndGlyphs">d</text>
<path d="M276.25 314L285.55 308.5L286.15 308.5L286.15 319.5L285.55 319.5Z" fill="#8e0152"/>
<path d="M492.15 314L482.85 308.5L482.25 308.5L482.25 319.5L482.85 319.5Z" fill="#498e20"/>
<rect x="285.55" y="308.5" width="20.33" height="11" fill="#c2197a"/>
<rect x="305.28" y="308.5" width="20.33" height="11" fill="#d966a6"/>
<rect x="325.01" y="308.5" width="20.33" height="11" fill="#eca4cf"/>
<rect x="344.74" y="308.5" width="20.33" height="11" fill="#f9d1e7"/>
<rect x="364.47" y="308.5" width="40.06" height="11" fill="#ffffff"/>
<rect x="403.93" y="308.5" width="20.33" height="11" fill="#eff6e8"/>
<rect x="423.66" y="308.5" width="20.33" height="11" fill="#d5eeb7"/>
<rect x="443.39" y="308.5" width="20.33" height="11" fill="#a8d774"/>
<rect x="463.12" y="308.5" width="19.73" height="11" fill="#76b53c"/>
<path d="M285.55 308.5L482.85 308.5L492.15 314L482.85 319.5L285.55 319.5L276.25 314Z" fill="none" stroke="#000" stroke-width="0.32"/>
<path d="M285.55 319.5V321.1M305.28 319.5V321.1M325.01 319.5V321.1M344.74 319.5V321.1M364.47 319.5V321.1M403.93 319.5V321.1M423.66 319.5V321.1M443.39 319.5V321.1M463.12 319.5V321.1M482.85 319.5V321.1" stroke="#555" stroke-width="0.5"/>
<text x="285.55" y="326.1" font-size="5.4" text-anchor="middle" textLength="12.48" lengthAdjust="spacingAndGlyphs">−0.5</text>
<text x="305.28" y="326.1" font-size="5.4" text-anchor="middle" textLength="12.48" lengthAdjust="spacingAndGlyphs">−0.4</text>
<text x="325.01" y="326.1" font-size="5.4" text-anchor="middle" textLength="12.48" lengthAdjust="spacingAndGlyphs">−0.3</text>
<text x="344.74" y="326.1" font-size="5.4" text-anchor="middle" textLength="12.48" lengthAdjust="spacingAndGlyphs">−0.2</text>
<text x="364.47" y="326.1" font-size="5.4" text-anchor="middle" textLength="12.48" lengthAdjust="spacingAndGlyphs">−0.1</text>
<text x="403.93" y="326.1" font-size="5.4" text-anchor="middle" textLength="8.17" lengthAdjust="spacingAndGlyphs">0.1</text>
<text x="423.66" y="326.1" font-size="5.4" text-anchor="middle" textLength="8.17" lengthAdjust="spacingAndGlyphs">0.2</text>
<text x="443.39" y="326.1" font-size="5.4" text-anchor="middle" textLength="8.17" lengthAdjust="spacingAndGlyphs">0.3</text>
<text x="463.12" y="326.1" font-size="5.4" text-anchor="middle" textLength="8.17" lengthAdjust="spacingAndGlyphs">0.4</text>
<text x="482.85" y="326.1" font-size="5.4" text-anchor="middle" textLength="8.17" lengthAdjust="spacingAndGlyphs">0.5</text>
<text x="319.36" y="334.3" font-size="5.4" textLength="110.28" lengthAdjust="spacingAndGlyphs">Change in net primary productivity (kgC m</text><text x="429.64" y="332.6" font-size="3.78" textLength="5.3" lengthAdjust="spacingAndGlyphs">−2</text><text x="436.58" y="334.3" font-size="5.4" textLength="5.16" lengthAdjust="spacingAndGlyphs">yr</text><text x="441.73" y="332.6" font-size="3.78" textLength="5.3" lengthAdjust="spacingAndGlyphs">−1</text><text x="447.04" y="334.3" font-size="5.4" textLength="2.01" lengthAdjust="spacingAndGlyphs">)</text>
<clipPath id="cp4"><use href="#landpath" transform="translate(19.84 357.67) scale(0.583333 0.592889)"/></clipPath>
<g clip-path="url(#cp4)"><path d="M28.4 372.4L42.4 372.68L42.4 374.92L28.4 375.2Z" fill="#f5cbe4"/><path d="M47.3 370.3L52.48 370.72L52.2 375.9L47.72 375.48Z" fill="#f5cbe4"/><path d="M53.6 373.8L60.6 373.8L60.6 375.2L53.6 375.2Z" fill="#f5cbe4"/><path d="M72.5 373.8L81.6 373.1L90 373.8L90 379.4L81.6 380.1L73.2 379.68Z" fill="url(#pm)"/><path d="M63.4 380.8L67.6 380.8L67.6 385L63.68 385Z" fill="#f5cbe4"/><path d="M53.6 375.9L59.2 375.9L59.2 379.4L53.88 379.4Z" fill="#eef6e4"/><path d="M68.84 383.67L73.34 384.27L78.34 384.07L79.84 386.87L76.84 391.07L69.34 391.07Z" fill="url(#hx)"/><path d="M70.4 399L76 399.7L76.28 403.2L72.08 402.92Z" fill="#a8d774"/><path d="M128.2 371L135.2 368.9L143.6 368.48L145.7 370.3L142.2 372.4L136.6 374.5L131 375.2Z" fill="#f5cbe4"/><path d="M135.2 369.6L143.6 369.32L143.88 371.56L135.9 371.56Z" fill="#efb3d6"/><path d="M154.8 378L159 377.72L159 379.4L154.8 379.68Z" fill="#f5cbe4"/><path d="M116.72 403.2L122.6 402.92L123.3 405.3L117.7 405.44Z" fill="#76b53c"/><path d="M122.6 405.02L142.2 405.02L142.2 406.84L122.6 406.84Z" fill="#eef6e4"/><path d="M198.2 369.6L206.6 369.32L206.6 371.7L198.48 371.84Z" fill="url(#ps)"/><path d="M192.6 379.12L201 378L201.7 382.9L193.3 383.32Z" fill="#efb3d6"/><path d="M162.5 383.6L171.6 382.9L171.88 389.48L164.6 390.32L162.5 387.8Z" fill="#efb3d6"/><path d="M161.8 374.5L167.4 374.5L167.4 375.9L161.8 375.9Z" fill="#f5cbe4"/><path d="M175.8 378.28L183.5 378.28L183.5 380.1L175.8 380.1Z" fill="#f5cbe4"/><path d="M172.3 388.5L180 388.08L185.6 389.48L184.9 393.68L174.4 393.68Z" fill="#efb3d6"/><path d="M172.3 389.48L177.2 388.5L183.5 389.2L183.92 392L174.4 392.28Z" fill="url(#hx)"/><path d="M187 389.48L191.9 388.5L194.7 390.6L194.28 395.5L189.1 395.5L187 392.7Z" fill="#efb3d6"/><path d="M187.7 392.7L192.32 392.28L192.6 395.08L188.4 395.08Z" fill="#de77ae"/><path d="M171.6 396.2L178.6 395.5L178.88 398.72L172.3 399Z" fill="#a8d774"/><path d="M181.4 396.9L189.8 396.62L190.5 400.4L187 403.2L182.8 401.8Z" fill="#a8d774"/><path d="M81.54 404.24L88.96 403.18L97.44 407.42L102.74 412.72L102.1 419.08L97.44 422.9L91.08 423.74L85.78 421.2L82.6 414.84L80.48 409.54Z" fill="url(#g3m)"/><path d="M87.9 410.6L93.2 410.18L95.32 414.84L91.08 418.02L87.26 415.26Z" fill="#d5eeb7"/><path d="M78.36 405.3L80.69 404.66L81.54 408.48L81.33 416.96L80.48 418.66L79 413.14Z" fill="#c2197a"/><path d="M92.14 425.02L97.02 420.78L101.26 420.35L100.41 422.9L95.32 426.29L91.5 427.14Z" fill="#c2197a"/><path d="M93.2 419.5L98.5 418.66L99.98 421.2L95.32 422.9Z" fill="url(#hx)"/><path d="M82.18 422.9L93.2 423.74L92.14 431.8L83.66 431.8Z" fill="url(#ps)"/><path d="M127.7 406.32L134 406.88L141 407.72L147.72 409.12L148.28 412.48L141 413.32L134 412.48L130.92 409.68Z" fill="#efb3d6"/><path d="M133.3 408L143.1 408.7L146.6 409.68L145.9 411.92L141 412.48L134 411.92Z" fill="#c2197a"/><path d="M133.3 409.4L141 409.4L141 412.2L133.72 412.2Z" fill="url(#hx)"/><path d="M145.2 403.8L147.3 403.8L147.3 406.6L145.2 406.6Z" fill="#c2197a"/><path d="M135.4 413.6L141 414.72L148 416.12L148.28 422L145.2 425.08L141 425.08L137.08 420.32Z" fill="#d5eeb7"/><path d="M138.9 417.8L147.3 417.52L147.72 422.7L141 424.1Z" fill="#a8d774"/><path d="M141 425.92L143.8 425.92L143.8 428.44L141 428.44Z" fill="#c2197a"/><path d="M120 403.1L123.5 403.1L123.5 405.48L120 405.48Z" fill="#a8d774"/><path d="M171.8 395.4L178.8 395.12L178.8 399.32L172.08 399.6Z" fill="#a8d774"/><path d="M181.6 396.8L190 396.1L190 404.5L184.4 405.2L181.88 401Z" fill="#a8d774"/><path d="M210.92 422.9L215.16 424.59L214.74 429.68L211.34 433.92L208.38 433.92L208.8 429.68Z" fill="url(#g3m)"/><path d="M182.6 396.8L189.6 396.52L189.6 402.4L183.3 402.4Z" fill="#a8d774"/><path d="M170 396.8L178.4 396.52L178.4 401L170 401Z" fill="#d5eeb7"/></g>
<path d="M54.84 357.67V464.39M89.84 357.67V464.39M124.84 357.67V464.39M159.84 357.67V464.39M194.84 357.67V464.39M19.84 375.46H229.84M19.84 387.31H229.84M19.84 399.17H229.84M19.84 411.03H229.84M19.84 422.89H229.84M19.84 434.75H229.84M19.84 446.6H229.84M19.84 458.46H229.84" stroke="#b0b0b0" stroke-width="0.45" fill="none"/>
<use href="#coast" transform="translate(19.84 357.67) scale(0.583333 0.592889)"/>
<path d="M19.84 464.5V465.7M54.84 464.5V465.7M89.84 464.5V465.7M124.84 464.5V465.7M159.84 464.5V465.7M194.84 464.5V465.7M229.84 464.5V465.7M18.8 375.46H20M18.8 387.31H20M18.8 399.17H20M18.8 411.03H20M18.8 422.89H20M18.8 434.75H20M18.8 446.6H20M18.8 458.46H20" stroke="#000" stroke-width="0.4"/>
<rect x="20" y="357.5" width="209.55" height="107" fill="none" stroke="#000" stroke-width="0.36"/>
<text x="17.14" y="377.36" font-size="5.4" text-anchor="end" textLength="12.96" lengthAdjust="spacingAndGlyphs">60°N</text>
<text x="17.14" y="389.21" font-size="5.4" text-anchor="end" textLength="12.96" lengthAdjust="spacingAndGlyphs">40°N</text>
<text x="17.14" y="401.07" font-size="5.4" text-anchor="end" textLength="12.96" lengthAdjust="spacingAndGlyphs">20°N</text>
<text x="17.14" y="412.93" font-size="5.4" text-anchor="end" textLength="5.84" lengthAdjust="spacingAndGlyphs">0°</text>
<text x="17.14" y="424.79" font-size="5.4" text-anchor="end" textLength="12.37" lengthAdjust="spacingAndGlyphs">20°S</text>
<text x="17.14" y="436.65" font-size="5.4" text-anchor="end" textLength="12.37" lengthAdjust="spacingAndGlyphs">40°S</text>
<text x="17.14" y="448.5" font-size="5.4" text-anchor="end" textLength="12.37" lengthAdjust="spacingAndGlyphs">60°S</text>
<text x="17.14" y="460.36" font-size="5.4" text-anchor="end" textLength="12.37" lengthAdjust="spacingAndGlyphs">80°S</text>
<text x="19.84" y="471.3" font-size="5.4" text-anchor="middle" textLength="12.38" lengthAdjust="spacingAndGlyphs">180°</text>
<text x="54.84" y="471.3" font-size="5.4" text-anchor="middle" textLength="17.46" lengthAdjust="spacingAndGlyphs">120°W</text>
<text x="89.84" y="471.3" font-size="5.4" text-anchor="middle" textLength="14.19" lengthAdjust="spacingAndGlyphs">60°W</text>
<text x="124.84" y="471.3" font-size="5.4" text-anchor="middle" textLength="5.84" lengthAdjust="spacingAndGlyphs">0°</text>
<text x="159.84" y="471.3" font-size="5.4" text-anchor="middle" textLength="12.36" lengthAdjust="spacingAndGlyphs">60°E</text>
<text x="194.84" y="471.3" font-size="5.4" text-anchor="middle" textLength="15.63" lengthAdjust="spacingAndGlyphs">120°E</text>
<text x="229.84" y="471.3" font-size="5.4" text-anchor="middle" textLength="12.38" lengthAdjust="spacingAndGlyphs">180°</text>
<text x="67.19" y="354.9" font-size="6.44" textLength="92.15" lengthAdjust="spacingAndGlyphs">UKESM1-0-LL - (0.0133 kgC m</text><text x="159.35" y="352.88" font-size="4.51" textLength="6.33" lengthAdjust="spacingAndGlyphs">−2</text><text x="167.62" y="354.9" font-size="6.44" textLength="6.15" lengthAdjust="spacingAndGlyphs">yr</text><text x="173.77" y="352.88" font-size="4.51" textLength="6.33" lengthAdjust="spacingAndGlyphs">−1</text><text x="180.1" y="354.9" font-size="6.44" textLength="2.39" lengthAdjust="spacingAndGlyphs">)</text>
<text x="23.94" y="355.6" font-size="6.44" text-anchor="start" textLength="3.77" lengthAdjust="spacingAndGlyphs">e</text>
<path d="M16.65 481L25.95 475.5L26.55 475.5L26.55 486.5L25.95 486.5Z" fill="#8e0152"/>
<path d="M232.55 481L223.25 475.5L222.65 475.5L222.65 486.5L223.25 486.5Z" fill="#498e20"/>
<rect x="25.95" y="475.5" width="20.33" height="11" fill="#c2197a"/>
<rect x="45.68" y="475.5" width="20.33" height="11" fill="#d966a6"/>
<rect x="65.41" y="475.5" width="20.33" height="11" fill="#eca4cf"/>
<rect x="85.14" y="475.5" width="20.33" height="11" fill="#f9d1e7"/>
<rect x="104.87" y="475.5" width="40.06" height="11" fill="#ffffff"/>
<rect x="144.33" y="475.5" width="20.33" height="11" fill="#eff6e8"/>
<rect x="164.06" y="475.5" width="20.33" height="11" fill="#d5eeb7"/>
<rect x="183.79" y="475.5" width="20.33" height="11" fill="#a8d774"/>
<rect x="203.52" y="475.5" width="19.73" height="11" fill="#76b53c"/>
<path d="M25.95 475.5L223.25 475.5L232.55 481L223.25 486.5L25.95 486.5L16.65 481Z" fill="none" stroke="#000" stroke-width="0.32"/>
<path d="M25.95 486.5V488.1M45.68 486.5V488.1M65.41 486.5V488.1M85.14 486.5V488.1M104.87 486.5V488.1M144.33 486.5V488.1M164.06 486.5V488.1M183.79 486.5V488.1M203.52 486.5V488.1M223.25 486.5V488.1" stroke="#555" stroke-width="0.5"/>
<text x="25.95" y="493.1" font-size="5.4" text-anchor="middle" textLength="12.48" lengthAdjust="spacingAndGlyphs">−0.5</text>
<text x="45.68" y="493.1" font-size="5.4" text-anchor="middle" textLength="12.48" lengthAdjust="spacingAndGlyphs">−0.4</text>
<text x="65.41" y="493.1" font-size="5.4" text-anchor="middle" textLength="12.48" lengthAdjust="spacingAndGlyphs">−0.3</text>
<text x="85.14" y="493.1" font-size="5.4" text-anchor="middle" textLength="12.48" lengthAdjust="spacingAndGlyphs">−0.2</text>
<text x="104.87" y="493.1" font-size="5.4" text-anchor="middle" textLength="12.48" lengthAdjust="spacingAndGlyphs">−0.1</text>
<text x="144.33" y="493.1" font-size="5.4" text-anchor="middle" textLength="8.17" lengthAdjust="spacingAndGlyphs">0.1</text>
<text x="164.06" y="493.1" font-size="5.4" text-anchor="middle" textLength="8.17" lengthAdjust="spacingAndGlyphs">0.2</text>
<text x="183.79" y="493.1" font-size="5.4" text-anchor="middle" textLength="8.17" lengthAdjust="spacingAndGlyphs">0.3</text>
<text x="203.52" y="493.1" font-size="5.4" text-anchor="middle" textLength="8.17" lengthAdjust="spacingAndGlyphs">0.4</text>
<text x="223.25" y="493.1" font-size="5.4" text-anchor="middle" textLength="8.17" lengthAdjust="spacingAndGlyphs">0.5</text>
<text x="59.76" y="501.3" font-size="5.4" textLength="110.28" lengthAdjust="spacingAndGlyphs">Change in net primary productivity (kgC m</text><text x="170.04" y="499.6" font-size="3.78" textLength="5.3" lengthAdjust="spacingAndGlyphs">−2</text><text x="176.98" y="501.3" font-size="5.4" textLength="5.16" lengthAdjust="spacingAndGlyphs">yr</text><text x="182.13" y="499.6" font-size="3.78" textLength="5.3" lengthAdjust="spacingAndGlyphs">−1</text><text x="187.44" y="501.3" font-size="5.4" textLength="2.01" lengthAdjust="spacingAndGlyphs">)</text>
<clipPath id="cp5"><use href="#landpath" transform="translate(279.44 357.67) scale(0.583333 0.592889)"/></clipPath>
<g clip-path="url(#cp5)"><path d="M288.4 368.2L301 368.2L309.4 369.88L310.52 375.9L306.6 375.48L301 374.08L294 375.2L288.68 374.08Z" fill="url(#pm)"/><path d="M333.2 378L341.6 377.72L350 378L350 380.1L341.6 380.1L333.9 379.4Z" fill="#f5cbe4"/><path d="M328.44 383.67L332.94 384.27L337.94 384.07L339.44 386.87L336.44 391.07L328.94 391.07Z" fill="url(#hx)"/><path d="M330.4 399.7L336 400.12L336.28 403.2L332.08 402.92Z" fill="#eef6e4"/><path d="M389.6 372.4L395.2 372.12L395.2 376.6L389.88 376.6Z" fill="#f5cbe4"/><path d="M377 403.2L382.6 402.92L382.88 405.3L377.28 405.44Z" fill="#eef6e4"/><path d="M398 405.3L407.8 404.6L410.88 406.7L409.2 410.9L399.4 410.9Z" fill="#f5cbe4"/><path d="M391 408.1L400.8 408.1L400.8 412.02L391 412.02Z" fill="url(#hx)"/><path d="M349 378L351.8 378L351.8 380.8L349 380.8Z" fill="#f5cbe4"/><path d="M432.3 389.48L440 388.92L445.6 390.6L444.9 393.68L435.8 393.68Z" fill="url(#ps)"/><path d="M432.3 390.6L436.5 389.48L442.8 389.76L443.08 392L434.4 392.42Z" fill="url(#hx)"/><path d="M430.2 396.2L437.2 395.92L437.2 398.3L430.2 398.3Z" fill="#eef6e4"/><path d="M339.8 407L344 404.2L351 404.9L358 409.8L360.1 415.4L357.3 421L352.4 423.8L348.2 423.1L344 418.2L340.5 412.6Z" fill="url(#gm)"/><path d="M345.4 404.9L352.4 405.32L353.1 409.8L346.8 410.08Z" fill="#d5eeb7"/><path d="M337.7 407L340.5 406.72L340.92 411.2L338.12 411.48Z" fill="#f5cbe4"/><path d="M352 419L357 417L359.5 420L356 424L351 424Z" fill="url(#hx)"/><path d="M398.2 405.9L408 405.48L412.48 407.3L411.5 411.5L405.2 411.92L399.6 410.1Z" fill="#f5cbe4"/><path d="M391.9 408L401 408L401 412.48L393.3 412.9Z" fill="url(#hx)"/><path d="M395.4 416.4L403.8 416.12L408 418.5L406.6 423.4L402.4 426.2L397.5 423.4Z" fill="url(#gm)"/><path d="M426.2 396.8L433.2 396.52L433.2 399.6L426.48 399.88Z" fill="#eef6e4"/><path d="M466.68 424.1L472 423.68L473.68 428.3L470.6 432.08L467.52 431.1Z" fill="#eef6e4"/></g>
<path d="M314.44 357.67V464.39M349.44 357.67V464.39M384.44 357.67V464.39M419.44 357.67V464.39M454.44 357.67V464.39M279.44 375.46H489.44M279.44 387.31H489.44M279.44 399.17H489.44M279.44 411.03H489.44M279.44 422.89H489.44M279.44 434.75H489.44M279.44 446.6H489.44M279.44 458.46H489.44" stroke="#b0b0b0" stroke-width="0.45" fill="none"/>
<use href="#coast" transform="translate(279.44 357.67) scale(0.583333 0.592889)"/>
<path d="M279.44 464.5V465.7M314.44 464.5V465.7M349.44 464.5V465.7M384.44 464.5V465.7M419.44 464.5V465.7M454.44 464.5V465.7M489.44 464.5V465.7M278.3 375.46H279.5M278.3 387.31H279.5M278.3 399.17H279.5M278.3 411.03H279.5M278.3 422.89H279.5M278.3 434.75H279.5M278.3 446.6H279.5M278.3 458.46H279.5" stroke="#000" stroke-width="0.4"/>
<rect x="279.5" y="357.5" width="210" height="107" fill="none" stroke="#000" stroke-width="0.36"/>
<text x="276.74" y="377.36" font-size="5.4" text-anchor="end" textLength="12.96" lengthAdjust="spacingAndGlyphs">60°N</text>
<text x="276.74" y="389.21" font-size="5.4" text-anchor="end" textLength="12.96" lengthAdjust="spacingAndGlyphs">40°N</text>
<text x="276.74" y="401.07" font-size="5.4" text-anchor="end" textLength="12.96" lengthAdjust="spacingAndGlyphs">20°N</text>
<text x="276.74" y="412.93" font-size="5.4" text-anchor="end" textLength="5.84" lengthAdjust="spacingAndGlyphs">0°</text>
<text x="276.74" y="424.79" font-size="5.4" text-anchor="end" textLength="12.37" lengthAdjust="spacingAndGlyphs">20°S</text>
<text x="276.74" y="436.65" font-size="5.4" text-anchor="end" textLength="12.37" lengthAdjust="spacingAndGlyphs">40°S</text>
<text x="276.74" y="448.5" font-size="5.4" text-anchor="end" textLength="12.37" lengthAdjust="spacingAndGlyphs">60°S</text>
<text x="276.74" y="460.36" font-size="5.4" text-anchor="end" textLength="12.37" lengthAdjust="spacingAndGlyphs">80°S</text>
<text x="279.44" y="471.3" font-size="5.4" text-anchor="middle" textLength="12.38" lengthAdjust="spacingAndGlyphs">180°</text>
<text x="314.44" y="471.3" font-size="5.4" text-anchor="middle" textLength="17.46" lengthAdjust="spacingAndGlyphs">120°W</text>
<text x="349.44" y="471.3" font-size="5.4" text-anchor="middle" textLength="14.19" lengthAdjust="spacingAndGlyphs">60°W</text>
<text x="384.44" y="471.3" font-size="5.4" text-anchor="middle" textLength="5.84" lengthAdjust="spacingAndGlyphs">0°</text>
<text x="419.44" y="471.3" font-size="5.4" text-anchor="middle" textLength="12.36" lengthAdjust="spacingAndGlyphs">60°E</text>
<text x="454.44" y="471.3" font-size="5.4" text-anchor="middle" textLength="15.63" lengthAdjust="spacingAndGlyphs">120°E</text>
<text x="489.44" y="471.3" font-size="5.4" text-anchor="middle" textLength="12.38" lengthAdjust="spacingAndGlyphs">180°</text>
<text x="320.45" y="354.9" font-size="6.44" textLength="104.83" lengthAdjust="spacingAndGlyphs">Ensemble mean - (0.00668 kgC m</text><text x="425.29" y="352.88" font-size="4.51" textLength="6.33" lengthAdjust="spacingAndGlyphs">−2</text><text x="433.56" y="354.9" font-size="6.44" textLength="6.15" lengthAdjust="spacingAndGlyphs">yr</text><text x="439.71" y="352.88" font-size="4.51" textLength="6.33" lengthAdjust="spacingAndGlyphs">−1</text><text x="446.03" y="354.9" font-size="6.44" textLength="2.39" lengthAdjust="spacingAndGlyphs">)</text>
<text x="283.54" y="355.6" font-size="6.44" text-anchor="start" textLength="2.16" lengthAdjust="spacingAndGlyphs">f</text>
<path d="M276.25 481L285.55 475.5L286.15 475.5L286.15 486.5L285.55 486.5Z" fill="#8e0152"/>
<path d="M492.15 481L482.85 475.5L482.25 475.5L482.25 486.5L482.85 486.5Z" fill="#498e20"/>
<rect x="285.55" y="475.5" width="20.33" height="11" fill="#c2197a"/>
<rect x="305.28" y="475.5" width="20.33" height="11" fill="#d966a6"/>
<rect x="325.01" y="475.5" width="20.33" height="11" fill="#eca4cf"/>
<rect x="344.74" y="475.5" width="20.33" height="11" fill="#f9d1e7"/>
<rect x="364.47" y="475.5" width="40.06" height="11" fill="#ffffff"/>
<rect x="403.93" y="475.5" width="20.33" height="11" fill="#eff6e8"/>
<rect x="423.66" y="475.5" width="20.33" height="11" fill="#d5eeb7"/>
<rect x="443.39" y="475.5" width="20.33" height="11" fill="#a8d774"/>
<rect x="463.12" y="475.5" width="19.73" height="11" fill="#76b53c"/>
<path d="M285.55 475.5L482.85 475.5L492.15 481L482.85 486.5L285.55 486.5L276.25 481Z" fill="none" stroke="#000" stroke-width="0.32"/>
<path d="M285.55 486.5V488.1M305.28 486.5V488.1M325.01 486.5V488.1M344.74 486.5V488.1M364.47 486.5V488.1M403.93 486.5V488.1M423.66 486.5V488.1M443.39 486.5V488.1M463.12 486.5V488.1M482.85 486.5V488.1" stroke="#555" stroke-width="0.5"/>
<text x="285.55" y="493.1" font-size="5.4" text-anchor="middle" textLength="12.48" lengthAdjust="spacingAndGlyphs">−0.5</text>
<text x="305.28" y="493.1" font-size="5.4" text-anchor="middle" textLength="12.48" lengthAdjust="spacingAndGlyphs">−0.4</text>
<text x="325.01" y="493.1" font-size="5.4" text-anchor="middle" textLength="12.48" lengthAdjust="spacingAndGlyphs">−0.3</text>
<text x="344.74" y="493.1" font-size="5.4" text-anchor="middle" textLength="12.48" lengthAdjust="spacingAndGlyphs">−0.2</text>
<text x="364.47" y="493.1" font-size="5.4" text-anchor="middle" textLength="12.48" lengthAdjust="spacingAndGlyphs">−0.1</text>
<text x="403.93" y="493.1" font-size="5.4" text-anchor="middle" textLength="8.17" lengthAdjust="spacingAndGlyphs">0.1</text>
<text x="423.66" y="493.1" font-size="5.4" text-anchor="middle" textLength="8.17" lengthAdjust="spacingAndGlyphs">0.2</text>
<text x="443.39" y="493.1" font-size="5.4" text-anchor="middle" textLength="8.17" lengthAdjust="spacingAndGlyphs">0.3</text>
<text x="463.12" y="493.1" font-size="5.4" text-anchor="middle" textLength="8.17" lengthAdjust="spacingAndGlyphs">0.4</text>
<text x="482.85" y="493.1" font-size="5.4" text-anchor="middle" textLength="8.17" lengthAdjust="spacingAndGlyphs">0.5</text>
<text x="319.36" y="501.3" font-size="5.4" textLength="110.28" lengthAdjust="spacingAndGlyphs">Change in net primary productivity (kgC m</text><text x="429.64" y="499.6" font-size="3.78" textLength="5.3" lengthAdjust="spacingAndGlyphs">−2</text><text x="436.58" y="501.3" font-size="5.4" textLength="5.16" lengthAdjust="spacingAndGlyphs">yr</text><text x="441.73" y="499.6" font-size="3.78" textLength="5.3" lengthAdjust="spacingAndGlyphs">−1</text><text x="447.04" y="501.3" font-size="5.4" textLength="2.01" lengthAdjust="spacingAndGlyphs">)</text>
</svg></body></html>
